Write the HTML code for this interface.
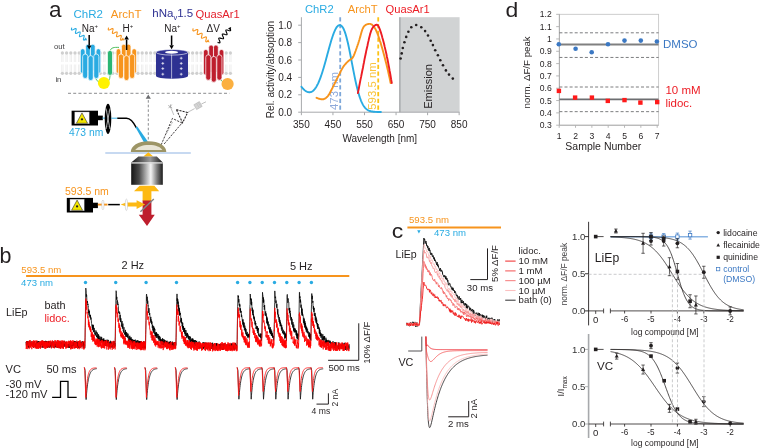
<!DOCTYPE html>
<html><head><meta charset="utf-8"><style>
html,body{margin:0;padding:0;background:#fff;}
body{width:760px;height:448px;overflow:hidden;}
svg{display:block;filter:blur(0.3px);}
text{font-family:"Liberation Sans",sans-serif;}
</style></head><body>
<svg width="760" height="448" viewBox="0 0 760 448">
<rect width="760" height="448" fill="#fff"/>
<text x="49.0" y="17.4" font-size="22.5" fill="#231f20" text-anchor="start" >a</text>
<text x="73.5" y="17.9" font-size="11.5" fill="#29abe2" text-anchor="start" >ChR2</text>
<text x="110.8" y="17.9" font-size="11.5" fill="#f7941d" text-anchor="start" >ArchT</text>
<text x="152.3" y="17.0" font-size="11.5" fill="#2e3192">hNa<tspan font-size="7.5" dy="2.8">v</tspan><tspan dy="-2.8">1.5</tspan></text>
<text x="195.6" y="17.8" font-size="11.2" fill="#e3202c" text-anchor="start" >QuasAr1</text>
<text x="81.8" y="31.7" font-size="10" fill="#231f20">Na<tspan font-size="6" dy="-3.5">+</tspan></text>
<text x="122.6" y="31.7" font-size="10" fill="#231f20">H<tspan font-size="6" dy="-3.5">+</tspan></text>
<text x="164.3" y="31.7" font-size="10" fill="#231f20">Na<tspan font-size="6" dy="-3.5">+</tspan></text>
<text x="206.6" y="31.7" font-size="10" fill="#231f20" text-anchor="start" >ΔV</text>
<path d="M61.70,54.5 L61.70,62 M63.10,54.5 L63.10,62 M61.70,64.5 L61.70,72 M63.10,64.5 L63.10,72 M65.90,54.5 L65.90,62 M67.30,54.5 L67.30,62 M65.90,64.5 L65.90,72 M67.30,64.5 L67.30,72 M70.10,54.5 L70.10,62 M71.50,54.5 L71.50,62 M70.10,64.5 L70.10,72 M71.50,64.5 L71.50,72 M74.30,54.5 L74.30,62 M75.70,54.5 L75.70,62 M74.30,64.5 L74.30,72 M75.70,64.5 L75.70,72 M78.50,54.5 L78.50,62 M79.90,54.5 L79.90,62 M78.50,64.5 L78.50,72 M79.90,64.5 L79.90,72 M82.70,54.5 L82.70,62 M84.10,54.5 L84.10,62 M82.70,64.5 L82.70,72 M84.10,64.5 L84.10,72 M86.90,54.5 L86.90,62 M88.30,54.5 L88.30,62 M86.90,64.5 L86.90,72 M88.30,64.5 L88.30,72 M91.10,54.5 L91.10,62 M92.50,54.5 L92.50,62 M91.10,64.5 L91.10,72 M92.50,64.5 L92.50,72 M95.30,54.5 L95.30,62 M96.70,54.5 L96.70,62 M95.30,64.5 L95.30,72 M96.70,64.5 L96.70,72 M99.50,54.5 L99.50,62 M100.90,54.5 L100.90,62 M99.50,64.5 L99.50,72 M100.90,64.5 L100.90,72 M103.70,54.5 L103.70,62 M105.10,54.5 L105.10,62 M103.70,64.5 L103.70,72 M105.10,64.5 L105.10,72 M107.90,54.5 L107.90,62 M109.30,54.5 L109.30,62 M107.90,64.5 L107.90,72 M109.30,64.5 L109.30,72 M112.10,54.5 L112.10,62 M113.50,54.5 L113.50,62 M112.10,64.5 L112.10,72 M113.50,64.5 L113.50,72 M116.30,54.5 L116.30,62 M117.70,54.5 L117.70,62 M116.30,64.5 L116.30,72 M117.70,64.5 L117.70,72 M120.50,54.5 L120.50,62 M121.90,54.5 L121.90,62 M120.50,64.5 L120.50,72 M121.90,64.5 L121.90,72 M124.70,54.5 L124.70,62 M126.10,54.5 L126.10,62 M124.70,64.5 L124.70,72 M126.10,64.5 L126.10,72 M128.90,54.5 L128.90,62 M130.30,54.5 L130.30,62 M128.90,64.5 L128.90,72 M130.30,64.5 L130.30,72 M133.10,54.5 L133.10,62 M134.50,54.5 L134.50,62 M133.10,64.5 L133.10,72 M134.50,64.5 L134.50,72 M137.30,54.5 L137.30,62 M138.70,54.5 L138.70,62 M137.30,64.5 L137.30,72 M138.70,64.5 L138.70,72 M141.50,54.5 L141.50,62 M142.90,54.5 L142.90,62 M141.50,64.5 L141.50,72 M142.90,64.5 L142.90,72 M145.70,54.5 L145.70,62 M147.10,54.5 L147.10,62 M145.70,64.5 L145.70,72 M147.10,64.5 L147.10,72 M149.90,54.5 L149.90,62 M151.30,54.5 L151.30,62 M149.90,64.5 L149.90,72 M151.30,64.5 L151.30,72 M154.10,54.5 L154.10,62 M155.50,54.5 L155.50,62 M154.10,64.5 L154.10,72 M155.50,64.5 L155.50,72 M158.30,54.5 L158.30,62 M159.70,54.5 L159.70,62 M158.30,64.5 L158.30,72 M159.70,64.5 L159.70,72 M162.50,54.5 L162.50,62 M163.90,54.5 L163.90,62 M162.50,64.5 L162.50,72 M163.90,64.5 L163.90,72 M166.70,54.5 L166.70,62 M168.10,54.5 L168.10,62 M166.70,64.5 L166.70,72 M168.10,64.5 L168.10,72 M170.90,54.5 L170.90,62 M172.30,54.5 L172.30,62 M170.90,64.5 L170.90,72 M172.30,64.5 L172.30,72 M175.10,54.5 L175.10,62 M176.50,54.5 L176.50,62 M175.10,64.5 L175.10,72 M176.50,64.5 L176.50,72 M179.30,54.5 L179.30,62 M180.70,54.5 L180.70,62 M179.30,64.5 L179.30,72 M180.70,64.5 L180.70,72 M183.50,54.5 L183.50,62 M184.90,54.5 L184.90,62 M183.50,64.5 L183.50,72 M184.90,64.5 L184.90,72 M187.70,54.5 L187.70,62 M189.10,54.5 L189.10,62 M187.70,64.5 L187.70,72 M189.10,64.5 L189.10,72 M191.90,54.5 L191.90,62 M193.30,54.5 L193.30,62 M191.90,64.5 L191.90,72 M193.30,64.5 L193.30,72 M196.10,54.5 L196.10,62 M197.50,54.5 L197.50,62 M196.10,64.5 L196.10,72 M197.50,64.5 L197.50,72 M200.30,54.5 L200.30,62 M201.70,54.5 L201.70,62 M200.30,64.5 L200.30,72 M201.70,64.5 L201.70,72 M204.50,54.5 L204.50,62 M205.90,54.5 L205.90,62 M204.50,64.5 L204.50,72 M205.90,64.5 L205.90,72 M208.70,54.5 L208.70,62 M210.10,54.5 L210.10,62 M208.70,64.5 L208.70,72 M210.10,64.5 L210.10,72 M212.90,54.5 L212.90,62 M214.30,54.5 L214.30,62 M212.90,64.5 L212.90,72 M214.30,64.5 L214.30,72 M217.10,54.5 L217.10,62 M218.50,54.5 L218.50,62 M217.10,64.5 L217.10,72 M218.50,64.5 L218.50,72 M221.30,54.5 L221.30,62 M222.70,54.5 L222.70,62 M221.30,64.5 L221.30,72 M222.70,64.5 L222.70,72 M225.50,54.5 L225.50,62 M226.90,54.5 L226.90,62 M225.50,64.5 L225.50,72 M226.90,64.5 L226.90,72 M229.70,54.5 L229.70,62 M231.10,54.5 L231.10,62 M229.70,64.5 L229.70,72 M231.10,64.5 L231.10,72" stroke="#dedede" stroke-width="0.5" fill="none"/>
<circle cx="62.40" cy="53.0" r="1.65" fill="#cfcfcf"/><circle cx="62.40" cy="73.3" r="1.65" fill="#cfcfcf"/>
<circle cx="66.60" cy="53.0" r="1.65" fill="#cfcfcf"/><circle cx="66.60" cy="73.3" r="1.65" fill="#cfcfcf"/>
<circle cx="70.80" cy="53.0" r="1.65" fill="#cfcfcf"/><circle cx="70.80" cy="73.3" r="1.65" fill="#cfcfcf"/>
<circle cx="75.00" cy="53.0" r="1.65" fill="#cfcfcf"/><circle cx="75.00" cy="73.3" r="1.65" fill="#cfcfcf"/>
<circle cx="79.20" cy="53.0" r="1.65" fill="#cfcfcf"/><circle cx="79.20" cy="73.3" r="1.65" fill="#cfcfcf"/>
<circle cx="83.40" cy="53.0" r="1.65" fill="#cfcfcf"/><circle cx="83.40" cy="73.3" r="1.65" fill="#cfcfcf"/>
<circle cx="87.60" cy="53.0" r="1.65" fill="#cfcfcf"/><circle cx="87.60" cy="73.3" r="1.65" fill="#cfcfcf"/>
<circle cx="91.80" cy="53.0" r="1.65" fill="#cfcfcf"/><circle cx="91.80" cy="73.3" r="1.65" fill="#cfcfcf"/>
<circle cx="96.00" cy="53.0" r="1.65" fill="#cfcfcf"/><circle cx="96.00" cy="73.3" r="1.65" fill="#cfcfcf"/>
<circle cx="100.20" cy="53.0" r="1.65" fill="#cfcfcf"/><circle cx="100.20" cy="73.3" r="1.65" fill="#cfcfcf"/>
<circle cx="104.40" cy="53.0" r="1.65" fill="#cfcfcf"/><circle cx="104.40" cy="73.3" r="1.65" fill="#cfcfcf"/>
<circle cx="108.60" cy="53.0" r="1.65" fill="#cfcfcf"/><circle cx="108.60" cy="73.3" r="1.65" fill="#cfcfcf"/>
<circle cx="112.80" cy="53.0" r="1.65" fill="#cfcfcf"/><circle cx="112.80" cy="73.3" r="1.65" fill="#cfcfcf"/>
<circle cx="117.00" cy="53.0" r="1.65" fill="#cfcfcf"/><circle cx="117.00" cy="73.3" r="1.65" fill="#cfcfcf"/>
<circle cx="121.20" cy="53.0" r="1.65" fill="#cfcfcf"/><circle cx="121.20" cy="73.3" r="1.65" fill="#cfcfcf"/>
<circle cx="125.40" cy="53.0" r="1.65" fill="#cfcfcf"/><circle cx="125.40" cy="73.3" r="1.65" fill="#cfcfcf"/>
<circle cx="129.60" cy="53.0" r="1.65" fill="#cfcfcf"/><circle cx="129.60" cy="73.3" r="1.65" fill="#cfcfcf"/>
<circle cx="133.80" cy="53.0" r="1.65" fill="#cfcfcf"/><circle cx="133.80" cy="73.3" r="1.65" fill="#cfcfcf"/>
<circle cx="138.00" cy="53.0" r="1.65" fill="#cfcfcf"/><circle cx="138.00" cy="73.3" r="1.65" fill="#cfcfcf"/>
<circle cx="142.20" cy="53.0" r="1.65" fill="#cfcfcf"/><circle cx="142.20" cy="73.3" r="1.65" fill="#cfcfcf"/>
<circle cx="146.40" cy="53.0" r="1.65" fill="#cfcfcf"/><circle cx="146.40" cy="73.3" r="1.65" fill="#cfcfcf"/>
<circle cx="150.60" cy="53.0" r="1.65" fill="#cfcfcf"/><circle cx="150.60" cy="73.3" r="1.65" fill="#cfcfcf"/>
<circle cx="154.80" cy="53.0" r="1.65" fill="#cfcfcf"/><circle cx="154.80" cy="73.3" r="1.65" fill="#cfcfcf"/>
<circle cx="159.00" cy="53.0" r="1.65" fill="#cfcfcf"/><circle cx="159.00" cy="73.3" r="1.65" fill="#cfcfcf"/>
<circle cx="163.20" cy="53.0" r="1.65" fill="#cfcfcf"/><circle cx="163.20" cy="73.3" r="1.65" fill="#cfcfcf"/>
<circle cx="167.40" cy="53.0" r="1.65" fill="#cfcfcf"/><circle cx="167.40" cy="73.3" r="1.65" fill="#cfcfcf"/>
<circle cx="171.60" cy="53.0" r="1.65" fill="#cfcfcf"/><circle cx="171.60" cy="73.3" r="1.65" fill="#cfcfcf"/>
<circle cx="175.80" cy="53.0" r="1.65" fill="#cfcfcf"/><circle cx="175.80" cy="73.3" r="1.65" fill="#cfcfcf"/>
<circle cx="180.00" cy="53.0" r="1.65" fill="#cfcfcf"/><circle cx="180.00" cy="73.3" r="1.65" fill="#cfcfcf"/>
<circle cx="184.20" cy="53.0" r="1.65" fill="#cfcfcf"/><circle cx="184.20" cy="73.3" r="1.65" fill="#cfcfcf"/>
<circle cx="188.40" cy="53.0" r="1.65" fill="#cfcfcf"/><circle cx="188.40" cy="73.3" r="1.65" fill="#cfcfcf"/>
<circle cx="192.60" cy="53.0" r="1.65" fill="#cfcfcf"/><circle cx="192.60" cy="73.3" r="1.65" fill="#cfcfcf"/>
<circle cx="196.80" cy="53.0" r="1.65" fill="#cfcfcf"/><circle cx="196.80" cy="73.3" r="1.65" fill="#cfcfcf"/>
<circle cx="201.00" cy="53.0" r="1.65" fill="#cfcfcf"/><circle cx="201.00" cy="73.3" r="1.65" fill="#cfcfcf"/>
<circle cx="205.20" cy="53.0" r="1.65" fill="#cfcfcf"/><circle cx="205.20" cy="73.3" r="1.65" fill="#cfcfcf"/>
<circle cx="209.40" cy="53.0" r="1.65" fill="#cfcfcf"/><circle cx="209.40" cy="73.3" r="1.65" fill="#cfcfcf"/>
<circle cx="213.60" cy="53.0" r="1.65" fill="#cfcfcf"/><circle cx="213.60" cy="73.3" r="1.65" fill="#cfcfcf"/>
<circle cx="217.80" cy="53.0" r="1.65" fill="#cfcfcf"/><circle cx="217.80" cy="73.3" r="1.65" fill="#cfcfcf"/>
<circle cx="222.00" cy="53.0" r="1.65" fill="#cfcfcf"/><circle cx="222.00" cy="73.3" r="1.65" fill="#cfcfcf"/>
<circle cx="226.20" cy="53.0" r="1.65" fill="#cfcfcf"/><circle cx="226.20" cy="73.3" r="1.65" fill="#cfcfcf"/>
<circle cx="230.40" cy="53.0" r="1.65" fill="#cfcfcf"/><circle cx="230.40" cy="73.3" r="1.65" fill="#cfcfcf"/>
<text x="54.0" y="48.9" font-size="7.7" fill="#414042" text-anchor="start" >out</text>
<text x="55.4" y="81.8" font-size="7.7" fill="#414042" text-anchor="start" >in</text>
<path d="M95.5,78 Q96.5,81 99,82" stroke="#39b54a" stroke-width="0.8" fill="none"/>
<path d="M108.5,81 Q110,79 110.2,75" stroke="#39b54a" stroke-width="0.8" fill="none"/>
<rect x="80.35" y="48.7" width="4.7" height="24.799999999999997" rx="2.35" fill="#29abe2" stroke="#fff" stroke-width="0.7"/>
<rect x="85.65" y="44.2" width="4.7" height="26.799999999999997" rx="2.35" fill="#29abe2" stroke="#fff" stroke-width="0.7"/>
<rect x="90.45" y="44.2" width="4.7" height="26.799999999999997" rx="2.35" fill="#29abe2" stroke="#fff" stroke-width="0.7"/>
<rect x="96.05" y="48.7" width="4.7" height="24.799999999999997" rx="2.35" fill="#29abe2" stroke="#fff" stroke-width="0.7"/>
<rect x="82.65" y="54.0" width="5.1" height="24.5" rx="2.55" fill="#29abe2" stroke="#fff" stroke-width="0.7"/>
<rect x="88.15" y="55.6" width="5.1" height="24.9" rx="2.55" fill="#29abe2" stroke="#fff" stroke-width="0.7"/>
<rect x="93.75" y="54.0" width="5.1" height="24.5" rx="2.55" fill="#29abe2" stroke="#fff" stroke-width="0.7"/>
<circle cx="103.9" cy="83.0" r="6.0" fill="#fff200"/>
<path d="M110,51 C111,47.5 114,47.2 119,47.4" stroke="#39b54a" stroke-width="0.9" fill="none"/>
<rect x="107.50" y="50.4" width="5.0" height="25.000000000000007" rx="2.5" fill="#2bb673" stroke="#fff" stroke-width="0.7"/>
<rect x="116.15" y="48.7" width="4.7" height="24.799999999999997" rx="2.35" fill="#f7941d" stroke="#fff" stroke-width="0.7"/>
<rect x="121.45" y="44.2" width="4.7" height="26.799999999999997" rx="2.35" fill="#f7941d" stroke="#fff" stroke-width="0.7"/>
<rect x="126.25" y="44.2" width="4.7" height="26.799999999999997" rx="2.35" fill="#f7941d" stroke="#fff" stroke-width="0.7"/>
<rect x="131.85" y="48.7" width="4.7" height="24.799999999999997" rx="2.35" fill="#f7941d" stroke="#fff" stroke-width="0.7"/>
<rect x="118.45" y="54.0" width="5.1" height="24.5" rx="2.55" fill="#f7941d" stroke="#fff" stroke-width="0.7"/>
<rect x="123.95" y="55.6" width="5.1" height="24.9" rx="2.55" fill="#f7941d" stroke="#fff" stroke-width="0.7"/>
<rect x="129.55" y="54.0" width="5.1" height="24.5" rx="2.55" fill="#f7941d" stroke="#fff" stroke-width="0.7"/>
<path d="M156,52.3 L156,76 A16,2.8 0 0 0 188,76 L188,52.3 Z" fill="#2e3192"/>
<ellipse cx="172" cy="52.3" rx="16" ry="2.8" fill="#2e3192" stroke="#fff" stroke-width="0.6"/>
<ellipse cx="171.6" cy="52.2" rx="6.6" ry="1.5" fill="#fff"/>
<line x1="171.6" y1="54.5" x2="171.6" y2="78.6" stroke="#fff" stroke-width="0.6" />
<path d="M161.4,58.2 h2.8 M162.8,56.800000000000004 v2.8" stroke="#fff" stroke-width="0.7"/>
<path d="M179.79999999999998,58.2 h2.8 M181.2,56.800000000000004 v2.8" stroke="#fff" stroke-width="0.7"/>
<path d="M161.4,63.4 h2.8 M162.8,62.0 v2.8" stroke="#fff" stroke-width="0.7"/>
<path d="M179.79999999999998,63.4 h2.8 M181.2,62.0 v2.8" stroke="#fff" stroke-width="0.7"/>
<path d="M161.4,68.6 h2.8 M162.8,67.19999999999999 v2.8" stroke="#fff" stroke-width="0.7"/>
<path d="M179.79999999999998,68.6 h2.8 M181.2,67.19999999999999 v2.8" stroke="#fff" stroke-width="0.7"/>
<path d="M161.4,74.2 h2.8 M162.8,72.8 v2.8" stroke="#fff" stroke-width="0.7"/>
<path d="M179.79999999999998,74.2 h2.8 M181.2,72.8 v2.8" stroke="#fff" stroke-width="0.7"/>
<path d="M221,80 Q222,82 224,82" stroke="#39b54a" stroke-width="0.8" fill="none"/>
<rect x="203.45" y="49.5" width="4.7" height="25.700000000000003" rx="2.35" fill="#be1e2d" stroke="#fff" stroke-width="0.7"/>
<rect x="208.75" y="45.0" width="4.7" height="27.700000000000003" rx="2.35" fill="#be1e2d" stroke="#fff" stroke-width="0.7"/>
<rect x="213.55" y="45.0" width="4.7" height="27.700000000000003" rx="2.35" fill="#be1e2d" stroke="#fff" stroke-width="0.7"/>
<rect x="219.15" y="49.5" width="4.7" height="25.700000000000003" rx="2.35" fill="#be1e2d" stroke="#fff" stroke-width="0.7"/>
<rect x="205.75" y="54.8" width="5.1" height="25.400000000000006" rx="2.55" fill="#be1e2d" stroke="#fff" stroke-width="0.7"/>
<rect x="211.25" y="56.4" width="5.1" height="25.800000000000004" rx="2.55" fill="#be1e2d" stroke="#fff" stroke-width="0.7"/>
<rect x="216.85" y="54.8" width="5.1" height="25.400000000000006" rx="2.55" fill="#be1e2d" stroke="#fff" stroke-width="0.7"/>
<circle cx="227.6" cy="84.0" r="6.1" fill="#fbb040"/>
<line x1="89.2" y1="35.0" x2="89.2" y2="45.5" stroke="#000" stroke-width="1.5" />
<path d="M89.20,49.50 L86.90,45.50 L91.50,45.50 Z" fill="#000"/>
<line x1="126.6" y1="50" x2="126.6" y2="39.6" stroke="#000" stroke-width="1.5" />
<path d="M126.60,35.60 L128.90,39.60 L124.30,39.60 Z" fill="#000"/>
<line x1="171.6" y1="35.5" x2="171.6" y2="45.2" stroke="#000" stroke-width="1.5" />
<path d="M171.60,49.20 L169.30,45.20 L173.90,45.20 Z" fill="#000"/>
<path d="M71.80,27.60 L71.59,28.32 L71.45,28.97 L71.41,29.49 L71.52,29.83 L71.78,29.99 L72.21,29.96 L72.77,29.77 L73.42,29.48 L74.10,29.15 L74.75,28.85 L75.32,28.64 L75.77,28.59 L76.06,28.72 L76.19,29.04 L76.17,29.53 L76.04,30.17 L75.84,30.88 L75.63,31.60 L75.47,32.26 L75.41,32.80 L75.50,33.18 L75.74,33.36 L76.15,33.36 L76.69,33.19 L77.33,32.91 L78.01,32.58 L78.67,32.27 L79.26,32.05 L79.72,31.97 L80.04,32.07 L80.19,32.36 L80.19,32.84 L80.07,33.45 L79.88,34.16 L79.66,34.88 L79.49,35.56 L79.42,36.12 L79.48,36.52 L79.71,36.73 L80.09,36.75 L80.61,36.60 L81.24,36.34 L81.92,36.01 L82.58,35.69 L83.19,35.45 L83.67,35.35 L84.01,35.42 L84.19,35.69 L84.21,36.14 L84.10,36.74 L83.91,37.44 L83.70,38.16 L83.52,38.85 L83.43,39.43 L83.47,39.85 L83.67,40.09 L84.03,40.14 L84.54,40.02 L85.15,39.76 L85.82,39.44" fill="none" stroke="#29abe2" stroke-width="1.1"/>
<path d="M87.20,40.60 L83.94,39.81 L85.88,37.52 Z" fill="#29abe2"/>
<path d="M108.60,27.60 L108.41,28.32 L108.27,28.98 L108.24,29.50 L108.36,29.85 L108.63,30.01 L109.06,29.97 L109.62,29.78 L110.27,29.49 L110.95,29.15 L111.61,28.84 L112.18,28.63 L112.63,28.58 L112.93,28.70 L113.07,29.03 L113.06,29.53 L112.93,30.16 L112.75,30.88 L112.55,31.61 L112.40,32.28 L112.36,32.82 L112.45,33.20 L112.70,33.38 L113.11,33.38 L113.65,33.20 L114.29,32.92 L114.97,32.58 L115.63,32.27 L116.22,32.04 L116.69,31.96 L117.01,32.06 L117.17,32.36 L117.18,32.83 L117.07,33.45 L116.89,34.17 L116.69,34.90 L116.54,35.58 L116.47,36.14 L116.55,36.54 L116.77,36.76 L117.16,36.77 L117.69,36.63 L118.31,36.35 L118.99,36.02 L119.66,35.70 L120.26,35.45 L120.75,35.35 L121.09,35.42 L121.28,35.69 L121.31,36.14 L121.21,36.75 L121.04,37.45 L120.84,38.18 L120.67,38.87 L120.59,39.46 L120.64,39.89 L120.85,40.13 L121.21,40.17 L121.72,40.04 L122.34,39.78 L123.01,39.46" fill="none" stroke="#f7941d" stroke-width="1.1"/>
<path d="M124.40,40.60 L121.13,39.85 L123.04,37.54 Z" fill="#f7941d"/>
<path d="M193.20,28.40 L193.01,29.13 L192.88,29.79 L192.85,30.33 L192.98,30.69 L193.26,30.87 L193.71,30.85 L194.28,30.68 L194.95,30.41 L195.65,30.10 L196.32,29.82 L196.91,29.63 L197.38,29.59 L197.69,29.74 L197.83,30.07 L197.83,30.59 L197.71,31.23 L197.52,31.96 L197.33,32.70 L197.18,33.37 L197.14,33.93 L197.24,34.32 L197.50,34.52 L197.93,34.53 L198.49,34.38 L199.14,34.12 L199.84,33.81 L200.52,33.52 L201.13,33.31 L201.62,33.25 L201.95,33.37 L202.12,33.68 L202.13,34.17 L202.03,34.80 L201.85,35.52 L201.65,36.26 L201.49,36.95 L201.43,37.52 L201.51,37.94 L201.75,38.17 L202.15,38.21 L202.69,38.08 L203.34,37.83 L204.04,37.52 L204.72,37.22 L205.35,37.00 L205.85,36.92 L206.21,37.01 L206.40,37.29 L206.43,37.76 L206.34,38.37 L206.17,39.08 L205.97,39.82 L205.81,40.52 L205.73,41.12 L205.79,41.56 L206.00,41.81 L206.38,41.88 L206.90,41.77 L207.54,41.54 L208.23,41.23" fill="none" stroke="#f7941d" stroke-width="1.1"/>
<path d="M209.60,42.40 L206.34,41.59 L208.29,39.31 Z" fill="#f7941d"/>
<path d="M217.60,42.40 L218.32,42.62 L218.97,42.77 L219.49,42.82 L219.84,42.71 L220.01,42.44 L219.99,42.01 L219.82,41.45 L219.55,40.79 L219.24,40.10 L218.96,39.43 L218.77,38.85 L218.73,38.39 L218.87,38.10 L219.19,37.97 L219.70,38.00 L220.33,38.14 L221.04,38.35 L221.76,38.57 L222.43,38.74 L222.97,38.81 L223.35,38.72 L223.54,38.48 L223.55,38.07 L223.40,37.52 L223.14,36.87 L222.83,36.18 L222.54,35.51 L222.33,34.91 L222.27,34.43 L222.38,34.12 L222.68,33.97 L223.16,33.97 L223.78,34.10 L224.48,34.31 L225.21,34.53 L225.88,34.71 L226.45,34.79 L226.85,34.73 L227.07,34.51 L227.11,34.12 L226.98,33.59 L226.73,32.95 L226.42,32.26 L226.12,31.58 L225.90,30.97 L225.81,30.48 L225.90,30.14 L226.17,29.96 L226.63,29.95 L227.23,30.06 L227.92,30.26 L228.65,30.48 L229.34,30.67 L229.92,30.77 L230.35,30.73 L230.60,30.54 L230.66,30.17 L230.55,29.66 L230.31,29.03 L230.01,28.35" fill="none" stroke="#000" stroke-width="1.1"/>
<path d="M231.20,27.00 L230.34,30.24 L228.09,28.26 Z" fill="#000"/>
<line x1="68" y1="93.3" x2="229.5" y2="93.3" stroke="#6d6e71" stroke-width="0.8" stroke-dasharray="3,2.2"/>
<line x1="148.3" y1="139.5" x2="148.3" y2="98.3" stroke="#6d6e71" stroke-width="0.8" stroke-dasharray="2.6,2"/>
<path d="M148.3,94.6 L150.9,98.8 L145.7,98.8 Z" fill="#6d6e71"/>
<rect x="71.6" y="110.7" width="26.400000000000006" height="14.799999999999997" fill="#000"/>
<rect x="98" y="115.6" width="4.799999999999997" height="4.6000000000000085" fill="#000"/>
<rect x="74.80" y="112.00" width="14.36" height="11.80" fill="#fff" stroke="#aaa" stroke-width="0.4"/>
<path d="M81.98,112.90 L87.58,123.30 L76.38,123.30 Z" fill="#f2e600" stroke="#231f20" stroke-width="0.55" stroke-linejoin="round"/>
<circle cx="81.98" cy="119.35" r="1.15" fill="#231f20"/>
<line x1="102.5" y1="118.1" x2="105.5" y2="118.1" stroke="#29abe2" stroke-width="0.9" />
<ellipse cx="108.0" cy="118.8" rx="3.3" ry="15.1" fill="#000"/>
<path d="M106.0,108.5 Q108,118.8 110.0,129.1 M110.0,108.5 Q108,118.8 106.0,129.1" stroke="#fff" stroke-width="0.7" fill="none"/>
<path d="M105.8,112 Q108,110 110.2,112 M105.8,125.6 Q108,127.6 110.2,125.6" stroke="#777" stroke-width="0.4" fill="none"/>
<line x1="111.2" y1="118.2" x2="117.5" y2="118.2" stroke="#29abe2" stroke-width="0.9" />
<path d="M117.3,118.2 L126.5,118.2 C130.5,118.2 133,121 136.4,127.9" fill="none" stroke="#000" stroke-width="1.4"/>
<path d="M135.6,127.4 L137.3,126.6 L148.0,141.8 L143.9,142.2 Z" fill="#29abe2"/>
<text x="68.9" y="135.5" font-size="10.3" fill="#29abe2" text-anchor="start" >473 nm</text>
<path d="M161.2,144.8 L172.4,118.4 L182.0,123.0 L163.8,144.4" stroke="#231f20" stroke-width="0.85" stroke-dasharray="2.2,1.2" fill="none"/>
<path d="M166.5,133.5 L172.8,121.5" stroke="#555" stroke-width="0.5" stroke-dasharray="1.6,1.2" fill="none"/>
<path d="M176.4,109.6 L187.6,112.6 L182.6,122.8 Z" stroke="#231f20" stroke-width="1.05" stroke-dasharray="2.1,1.1" fill="none"/>
<path d="M173.8,115.0 L170.6,107.2" stroke="#808080" stroke-width="0.5" fill="none"/>
<path d="M168.2,105.4 l4,2.6 M168.6,108.2 l3.2,-3.6 M170.6,104.4 v3.4" stroke="#9a9a9a" stroke-width="0.7"/>
<path d="M187.6,112.4 L194.6,108.6" stroke="#808080" stroke-width="0.5"/>
<rect x="-3.2" y="-2.8" width="6.4" height="5.6" fill="#d4d4d4" stroke="#a0a0a0" stroke-width="0.4" transform="translate(198,105.6) rotate(-30)"/>
<path d="M196.6,103.4 l2.4,4 M198.4,102.6 l2.4,4" stroke="#b0b0b0" stroke-width="0.4"/>
<path d="M201.4,104.0 L206.0,101.8" stroke="#808080" stroke-width="0.5"/>
<path d="M130.8,152 C130.8,146 138,141.3 148.5,141.3 C159,141.3 166.3,146 166.3,152 Z" fill="#9d9566"/>
<path d="M135.2,150.0 C137.5,147.0 142,145.0 149,145.0 C156,145.0 160.5,147.0 162.4,150.0 Z" fill="#e9e5d6"/>
<line x1="105.3" y1="153.0" x2="190.8" y2="153.0" stroke="#8fb4e3" stroke-width="1.2" />
<path d="M148.3,152.2 L153.3,156.6 L143.3,156.6 Z" fill="#fdb913"/>
<defs><linearGradient id="obj" x1="0" x2="1" y1="0" y2="0">
<stop offset="0" stop-color="#151515"/><stop offset="0.25" stop-color="#4a4a4a"/><stop offset="0.62" stop-color="#f4f4f4"/><stop offset="0.82" stop-color="#7a7a7a"/><stop offset="1" stop-color="#1a1a1a"/></linearGradient>
<linearGradient id="objtop" x1="0" x2="1" y1="0" y2="0">
<stop offset="0" stop-color="#1a1a1a"/><stop offset="0.6" stop-color="#9a9a9a"/><stop offset="1" stop-color="#1a1a1a"/></linearGradient></defs>
<path d="M138.4,156.6 L156.8,156.6 L162.8,162.6 L131.2,162.6 Z" fill="url(#objtop)"/>
<rect x="131.2" y="162.4" width="31.6" height="22.4" fill="url(#obj)"/>
<rect x="131.2" y="162.2" width="31.6" height="1.5" fill="#d8d8d8" opacity="0.85"/>
<path d="M134,191.2 L139.6,185.8 L154.4,185.8 L159.2,191.2 L151.4,191.2 L151.4,201 L142.6,201 L142.6,191.2 Z" fill="#fdb913"/>
<path d="M142.6,200.6 L151.4,200.6 L151.4,214.8 L154.8,214.8 L147,226.0 L138.8,214.8 L142.6,214.8 Z" fill="#be1e2d"/>
<line x1="140.4" y1="211.8" x2="153.8" y2="199" stroke="#808285" stroke-width="1.4" />
<rect x="66.8" y="197.9" width="26.200000000000003" height="14.599999999999994" fill="#000"/>
<rect x="93" y="202.7" width="4.900000000000006" height="5.400000000000006" fill="#000"/>
<rect x="70.00" y="199.20" width="14.16" height="11.60" fill="#fff" stroke="#aaa" stroke-width="0.4"/>
<path d="M77.08,200.10 L82.60,210.30 L71.56,210.30 Z" fill="#f2e600" stroke="#231f20" stroke-width="0.55" stroke-linejoin="round"/>
<circle cx="77.08" cy="206.42" r="1.15" fill="#231f20"/>
<line x1="97.9" y1="204.6" x2="107.5" y2="204.6" stroke="#f7941d" stroke-width="1.9" />
<ellipse cx="102.9" cy="204.9" rx="1.1" ry="4.9" fill="#fff" stroke="#bbb" stroke-width="0.5"/>
<line x1="108.2" y1="204.6" x2="119.8" y2="204.6" stroke="#000" stroke-width="1.5" />
<path d="M120.6,204.6 L126.4,202.6 L136.6,202.6 L136.6,200.2 L145.2,204.6 L136.6,209.0 L136.6,206.6 L126.4,206.6 Z" fill="#fdb913"/>
<ellipse cx="126.4" cy="204.8" rx="1.2" ry="5.8" fill="#fff" stroke="#bbb" stroke-width="0.5"/>
<text x="65.0" y="194.6" font-size="10.5" fill="#f7941d" text-anchor="start" >593.5 nm</text>
<rect x="399.2" y="17.2" width="60.4" height="95" fill="#d1d3d4"/>
<line x1="399.9" y1="17.2" x2="399.9" y2="112.2" stroke="#a7a9ac" stroke-width="1.4" />
<line x1="301.4" y1="17.2" x2="301.4" y2="112.2" stroke="#a7a9ac" stroke-width="1.0" />
<line x1="301.4" y1="112.2" x2="459.6" y2="112.2" stroke="#a7a9ac" stroke-width="1.0" />
<line x1="298.2" y1="112.2" x2="301.4" y2="112.2" stroke="#a7a9ac" stroke-width="1.0" />
<text x="292.2" y="115.8" font-size="10" fill="#231f20" text-anchor="end" >0.0</text>
<line x1="298.2" y1="94.8" x2="301.4" y2="94.8" stroke="#a7a9ac" stroke-width="1.0" />
<text x="292.2" y="98.39999999999999" font-size="10" fill="#231f20" text-anchor="end" >0.2</text>
<line x1="298.2" y1="77.4" x2="301.4" y2="77.4" stroke="#a7a9ac" stroke-width="1.0" />
<text x="292.2" y="81.0" font-size="10" fill="#231f20" text-anchor="end" >0.4</text>
<line x1="298.2" y1="59.99999999999999" x2="301.4" y2="59.99999999999999" stroke="#a7a9ac" stroke-width="1.0" />
<text x="292.2" y="63.599999999999994" font-size="10" fill="#231f20" text-anchor="end" >0.6</text>
<line x1="298.2" y1="42.599999999999994" x2="301.4" y2="42.599999999999994" stroke="#a7a9ac" stroke-width="1.0" />
<text x="292.2" y="46.199999999999996" font-size="10" fill="#231f20" text-anchor="end" >0.8</text>
<line x1="298.2" y1="25.200000000000003" x2="301.4" y2="25.200000000000003" stroke="#a7a9ac" stroke-width="1.0" />
<text x="292.2" y="28.800000000000004" font-size="10" fill="#231f20" text-anchor="end" >1.0</text>
<line x1="301.4" y1="112.2" x2="301.4" y2="115.2" stroke="#a7a9ac" stroke-width="1.0" />
<text x="301.4" y="127.8" font-size="10" fill="#231f20" text-anchor="middle" >350</text>
<line x1="332.95" y1="112.2" x2="332.95" y2="115.2" stroke="#a7a9ac" stroke-width="1.0" />
<text x="332.95" y="127.8" font-size="10" fill="#231f20" text-anchor="middle" >450</text>
<line x1="364.5" y1="112.2" x2="364.5" y2="115.2" stroke="#a7a9ac" stroke-width="1.0" />
<text x="364.5" y="127.8" font-size="10" fill="#231f20" text-anchor="middle" >550</text>
<line x1="396.04999999999995" y1="112.2" x2="396.04999999999995" y2="115.2" stroke="#a7a9ac" stroke-width="1.0" />
<text x="396.04999999999995" y="127.8" font-size="10" fill="#231f20" text-anchor="middle" >650</text>
<line x1="427.59999999999997" y1="112.2" x2="427.59999999999997" y2="115.2" stroke="#a7a9ac" stroke-width="1.0" />
<text x="427.59999999999997" y="127.8" font-size="10" fill="#231f20" text-anchor="middle" >750</text>
<line x1="459.15" y1="112.2" x2="459.15" y2="115.2" stroke="#a7a9ac" stroke-width="1.0" />
<text x="459.15" y="127.8" font-size="10" fill="#231f20" text-anchor="middle" >850</text>
<text x="379.8" y="142.2" font-size="10" fill="#231f20" text-anchor="middle" >Wavelength [nm]</text>
<text x="0" y="0" font-size="10" fill="#231f20" text-anchor="middle" transform="translate(273.6,69.5) rotate(-90)" >Rel. activity/absoption</text>
<line x1="340.2065" y1="17.2" x2="340.2065" y2="112.2" stroke="#7da7d9" stroke-width="1.8" stroke-dasharray="4.2,2.6"/>
<line x1="378.22425" y1="17.2" x2="378.22425" y2="112.2" stroke="#fcc216" stroke-width="1.8" stroke-dasharray="4.2,2.6"/>
<text x="0" y="0" font-size="11.4" fill="#8eaadb" text-anchor="middle" transform="translate(338.3,91.0) rotate(-90)" >473 nm</text>
<text x="0" y="0" font-size="11.4" fill="#f9c33c" text-anchor="middle" transform="translate(375.8,86.0) rotate(-90)" >593.5 nm</text>
<path d="M301.40,86.68 L301.90,87.32 L302.40,87.92 L302.90,88.49 L303.40,89.02 L303.90,89.51 L304.40,89.97 L304.90,90.39 L305.40,90.76 L305.90,91.10 L306.40,91.40 L306.90,91.65 L307.40,91.86 L307.90,92.03 L308.40,92.14 L308.90,92.22 L309.40,92.24 L309.90,92.21 L310.40,92.13 L310.90,92.00 L311.40,91.81 L311.90,91.57 L312.40,91.26 L312.90,90.90 L313.40,90.48 L313.90,90.00 L314.40,89.46 L314.90,88.85 L315.40,88.17 L315.90,87.44 L316.40,86.63 L316.90,85.76 L317.40,84.82 L317.90,83.82 L318.40,82.75 L318.90,81.61 L319.40,80.41 L319.90,79.15 L320.40,77.82 L320.90,76.44 L321.40,74.99 L321.90,73.49 L322.40,71.93 L322.90,70.33 L323.40,68.68 L323.90,66.99 L324.40,65.25 L324.90,63.49 L325.40,61.69 L325.90,59.88 L326.40,58.04 L326.90,56.19 L327.40,54.34 L327.90,52.48 L328.40,50.64 L328.90,48.80 L329.40,46.99 L329.90,45.20 L330.40,43.45 L330.90,41.74 L331.40,40.08 L331.90,38.48 L332.40,36.93 L332.90,35.46 L333.40,34.06 L333.90,32.75 L334.40,31.52 L334.90,30.39 L335.40,29.36 L335.90,28.43 L336.40,27.61 L336.90,26.90 L337.40,26.32 L337.90,25.85 L338.40,25.50 L338.90,25.28 L339.40,25.18 L339.90,25.21 L340.40,25.33 L340.90,25.54 L341.40,25.87 L341.90,26.32 L342.40,26.91 L342.90,27.65 L343.40,28.53 L343.90,29.57 L344.40,30.76 L344.90,32.09 L345.40,33.58 L345.90,35.21 L346.40,36.99 L346.90,38.89 L347.40,40.91 L347.90,43.05 L348.40,45.29 L348.90,47.62 L349.40,50.04 L349.90,52.52 L350.40,55.05 L350.90,57.62 L351.40,60.22 L351.90,62.83 L352.40,65.44 L352.90,68.04 L353.40,70.61 L353.90,73.15 L354.40,75.64 L354.90,78.07 L355.40,80.43 L355.90,82.71 L356.40,84.92 L356.90,87.03 L357.40,89.05 L357.90,90.97 L358.40,92.79 L358.90,94.51 L359.40,96.13 L359.90,97.64 L360.40,99.04 L360.90,100.35 L361.40,101.56 L361.90,102.67 L362.40,103.69 L362.90,104.62 L363.40,105.47 L363.90,106.24 L364.40,106.93 L364.90,107.56 L365.40,108.12 L365.90,108.62 L366.40,109.06 L366.90,109.45 L367.40,109.80 L367.90,110.10 L368.40,110.37 L368.90,110.60 L369.40,110.81 L369.90,110.98 L370.40,111.14 L370.90,111.27 L371.40,111.38 L371.90,111.48 L372.40,111.56 L372.90,111.63 L373.40,111.69 L373.90,111.74 L374.40,111.79 L374.90,111.83 L375.40,111.86 L375.90,111.88 L376.40,111.91 L376.90,111.93 L377.40,111.95 L377.90,111.96 L378.40,111.97 L378.90,111.99 L379.40,112.00 L379.90,112.01 L380.40,112.01 L380.90,112.02" fill="none" stroke="#29abe2" stroke-width="1.9" stroke-linejoin="round" stroke-linecap="round"/>
<path d="M316.5,97.8 L316.8,97.9 L317.1,98.0 L317.5,98.2 L318.0,98.4 L318.5,98.6 L319.0,98.7 L319.5,98.9 L320.0,99.0 L320.5,99.1 L320.9,99.2 L321.4,99.3 L321.8,99.3 L322.3,99.4 L322.8,99.3 L323.3,99.3 L323.8,99.1 L324.3,98.9 L324.8,98.7 L325.3,98.4 L325.9,98.0 L326.4,97.6 L327.0,97.1 L327.5,96.5 L328.1,95.8 L328.7,94.9 L329.3,93.9 L330.0,92.8 L330.6,91.5 L331.3,90.3 L331.9,88.9 L332.6,87.7 L333.2,86.4 L333.8,85.2 L334.5,83.9 L335.1,82.6 L335.8,81.3 L336.4,80.0 L337.0,78.7 L337.7,77.4 L338.3,76.2 L338.9,75.0 L339.6,73.7 L340.2,72.5 L340.8,71.2 L341.4,70.0 L342.0,68.9 L342.7,67.8 L343.3,66.8 L343.9,65.9 L344.6,65.0 L345.2,64.3 L345.9,63.5 L346.5,62.9 L347.2,62.2 L347.8,61.6 L348.4,61.0 L349.0,60.5 L349.6,60.1 L350.1,59.7 L350.7,59.4 L351.2,59.0 L351.8,58.6 L352.3,58.1 L352.8,57.4 L353.3,56.6 L353.8,55.6 L354.2,54.5 L354.7,53.4 L355.1,52.2 L355.6,51.0 L356.0,49.8 L356.4,48.7 L356.8,47.6 L357.1,46.6 L357.5,45.6 L357.8,44.6 L358.2,43.6 L358.5,42.5 L358.9,41.3 L359.3,40.0 L359.7,38.5 L360.2,36.9 L360.7,35.1 L361.2,33.3 L361.7,31.6 L362.2,29.9 L362.8,28.5 L363.4,27.3 L364.0,26.4 L364.7,25.7 L365.4,25.1 L366.2,24.7 L366.9,24.3 L367.6,24.1 L368.3,24.0 L369.0,23.9 L369.6,23.9 L370.2,23.9 L370.8,24.1 L371.3,24.3 L371.9,24.6 L372.4,25.0 L372.9,25.6 L373.5,26.2 L374.1,26.9 L374.6,27.7 L375.1,28.6 L375.7,29.6 L376.2,30.7 L376.8,32.0 L377.4,33.4 L378.0,35.0 L378.6,36.8 L379.3,38.9 L380.0,41.1 L380.8,43.4 L381.5,45.9 L382.2,48.3 L382.9,50.7 L383.5,53.0 L384.1,55.3 L384.7,57.6 L385.3,59.9 L385.9,62.3 L386.5,64.5 L387.0,66.7 L387.5,68.8 L388.0,70.8 L388.4,72.7 L388.8,74.5 L389.2,76.3 L389.6,78.0 L389.9,79.6 L390.2,80.9 L390.4,82.1 L390.6,83.0" fill="none" stroke="#f7941d" stroke-width="1.9" stroke-linejoin="round" stroke-linecap="round" />
<path d="M357.9,93.1 L358.2,91.4 L358.7,89.1 L359.2,86.4 L359.8,83.3 L360.4,80.1 L361.1,76.9 L361.7,73.7 L362.3,70.8 L362.9,68.0 L363.4,65.1 L364.0,62.2 L364.5,59.4 L365.1,56.5 L365.7,53.8 L366.2,51.1 L366.8,48.5 L367.4,46.0 L367.9,43.4 L368.5,40.9 L369.0,38.5 L369.6,36.2 L370.1,34.1 L370.7,32.2 L371.2,30.6 L371.8,29.3 L372.4,28.2 L373.0,27.3 L373.5,26.5 L374.1,26.0 L374.7,25.6 L375.2,25.2 L375.7,25.0 L376.2,24.8 L376.6,24.7 L377.0,24.7 L377.3,24.9 L377.7,25.2 L378.1,25.7 L378.5,26.4 L379.0,27.3 L379.5,28.5 L380.0,29.9 L380.6,31.6 L381.2,33.4 L381.8,35.4 L382.3,37.5 L382.9,39.6 L383.5,41.8 L384.1,44.0 L384.6,46.4 L385.2,48.9 L385.8,51.4 L386.4,54.0 L386.9,56.7 L387.5,59.3 L388.0,61.9 L388.5,64.6 L389.1,67.6 L389.6,70.7 L390.2,73.7 L390.7,76.6 L391.1,79.2 L391.5,81.4 L391.8,83.0" fill="none" stroke="#ed1c24" stroke-width="1.9" stroke-linejoin="round" stroke-linecap="round" />
<circle cx="400.6" cy="58.5" r="1.3" fill="#231f20"/>
<circle cx="401.7" cy="53.4" r="1.3" fill="#231f20"/>
<circle cx="402.8" cy="48" r="1.3" fill="#231f20"/>
<circle cx="404.4" cy="42.2" r="1.3" fill="#231f20"/>
<circle cx="406.2" cy="36.9" r="1.3" fill="#231f20"/>
<circle cx="408.4" cy="31.7" r="1.3" fill="#231f20"/>
<circle cx="411.3" cy="27.3" r="1.3" fill="#231f20"/>
<circle cx="416.2" cy="25" r="1.3" fill="#231f20"/>
<circle cx="421.3" cy="27.3" r="1.3" fill="#231f20"/>
<circle cx="425.1" cy="31.1" r="1.3" fill="#231f20"/>
<circle cx="428" cy="35.5" r="1.3" fill="#231f20"/>
<circle cx="430.7" cy="40.7" r="1.3" fill="#231f20"/>
<circle cx="432.9" cy="45.1" r="1.3" fill="#231f20"/>
<circle cx="435.2" cy="50.3" r="1.3" fill="#231f20"/>
<circle cx="437.9" cy="55.2" r="1.3" fill="#231f20"/>
<circle cx="440.3" cy="60.3" r="1.3" fill="#231f20"/>
<circle cx="443" cy="65.2" r="1.3" fill="#231f20"/>
<circle cx="445.9" cy="70.4" r="1.3" fill="#231f20"/>
<circle cx="449" cy="74.6" r="1.3" fill="#231f20"/>
<circle cx="452.8" cy="78.6" r="1.3" fill="#231f20"/>
<text x="0" y="0" font-size="11" fill="#231f20" text-anchor="middle" transform="translate(431.6,86.4) rotate(-90)" >Emission</text>
<text x="305.0" y="13.2" font-size="11.2" fill="#29abe2" text-anchor="start" >ChR2</text>
<text x="347.8" y="13.2" font-size="11.2" fill="#f7941d" text-anchor="start" >ArchT</text>
<text x="385.6" y="13.2" font-size="11.2" fill="#ed1c24" text-anchor="start" >QuasAr1</text>
<text x="0" y="0" font-size="20.5" fill="#231f20" transform="translate(505.6,17.0) scale(1.12,1)">d</text>
<rect x="559.4" y="14.32" width="99.20000000000005" height="110.88" fill="none" stroke="#c8c8c8" stroke-width="0.9"/>
<line x1="559.4" y1="14.320000000000007" x2="559.4" y2="125.2" stroke="#b0b0b0" stroke-width="1.1" />
<line x1="559.4" y1="125.2" x2="658.6" y2="125.2" stroke="#b0b0b0" stroke-width="1.1" />
<line x1="556.1999999999999" y1="14.320000000000007" x2="559.4" y2="14.320000000000007" stroke="#b0b0b0" stroke-width="0.9" />
<text x="551.8" y="17.320000000000007" font-size="8.6" fill="#231f20" text-anchor="end" >1.2</text>
<line x1="556.1999999999999" y1="26.64000000000003" x2="559.4" y2="26.64000000000003" stroke="#b0b0b0" stroke-width="0.9" />
<text x="551.8" y="29.64000000000003" font-size="8.6" fill="#231f20" text-anchor="end" >1.1</text>
<line x1="556.1999999999999" y1="38.96000000000001" x2="559.4" y2="38.96000000000001" stroke="#b0b0b0" stroke-width="0.9" />
<text x="551.8" y="41.96000000000001" font-size="8.6" fill="#231f20" text-anchor="end" >1</text>
<line x1="556.1999999999999" y1="51.280000000000015" x2="559.4" y2="51.280000000000015" stroke="#b0b0b0" stroke-width="0.9" />
<text x="551.8" y="54.280000000000015" font-size="8.6" fill="#231f20" text-anchor="end" >0.9</text>
<line x1="556.1999999999999" y1="63.60000000000001" x2="559.4" y2="63.60000000000001" stroke="#b0b0b0" stroke-width="0.9" />
<text x="551.8" y="66.60000000000001" font-size="8.6" fill="#231f20" text-anchor="end" >0.8</text>
<line x1="556.1999999999999" y1="75.92000000000002" x2="559.4" y2="75.92000000000002" stroke="#b0b0b0" stroke-width="0.9" />
<text x="551.8" y="78.92000000000002" font-size="8.6" fill="#231f20" text-anchor="end" >0.7</text>
<line x1="556.1999999999999" y1="88.24000000000001" x2="559.4" y2="88.24000000000001" stroke="#b0b0b0" stroke-width="0.9" />
<text x="551.8" y="91.24000000000001" font-size="8.6" fill="#231f20" text-anchor="end" >0.6</text>
<line x1="556.1999999999999" y1="100.56000000000002" x2="559.4" y2="100.56000000000002" stroke="#b0b0b0" stroke-width="0.9" />
<text x="551.8" y="103.56000000000002" font-size="8.6" fill="#231f20" text-anchor="end" >0.5</text>
<line x1="556.1999999999999" y1="112.88000000000001" x2="559.4" y2="112.88000000000001" stroke="#b0b0b0" stroke-width="0.9" />
<text x="551.8" y="115.88000000000001" font-size="8.6" fill="#231f20" text-anchor="end" >0.4</text>
<line x1="556.1999999999999" y1="125.2" x2="559.4" y2="125.2" stroke="#b0b0b0" stroke-width="0.9" />
<text x="551.8" y="128.2" font-size="8.6" fill="#231f20" text-anchor="end" >0.3</text>
<line x1="559.2" y1="125.2" x2="559.2" y2="127.8" stroke="#b0b0b0" stroke-width="0.9" />
<text x="559.2" y="138.6" font-size="8.6" fill="#231f20" text-anchor="middle" >1</text>
<line x1="575.5300000000001" y1="125.2" x2="575.5300000000001" y2="127.8" stroke="#b0b0b0" stroke-width="0.9" />
<text x="575.5300000000001" y="138.6" font-size="8.6" fill="#231f20" text-anchor="middle" >2</text>
<line x1="591.86" y1="125.2" x2="591.86" y2="127.8" stroke="#b0b0b0" stroke-width="0.9" />
<text x="591.86" y="138.6" font-size="8.6" fill="#231f20" text-anchor="middle" >3</text>
<line x1="608.19" y1="125.2" x2="608.19" y2="127.8" stroke="#b0b0b0" stroke-width="0.9" />
<text x="608.19" y="138.6" font-size="8.6" fill="#231f20" text-anchor="middle" >4</text>
<line x1="624.52" y1="125.2" x2="624.52" y2="127.8" stroke="#b0b0b0" stroke-width="0.9" />
<text x="624.52" y="138.6" font-size="8.6" fill="#231f20" text-anchor="middle" >5</text>
<line x1="640.85" y1="125.2" x2="640.85" y2="127.8" stroke="#b0b0b0" stroke-width="0.9" />
<text x="640.85" y="138.6" font-size="8.6" fill="#231f20" text-anchor="middle" >6</text>
<line x1="657.1800000000001" y1="125.2" x2="657.1800000000001" y2="127.8" stroke="#b0b0b0" stroke-width="0.9" />
<text x="657.1800000000001" y="138.6" font-size="8.6" fill="#231f20" text-anchor="middle" >7</text>
<text x="603.3" y="150.2" font-size="10.5" fill="#231f20" text-anchor="middle" >Sample Number</text>
<text x="0" y="0" font-size="9.7" fill="#231f20" text-anchor="middle" transform="translate(530.0,72.4) rotate(-90)" >norm. ΔF/F peak</text>
<line x1="559.4" y1="32.8" x2="658.6" y2="32.8" stroke="#6d6e71" stroke-width="0.9" stroke-dasharray="3,2.1"/>
<line x1="559.4" y1="57.44" x2="658.6" y2="57.44" stroke="#6d6e71" stroke-width="0.9" stroke-dasharray="3,2.1"/>
<line x1="559.4" y1="87.00800000000001" x2="658.6" y2="87.00800000000001" stroke="#6d6e71" stroke-width="0.9" stroke-dasharray="3,2.1"/>
<line x1="559.4" y1="111.64800000000001" x2="658.6" y2="111.64800000000001" stroke="#6d6e71" stroke-width="0.9" stroke-dasharray="3,2.1"/>
<line x1="559.4" y1="44.50399999999999" x2="658.6" y2="44.50399999999999" stroke="#808080" stroke-width="1.9" />
<line x1="559.4" y1="99.328" x2="658.6" y2="99.328" stroke="#6d6e71" stroke-width="1.9" />
<circle cx="558.8" cy="44.3" r="2.3" fill="#3b78c3"/>
<circle cx="575.6" cy="48.8" r="2.3" fill="#3b78c3"/>
<circle cx="591.7" cy="52.2" r="2.3" fill="#3b78c3"/>
<circle cx="608" cy="44.3" r="2.3" fill="#3b78c3"/>
<circle cx="624.5" cy="40.6" r="2.3" fill="#3b78c3"/>
<circle cx="640.8" cy="40.6" r="2.3" fill="#3b78c3"/>
<circle cx="656.9" cy="41.5" r="2.3" fill="#3b78c3"/>
<rect x="556.6999999999999" y="88.7" width="4.4" height="4.4" fill="#ff1a1a"/>
<rect x="572.9" y="95.39999999999999" width="4.4" height="4.4" fill="#ff1a1a"/>
<rect x="589.6999999999999" y="95.39999999999999" width="4.4" height="4.4" fill="#ff1a1a"/>
<rect x="605.5999999999999" y="98.7" width="4.4" height="4.4" fill="#ff1a1a"/>
<rect x="622.3" y="97.89999999999999" width="4.4" height="4.4" fill="#ff1a1a"/>
<rect x="638.1999999999999" y="100.39999999999999" width="4.4" height="4.4" fill="#ff1a1a"/>
<rect x="655.0" y="99.89999999999999" width="4.4" height="4.4" fill="#ff1a1a"/>
<text x="663.0" y="48.2" font-size="11.5" fill="#3b78c3" text-anchor="start" >DMSO</text>
<text x="665.4" y="93.8" font-size="11.5" fill="#ed1c24" text-anchor="start" >10 mM</text>
<text x="665.4" y="106.5" font-size="11.5" fill="#ed1c24" text-anchor="start" >lidoc.</text>
<text x="-0.6" y="262.8" font-size="21.5" fill="#231f20" text-anchor="start" >b</text>
<text x="21.3" y="272.8" font-size="9.6" fill="#f7941d" text-anchor="start" >593.5 nm</text>
<line x1="26.1" y1="276.0" x2="349.3" y2="276.0" stroke="#f7941d" stroke-width="2.0" />
<text x="21.1" y="286.2" font-size="9.6" fill="#29abe2" text-anchor="start" >473 nm</text>
<text x="132.8" y="268.9" font-size="11" fill="#231f20" text-anchor="middle" >2 Hz</text>
<text x="301.2" y="269.8" font-size="11" fill="#231f20" text-anchor="middle" >5 Hz</text>
<circle cx="85.5" cy="282.5" r="1.7" fill="#29abe2"/>
<circle cx="115.7" cy="282.5" r="1.7" fill="#29abe2"/>
<circle cx="146.1" cy="282.5" r="1.7" fill="#29abe2"/>
<circle cx="176.5" cy="282.5" r="1.7" fill="#29abe2"/>
<circle cx="237.6" cy="282.5" r="1.7" fill="#29abe2"/>
<circle cx="249.9" cy="282.5" r="1.7" fill="#29abe2"/>
<circle cx="262.2" cy="282.5" r="1.7" fill="#29abe2"/>
<circle cx="274.5" cy="282.5" r="1.7" fill="#29abe2"/>
<circle cx="286.8" cy="282.5" r="1.7" fill="#29abe2"/>
<circle cx="299.1" cy="282.5" r="1.7" fill="#29abe2"/>
<circle cx="311.4" cy="282.5" r="1.7" fill="#29abe2"/>
<text x="6.0" y="315.7" font-size="10.8" fill="#231f20" text-anchor="start" >LiEp</text>
<text x="44.4" y="309.1" font-size="10.9" fill="#231f20" text-anchor="start" >bath</text>
<text x="44.4" y="321.8" font-size="10.9" fill="#ed1c24" text-anchor="start" >lidoc.</text>
<path d="M26.1,343.1 L26.2,341.9 L26.4,345.5 L26.5,341.3 L26.7,344.7 L26.8,343.4 L27.0,341.2 L27.1,344.5 L27.3,341.1 L27.4,343.9 L27.6,341.3 L27.7,341.5 L27.9,343.9 L28.0,346.8 L28.2,341.7 L28.3,342.4 L28.5,345.3 L28.6,347.6 L28.8,345.0 L28.9,343.7 L29.1,347.8 L29.2,341.1 L29.4,347.0 L29.5,342.9 L29.7,341.8 L29.8,341.6 L30.0,343.0 L30.1,346.7 L30.3,342.1 L30.4,345.0 L30.6,345.4 L30.7,343.5 L30.9,344.7 L31.0,341.3 L31.2,341.2 L31.3,342.3 L31.5,345.7 L31.6,343.9 L31.8,343.1 L31.9,345.0 L32.1,344.1 L32.2,343.0 L32.4,346.5 L32.5,345.8 L32.7,342.6 L32.8,344.9 L33.0,344.6 L33.1,347.1 L33.3,346.1 L33.4,342.9 L33.6,347.9 L33.7,341.7 L33.9,343.8 L34.0,346.3 L34.2,341.9 L34.3,344.3 L34.5,341.1 L34.6,345.6 L34.8,346.3 L34.9,344.9 L35.1,347.1 L35.2,343.1 L35.4,345.8 L35.5,345.1 L35.7,345.0 L35.8,344.1 L36.0,346.8 L36.1,347.6 L36.3,344.2 L36.4,345.6 L36.6,341.2 L36.7,345.9 L36.9,345.5 L37.0,348.0 L37.2,346.7 L37.3,342.8 L37.5,343.6 L37.6,345.6 L37.8,341.0 L37.9,344.1 L38.1,342.0 L38.2,341.6 L38.4,341.2 L38.5,346.3 L38.7,341.7 L38.8,342.6 L39.0,343.6 L39.1,347.1 L39.3,341.4 L39.4,344.0 L39.6,344.8 L39.7,347.2 L39.9,346.7 L40.0,347.0 L40.2,342.8 L40.3,343.8 L40.5,343.4 L40.6,347.2 L40.8,347.7 L40.9,341.9 L41.1,342.1 L41.2,342.5 L41.4,342.5 L41.5,344.3 L41.7,345.0 L41.8,342.7 L42.0,340.8 L42.1,343.8 L42.3,343.5 L42.4,344.9 L42.6,347.7 L42.7,345.8 L42.9,344.5 L43.0,345.2 L43.2,345.7 L43.3,341.2 L43.5,347.3 L43.6,346.4 L43.8,347.1 L43.9,346.5 L44.1,343.6 L44.2,343.7 L44.4,341.5 L44.5,345.4 L44.7,341.2 L44.8,341.3 L45.0,342.3 L45.1,342.0 L45.3,343.2 L45.4,341.2 L45.6,340.8 L45.7,341.9 L45.9,341.5 L46.0,343.4 L46.2,341.0 L46.3,347.1 L46.5,345.2 L46.6,341.9 L46.8,342.6 L46.9,343.3 L47.1,343.4 L47.2,341.7 L47.4,346.9 L47.5,348.0 L47.7,344.2 L47.8,344.3 L48.0,341.4 L48.1,341.5 L48.3,343.3 L48.4,342.7 L48.6,346.8 L48.7,342.0 L48.9,341.0 L49.0,347.6 L49.2,344.6 L49.3,341.9 L49.5,344.7 L49.6,341.0 L49.8,344.6 L49.9,347.8 L50.1,347.0 L50.2,345.8 L50.4,342.7 L50.5,343.4 L50.7,342.0 L50.8,346.4 L51.0,344.6 L51.1,346.4 L51.3,343.2 L51.4,342.4 L51.6,346.6 L51.7,347.9 L51.9,346.9 L52.0,346.6 L52.2,346.7 L52.3,346.1 L52.5,342.4 L52.6,344.5 L52.8,343.4 L52.9,341.0 L53.1,341.0 L53.2,342.8 L53.4,342.7 L53.5,345.8 L53.7,347.7 L53.8,344.0 L54.0,347.5 L54.1,347.9 L54.3,347.7 L54.4,343.4 L54.6,342.4 L54.7,342.4 L54.9,342.2 L55.0,342.3 L55.2,345.3 L55.3,347.3 L55.5,346.9 L55.6,344.3 L55.8,345.5 L55.9,346.6 L56.1,341.4 L56.2,345.6 L56.4,347.4 L56.5,346.4 L56.7,346.2 L56.8,344.2 L57.0,342.1 L57.1,346.5 L57.3,343.2 L57.4,346.6 L57.6,347.8 L57.7,343.7 L57.9,343.7 L58.0,347.6 L58.2,346.0 L58.3,342.0 L58.5,341.7 L58.6,341.9 L58.8,347.3 L58.9,346.6 L59.1,341.9 L59.2,346.8 L59.4,347.9 L59.5,345.5 L59.7,343.3 L59.8,344.8 L60.0,341.7 L60.1,340.9 L60.3,347.8 L60.4,345.5 L60.6,344.6 L60.7,347.5 L60.9,343.9 L61.0,347.1 L61.2,346.8 L61.3,342.3 L61.5,342.6 L61.6,342.9 L61.8,342.6 L61.9,345.1 L62.1,342.7 L62.2,343.8 L62.4,341.8 L62.5,347.4 L62.7,343.4 L62.8,344.1 L63.0,345.0 L63.1,347.4 L63.3,343.9 L63.4,347.5 L63.6,344.5 L63.7,344.7 L63.9,344.6 L64.0,341.0 L64.2,344.0 L64.3,342.2 L64.5,340.9 L64.6,346.6 L64.8,342.1 L64.9,344.3 L65.1,346.1 L65.2,344.9 L65.4,343.2 L65.5,344.6 L65.7,344.9 L65.8,346.5 L66.0,341.7 L66.1,344.9 L66.3,342.7 L66.4,342.9 L66.6,346.5 L66.7,344.6 L66.9,344.9 L67.0,346.4 L67.2,347.5 L67.3,344.1 L67.5,345.3 L67.6,344.6 L67.8,344.6 L67.9,345.9 L68.1,344.2 L68.2,344.8 L68.4,344.4 L68.5,347.7 L68.7,346.0 L68.8,347.2 L69.0,347.7 L69.1,342.8 L69.3,345.0 L69.4,347.7 L69.6,347.0 L69.7,341.9 L69.9,341.8 L70.0,344.1 L70.2,341.5 L70.3,342.7 L70.5,341.5 L70.6,345.8 L70.8,346.6 L70.9,347.4 L71.1,342.1 L71.2,346.1 L71.4,345.7 L71.5,342.0 L71.7,347.3 L71.8,347.9 L72.0,342.6 L72.1,347.8 L72.3,343.8 L72.4,344.5 L72.6,348.1 L72.7,347.0 L72.9,342.2 L73.0,344.1 L73.2,344.7 L73.3,343.4 L73.5,342.4 L73.7,343.3 L73.8,346.2 L74.0,341.1 L74.1,345.0 L74.3,344.2 L74.4,341.1 L74.6,343.4 L74.7,345.5 L74.9,344.7 L75.0,341.5 L75.2,348.1 L75.3,346.7 L75.5,348.0 L75.6,341.8 L75.8,342.9 L75.9,341.3 L76.1,346.6 L76.2,343.0 L76.4,342.0 L76.5,344.1 L76.7,347.6 L76.8,346.9 L77.0,342.9 L77.1,342.1 L77.3,347.7 L77.4,345.2 L77.6,346.1 L77.7,341.7 L77.9,341.5 L78.0,346.0 L78.2,344.1 L78.3,341.6 L78.5,347.8 L78.6,345.6 L78.8,346.8 L78.9,341.7 L79.1,347.2 L79.2,341.6 L79.4,347.3 L79.5,344.4 L79.7,343.5 L79.8,345.1 L80.0,347.8 L80.1,343.0 L80.3,342.0 L80.4,344.9 L80.6,342.8 L80.7,341.9 L80.9,342.3 L81.0,341.5 L81.2,342.6 L81.3,343.4 L81.5,343.3 L81.6,346.6 L81.8,343.2 L81.9,344.7 L82.1,342.4 L82.2,343.6 L82.4,341.3 L82.5,342.9 L82.7,341.2 L82.8,346.4 L83.0,345.1 L83.1,342.5 L83.3,344.6 L83.4,347.9 L83.6,341.9 L83.7,347.0 L83.9,344.3 L84.0,344.7 L84.2,347.2 L84.3,344.0 L84.5,344.8 L84.6,346.1 L84.8,348.2 L84.9,343.6 L85.1,337.8 L85.2,327.6 L85.4,317.8 L85.5,306.8 L85.7,298.1 L85.8,288.1 L86.0,289.9 L86.1,290.7 L86.3,296.7 L86.4,294.4 L86.6,294.8 L86.7,295.4 L86.9,301.9 L87.0,303.2 L87.2,302.8 L87.3,301.0 L87.5,301.7 L87.6,303.0 L87.8,305.1 L87.9,303.9 L88.1,306.8 L88.2,306.4 L88.4,312.3 L88.5,313.2 L88.7,310.9 L88.8,309.5 L89.0,315.5 L89.1,311.5 L89.3,312.6 L89.4,310.8 L89.6,314.2 L89.7,315.6 L89.9,316.5 L90.0,315.0 L90.2,317.8 L90.3,314.8 L90.5,317.3 L90.6,316.7 L90.8,319.5 L90.9,317.5 L91.1,317.9 L91.2,320.5 L91.4,320.5 L91.5,323.5 L91.7,323.7 L91.8,325.7 L92.0,325.6 L92.1,326.5 L92.3,328.1 L92.4,325.0 L92.6,325.0 L92.7,330.2 L92.9,324.6 L93.0,329.1 L93.2,329.0 L93.3,325.1 L93.5,331.1 L93.6,331.9 L93.8,330.4 L93.9,331.5 L94.1,332.4 L94.2,327.9 L94.4,331.0 L94.5,331.2 L94.7,333.9 L94.8,334.0 L95.0,334.5 L95.1,333.0 L95.3,335.5 L95.4,334.3 L95.6,334.7 L95.7,331.6 L95.9,330.4 L96.0,331.4 L96.2,333.3 L96.3,331.7 L96.5,337.2 L96.6,335.5 L96.8,336.2 L96.9,336.4 L97.1,337.0 L97.2,335.9 L97.4,332.6 L97.5,338.5 L97.7,338.4 L97.8,336.8 L98.0,337.2 L98.1,338.3 L98.3,334.2 L98.4,339.2 L98.6,335.9 L98.7,334.8 L98.9,336.3 L99.0,339.8 L99.2,336.2 L99.3,340.2 L99.5,342.1 L99.6,338.8 L99.8,338.1 L99.9,338.9 L100.1,340.5 L100.2,341.3 L100.4,340.3 L100.5,340.6 L100.7,336.7 L100.8,337.3 L101.0,338.2 L101.1,341.9 L101.3,338.8 L101.4,340.8 L101.6,336.9 L101.7,337.4 L101.9,339.0 L102.0,342.0 L102.2,342.2 L102.3,342.2 L102.5,339.6 L102.6,341.3 L102.8,341.0 L102.9,341.1 L103.1,338.7 L103.2,344.3 L103.4,339.4 L103.5,345.1 L103.7,344.9 L103.8,338.4 L104.0,341.6 L104.1,344.3 L104.3,345.4 L104.4,341.8 L104.6,340.5 L104.7,340.2 L104.9,345.5 L105.0,340.3 L105.2,343.1 L105.3,339.9 L105.5,342.8 L105.6,345.9 L105.8,340.1 L105.9,345.1 L106.1,342.9 L106.2,345.7 L106.4,344.4 L106.5,341.0 L106.7,345.9 L106.8,343.0 L107.0,339.7 L107.1,339.6 L107.3,343.2 L107.4,342.9 L107.6,341.9 L107.7,340.8 L107.9,342.3 L108.0,342.1 L108.2,345.9 L108.3,339.9 L108.5,345.4 L108.6,346.0 L108.8,340.9 L108.9,346.7 L109.1,345.2 L109.2,346.6 L109.4,342.3 L109.5,342.9 L109.7,343.1 L109.8,347.5 L110.0,344.5 L110.1,342.9 L110.3,343.4 L110.4,342.4 L110.6,340.8 L110.7,341.2 L110.9,346.5 L111.0,342.6 L111.2,347.3 L111.3,342.4 L111.5,342.5 L111.6,344.3 L111.8,342.0 L111.9,343.3 L112.1,347.6 L112.2,347.1 L112.4,346.6 L112.5,345.3 L112.7,347.3 L112.8,347.6 L113.0,344.8 L113.1,346.0 L113.3,341.2 L113.4,346.1 L113.6,344.1 L113.7,346.3 L113.9,345.6 L114.0,343.0 L114.2,341.3 L114.3,347.6 L114.5,341.9 L114.6,344.4 L114.8,343.5 L114.9,343.2 L115.1,346.4 L115.2,342.5 L115.4,328.1 L115.5,321.7 L115.7,309.9 L115.8,303.2 L116.0,294.1 L116.1,290.7 L116.3,291.9 L116.4,293.4 L116.6,299.6 L116.7,297.8 L116.9,296.9 L117.0,302.9 L117.2,304.6 L117.3,301.7 L117.5,300.5 L117.6,301.8 L117.8,302.1 L117.9,304.8 L118.1,303.9 L118.2,305.9 L118.4,306.9 L118.5,310.0 L118.7,313.1 L118.8,312.9 L119.0,311.3 L119.1,312.1 L119.3,313.6 L119.4,313.3 L119.6,313.7 L119.7,312.4 L119.9,314.7 L120.0,320.3 L120.2,314.9 L120.3,318.3 L120.5,319.8 L120.6,322.1 L120.8,318.1 L120.9,319.0 L121.1,319.5 L121.2,321.1 L121.4,322.0 L121.5,326.2 L121.7,325.9 L121.8,326.6 L122.0,321.0 L122.1,321.5 L122.3,326.9 L122.4,328.7 L122.6,326.1 L122.7,327.4 L122.9,323.6 L123.0,326.8 L123.2,331.1 L123.3,330.8 L123.5,331.4 L123.6,332.6 L123.8,327.8 L123.9,327.1 L124.1,327.8 L124.2,330.8 L124.4,332.3 L124.5,334.5 L124.7,333.3 L124.8,333.0 L125.0,334.2 L125.1,332.3 L125.3,333.3 L125.4,329.9 L125.6,335.5 L125.7,331.8 L125.9,337.0 L126.0,335.3 L126.2,333.1 L126.3,332.1 L126.5,333.3 L126.6,336.3 L126.8,336.9 L126.9,333.0 L127.1,332.9 L127.2,336.4 L127.4,337.0 L127.5,335.8 L127.7,334.8 L127.8,337.8 L128.0,333.7 L128.1,336.0 L128.3,337.3 L128.4,341.1 L128.6,339.0 L128.7,340.9 L128.9,338.1 L129.0,336.6 L129.2,336.8 L129.3,342.1 L129.5,340.4 L129.6,337.7 L129.8,335.8 L129.9,339.4 L130.1,340.8 L130.2,339.1 L130.4,338.1 L130.5,341.1 L130.7,343.1 L130.8,338.2 L131.0,337.0 L131.1,339.3 L131.3,340.0 L131.4,342.0 L131.6,338.6 L131.7,343.0 L131.9,342.7 L132.0,341.1 L132.2,339.1 L132.3,344.7 L132.5,340.1 L132.6,343.8 L132.8,339.7 L132.9,339.7 L133.1,343.7 L133.2,340.4 L133.4,345.2 L133.5,342.0 L133.7,339.9 L133.8,340.2 L134.0,341.7 L134.1,343.5 L134.3,345.7 L134.4,340.0 L134.6,341.8 L134.7,340.6 L134.9,346.1 L135.0,340.2 L135.2,339.6 L135.3,339.7 L135.5,342.2 L135.6,345.9 L135.8,345.9 L135.9,344.8 L136.1,346.8 L136.2,346.4 L136.4,342.1 L136.5,341.1 L136.7,346.6 L136.8,345.2 L137.0,340.2 L137.1,344.8 L137.3,342.7 L137.4,342.8 L137.6,342.5 L137.7,341.4 L137.9,340.2 L138.0,342.3 L138.2,342.8 L138.3,347.2 L138.5,341.3 L138.6,347.3 L138.8,341.9 L138.9,343.0 L139.1,346.4 L139.2,346.5 L139.4,343.7 L139.5,341.0 L139.7,344.1 L139.8,343.4 L140.0,347.3 L140.1,342.1 L140.3,343.4 L140.4,347.3 L140.6,341.1 L140.7,343.8 L140.9,346.7 L141.0,346.4 L141.2,341.2 L141.3,341.2 L141.5,341.5 L141.6,347.7 L141.8,342.9 L141.9,346.5 L142.1,347.6 L142.2,343.6 L142.4,343.1 L142.5,348.1 L142.7,345.6 L142.8,343.1 L143.0,346.4 L143.1,343.5 L143.3,343.3 L143.4,341.3 L143.6,346.8 L143.7,347.9 L143.9,345.9 L144.0,348.2 L144.2,341.6 L144.3,343.1 L144.5,344.8 L144.6,348.3 L144.8,348.3 L144.9,344.2 L145.1,343.3 L145.2,344.6 L145.4,345.1 L145.5,348.2 L145.7,334.4 L145.8,329.8 L146.0,320.4 L146.1,312.0 L146.3,303.6 L146.4,294.9 L146.6,294.1 L146.7,295.2 L146.9,296.6 L147.0,300.8 L147.2,296.8 L147.3,298.7 L147.5,303.7 L147.6,301.1 L147.8,300.8 L147.9,301.5 L148.1,306.2 L148.2,305.5 L148.4,311.1 L148.5,311.3 L148.7,312.9 L148.8,308.6 L149.0,308.1 L149.1,309.0 L149.3,312.7 L149.4,315.0 L149.6,313.8 L149.7,313.0 L149.9,315.0 L150.0,317.2 L150.2,318.3 L150.3,319.5 L150.5,320.8 L150.6,320.2 L150.8,316.9 L150.9,322.7 L151.1,319.3 L151.2,321.9 L151.4,321.0 L151.5,324.2 L151.7,320.9 L151.8,321.7 L152.0,322.3 L152.1,322.1 L152.3,327.8 L152.4,326.1 L152.6,324.8 L152.7,325.7 L152.9,330.5 L153.0,327.4 L153.2,325.9 L153.3,330.4 L153.5,329.7 L153.6,332.6 L153.8,326.6 L153.9,329.6 L154.1,332.5 L154.2,333.0 L154.4,333.9 L154.5,327.9 L154.7,330.1 L154.8,329.2 L155.0,330.0 L155.1,336.0 L155.3,333.5 L155.4,336.3 L155.6,332.5 L155.7,336.4 L155.9,333.7 L156.0,332.6 L156.2,336.6 L156.3,338.0 L156.5,332.3 L156.6,336.0 L156.8,336.4 L156.9,333.8 L157.1,335.1 L157.2,333.7 L157.4,334.4 L157.5,335.0 L157.7,337.7 L157.8,338.2 L158.0,335.2 L158.1,334.0 L158.3,336.5 L158.4,339.2 L158.6,335.9 L158.7,336.9 L158.9,336.3 L159.0,340.8 L159.2,339.2 L159.3,335.8 L159.5,336.3 L159.6,338.6 L159.8,339.8 L159.9,340.6 L160.1,336.8 L160.2,337.5 L160.4,341.4 L160.5,339.5 L160.7,338.8 L160.8,339.1 L161.0,343.8 L161.1,339.3 L161.3,341.3 L161.4,339.9 L161.6,340.5 L161.7,343.8 L161.9,344.9 L162.0,340.4 L162.2,339.3 L162.3,343.2 L162.5,339.6 L162.6,338.2 L162.8,344.8 L162.9,341.4 L163.1,344.4 L163.2,341.5 L163.4,345.0 L163.5,342.1 L163.7,340.0 L163.8,339.0 L164.0,343.0 L164.1,343.7 L164.3,345.7 L164.4,339.9 L164.6,343.8 L164.7,342.1 L164.9,343.1 L165.0,340.6 L165.2,341.6 L165.3,343.4 L165.5,346.4 L165.6,340.6 L165.8,343.4 L165.9,345.7 L166.1,346.9 L166.2,341.4 L166.4,341.0 L166.5,346.9 L166.7,347.2 L166.8,343.7 L167.0,340.7 L167.1,347.0 L167.3,343.2 L167.4,346.9 L167.6,345.0 L167.7,346.5 L167.9,341.7 L168.0,346.3 L168.2,342.3 L168.3,343.6 L168.5,346.8 L168.6,346.8 L168.8,342.1 L168.9,342.4 L169.1,343.8 L169.2,344.7 L169.4,343.7 L169.5,341.9 L169.7,342.8 L169.8,346.3 L170.0,347.6 L170.1,341.4 L170.3,345.2 L170.4,346.7 L170.6,341.5 L170.7,347.3 L170.9,342.1 L171.0,345.6 L171.2,345.3 L171.3,345.9 L171.5,343.6 L171.6,344.5 L171.8,345.7 L171.9,344.5 L172.1,346.2 L172.2,344.7 L172.4,344.7 L172.5,341.7 L172.7,346.1 L172.8,345.1 L173.0,343.3 L173.1,347.2 L173.3,347.3 L173.4,345.0 L173.6,343.0 L173.7,345.2 L173.9,342.5 L174.0,342.7 L174.2,344.9 L174.3,342.5 L174.5,345.0 L174.6,345.5 L174.8,342.2 L174.9,346.5 L175.1,342.5 L175.2,347.2 L175.4,347.5 L175.5,345.6 L175.7,342.4 L175.8,345.6 L176.0,342.2 L176.1,337.3 L176.3,322.5 L176.4,318.7 L176.6,311.0 L176.7,301.2 L176.9,297.2 L177.0,293.9 L177.2,300.8 L177.3,298.4 L177.5,302.8 L177.6,303.6 L177.8,299.3 L177.9,304.8 L178.1,306.8 L178.2,301.6 L178.4,304.6 L178.5,308.4 L178.7,305.1 L178.8,311.3 L179.0,307.7 L179.1,312.4 L179.3,308.4 L179.4,311.8 L179.6,315.6 L179.7,311.3 L179.9,312.4 L180.0,314.9 L180.2,314.3 L180.3,313.0 L180.5,314.7 L180.6,315.3 L180.8,321.5 L180.9,320.3 L181.1,322.5 L181.2,317.9 L181.4,322.9 L181.5,318.7 L181.7,322.2 L181.8,323.6 L182.0,322.1 L182.1,326.3 L182.3,324.6 L182.4,325.3 L182.6,328.0 L182.7,322.8 L182.9,329.7 L183.0,327.6 L183.2,326.3 L183.3,329.7 L183.5,326.3 L183.6,331.9 L183.8,329.4 L183.9,328.2 L184.1,331.5 L184.2,329.6 L184.4,328.0 L184.5,332.5 L184.7,327.9 L184.8,333.8 L185.0,330.0 L185.1,333.1 L185.3,336.0 L185.4,333.4 L185.6,334.3 L185.7,332.1 L185.9,330.1 L186.0,330.6 L186.2,331.8 L186.3,335.4 L186.5,334.4 L186.6,335.2 L186.8,338.2 L186.9,333.0 L187.1,333.9 L187.2,337.2 L187.4,332.9 L187.5,333.0 L187.7,335.8 L187.8,334.2 L188.0,336.2 L188.1,335.5 L188.3,338.3 L188.4,338.5 L188.6,335.9 L188.7,339.1 L188.9,338.3 L189.0,336.0 L189.2,342.0 L189.3,337.1 L189.5,336.6 L189.6,336.4 L189.8,340.5 L189.9,342.3 L190.1,341.8 L190.2,339.2 L190.4,338.4 L190.5,336.7 L190.7,341.4 L190.8,341.0 L191.0,339.6 L191.1,341.9 L191.3,340.5 L191.4,344.2 L191.6,342.9 L191.7,339.5 L191.9,344.3 L192.0,338.3 L192.2,341.9 L192.3,341.1 L192.5,340.0 L192.6,338.8 L192.8,344.1 L192.9,338.7 L193.1,342.6 L193.2,345.6 L193.4,339.9 L193.5,340.4 L193.7,343.4 L193.8,342.8 L194.0,343.8 L194.1,345.2 L194.3,340.7 L194.4,341.7 L194.6,341.7 L194.7,340.0 L194.9,346.1 L195.0,345.4 L195.2,345.0 L195.3,340.0 L195.5,346.1 L195.6,345.4 L195.8,343.5 L195.9,345.5 L196.1,343.5 L196.2,341.9 L196.4,341.1 L196.5,342.1 L196.7,340.8 L196.8,343.0 L197.0,346.0 L197.1,345.7 L197.3,346.8 L197.4,345.9 L197.6,342.7 L197.7,344.8 L197.9,344.0 L198.0,346.6 L198.2,344.8 L198.3,342.9 L198.5,345.7 L198.6,348.1 L198.8,342.7 L198.9,347.5 L199.1,341.4 L199.2,343.2 L199.4,343.0 L199.5,346.7 L199.7,348.2 L199.8,346.8 L200.0,343.8 L200.1,347.8 L200.3,343.9 L200.4,343.3 L200.6,348.1 L200.7,346.2 L200.9,346.7 L201.0,346.5 L201.2,348.8 L201.3,345.1 L201.5,347.8 L201.6,346.8 L201.8,348.0 L201.9,345.0 L202.1,347.1 L202.2,346.0 L202.4,344.2 L202.5,343.5 L202.7,346.5 L202.8,342.6 L203.0,348.6 L203.1,343.1 L203.3,342.3 L203.4,342.9 L203.6,348.8 L203.7,344.6 L203.9,343.2 L204.0,342.4 L204.2,342.5 L204.3,347.2 L204.5,346.8 L204.6,347.3 L204.8,347.6 L204.9,342.8 L205.1,346.6 L205.2,344.9 L205.4,348.2 L205.5,348.3 L205.7,348.8 L205.8,342.9 L206.0,348.6 L206.1,349.0 L206.3,349.2 L206.4,343.2 L206.6,343.9 L206.7,343.3 L206.9,342.7 L207.0,348.6 L207.2,348.4 L207.3,347.1 L207.5,348.5 L207.6,347.1 L207.8,344.6 L207.9,343.3 L208.1,343.3 L208.2,348.0 L208.4,344.1 L208.5,344.9 L208.7,345.7 L208.8,342.8 L209.0,344.5 L209.1,344.7 L209.3,347.8 L209.4,345.3 L209.6,345.0 L209.7,349.6 L209.9,346.3 L210.0,348.8 L210.2,347.2 L210.3,342.9 L210.5,345.7 L210.6,345.9 L210.8,348.3 L210.9,345.2 L211.1,347.8 L211.2,346.6 L211.4,344.3 L211.5,349.0 L211.7,343.4 L211.8,348.7 L212.0,344.0 L212.1,342.8 L212.3,344.3 L212.4,348.3 L212.6,349.8 L212.7,342.8 L212.9,346.3 L213.0,346.4 L213.2,348.6 L213.3,344.2 L213.5,346.4 L213.6,345.3 L213.8,348.8 L213.9,344.7 L214.1,349.6 L214.2,344.9 L214.4,344.4 L214.5,347.9 L214.7,346.4 L214.8,343.7 L215.0,347.5 L215.1,343.5 L215.3,348.5 L215.4,347.9 L215.6,348.5 L215.7,347.4 L215.9,345.4 L216.0,345.8 L216.2,345.7 L216.3,349.3 L216.5,343.5 L216.6,349.3 L216.8,343.1 L216.9,344.4 L217.1,344.8 L217.2,349.4 L217.4,346.5 L217.5,345.6 L217.7,349.3 L217.8,344.6 L218.0,346.2 L218.1,346.7 L218.3,348.4 L218.4,348.3 L218.6,347.6 L218.7,345.4 L218.9,345.3 L219.0,344.0 L219.2,349.0 L219.3,347.7 L219.5,348.3 L219.6,344.2 L219.8,346.1 L219.9,348.5 L220.1,347.1 L220.2,343.8 L220.4,346.3 L220.5,349.3 L220.7,344.7 L220.8,344.3 L221.0,345.1 L221.1,348.0 L221.3,349.0 L221.4,344.1 L221.6,344.1 L221.7,344.7 L221.9,345.3 L222.0,346.7 L222.2,344.1 L222.3,345.3 L222.5,344.3 L222.6,350.0 L222.8,348.2 L222.9,343.7 L223.1,349.9 L223.2,343.7 L223.4,345.7 L223.5,350.0 L223.7,348.7 L223.8,348.2 L224.0,346.1 L224.1,344.4 L224.3,347.6 L224.4,343.7 L224.6,344.5 L224.7,345.8 L224.9,343.2 L225.0,345.8 L225.2,348.7 L225.3,348.0 L225.5,346.6 L225.6,347.5 L225.8,346.3 L225.9,344.0 L226.1,347.3 L226.2,345.9 L226.4,348.3 L226.5,349.5 L226.7,346.1 L226.8,347.1 L227.0,348.4 L227.1,346.0 L227.3,344.6 L227.4,348.2 L227.6,349.3 L227.7,348.6 L227.9,348.0 L228.0,349.1 L228.2,347.9 L228.3,347.6 L228.5,346.3 L228.6,345.2 L228.8,347.5 L228.9,343.7 L229.1,346.0 L229.2,348.6 L229.4,348.1 L229.5,347.5 L229.7,344.8 L229.8,346.0 L230.0,346.3 L230.1,347.5 L230.3,345.9 L230.4,347.8 L230.6,349.7 L230.7,344.3 L230.9,347.7 L231.0,348.6 L231.2,345.8 L231.3,346.5 L231.5,350.0 L231.6,343.3 L231.8,346.9 L231.9,344.1 L232.1,348.6 L232.2,349.8 L232.4,346.7 L232.5,343.7 L232.7,347.1 L232.8,346.9 L233.0,348.2 L233.1,346.7 L233.3,347.6 L233.4,349.0 L233.6,346.7 L233.7,345.9 L233.9,349.8 L234.0,344.5 L234.2,347.9 L234.3,345.8 L234.5,348.5 L234.6,343.9 L234.8,350.1 L234.9,345.6 L235.1,343.4 L235.2,345.0 L235.4,345.9 L235.5,343.1 L235.7,346.0 L235.8,346.0 L236.0,348.0 L236.1,345.5 L236.3,344.9 L236.4,344.6 L236.6,348.3 L236.7,349.8 L236.9,346.8 L237.0,344.6 L237.2,339.4 L237.3,327.2 L237.5,316.5 L237.6,306.6 L237.8,303.0 L237.9,295.4 L238.1,295.4 L238.2,295.4 L238.4,297.2 L238.5,296.0 L238.7,302.4 L238.8,299.1 L239.0,302.2 L239.1,304.6 L239.3,305.6 L239.4,304.1 L239.6,303.8 L239.7,306.6 L239.9,304.5 L240.0,310.5 L240.2,308.0 L240.3,312.4 L240.5,309.1 L240.6,310.7 L240.8,310.6 L240.9,312.6 L241.1,311.7 L241.2,311.1 L241.4,317.0 L241.5,314.6 L241.7,315.0 L241.8,316.1 L242.0,318.1 L242.1,318.4 L242.3,320.5 L242.4,321.3 L242.6,319.8 L242.7,324.4 L242.9,324.5 L243.0,319.3 L243.2,325.4 L243.3,326.5 L243.5,326.2 L243.6,322.1 L243.8,327.6 L243.9,326.6 L244.1,322.7 L244.2,323.1 L244.4,330.3 L244.5,328.7 L244.7,326.2 L244.8,325.6 L245.0,326.3 L245.1,327.3 L245.3,331.6 L245.4,328.9 L245.6,327.9 L245.7,333.7 L245.9,333.3 L246.0,329.1 L246.2,334.7 L246.3,333.0 L246.5,334.6 L246.6,334.1 L246.8,336.0 L246.9,335.6 L247.1,336.2 L247.2,331.9 L247.4,335.8 L247.5,334.9 L247.7,336.7 L247.8,334.8 L248.0,338.2 L248.1,336.1 L248.3,334.3 L248.4,334.3 L248.6,333.9 L248.7,336.7 L248.9,333.8 L249.0,336.9 L249.2,334.8 L249.3,337.5 L249.5,337.4 L249.6,328.6 L249.8,321.8 L249.9,306.5 L250.1,304.4 L250.2,294.0 L250.4,295.9 L250.5,297.8 L250.7,300.2 L250.8,298.0 L251.0,299.4 L251.1,304.4 L251.3,299.1 L251.4,304.2 L251.6,305.2 L251.7,301.8 L251.9,306.9 L252.0,308.4 L252.2,311.1 L252.3,307.7 L252.5,313.2 L252.6,310.7 L252.8,311.3 L252.9,315.1 L253.1,309.7 L253.2,315.4 L253.4,315.5 L253.5,314.2 L253.7,318.7 L253.8,315.8 L254.0,317.3 L254.1,318.3 L254.3,320.7 L254.4,317.3 L254.6,319.6 L254.7,320.1 L254.9,321.7 L255.0,324.2 L255.2,320.9 L255.3,325.4 L255.5,322.9 L255.6,324.1 L255.8,323.0 L255.9,325.2 L256.1,329.0 L256.2,327.2 L256.4,328.7 L256.5,325.8 L256.7,326.2 L256.8,326.5 L257.0,329.0 L257.1,329.8 L257.3,331.2 L257.4,326.3 L257.6,331.6 L257.7,333.2 L257.9,331.1 L258.0,327.9 L258.2,330.0 L258.3,328.3 L258.5,329.9 L258.6,335.5 L258.8,333.6 L258.9,334.3 L259.1,335.5 L259.2,336.7 L259.4,334.9 L259.5,335.2 L259.7,335.6 L259.8,336.3 L260.0,335.9 L260.1,336.8 L260.3,333.6 L260.4,337.2 L260.6,335.9 L260.7,338.3 L260.9,333.8 L261.0,334.6 L261.2,333.8 L261.3,339.3 L261.5,340.6 L261.6,338.9 L261.8,336.4 L261.9,330.4 L262.1,320.9 L262.2,310.1 L262.4,299.7 L262.5,292.3 L262.7,294.4 L262.8,294.8 L263.0,296.8 L263.1,299.5 L263.3,302.7 L263.4,297.4 L263.6,302.2 L263.7,299.4 L263.9,301.0 L264.0,307.0 L264.2,306.3 L264.3,309.7 L264.5,307.2 L264.6,305.0 L264.8,308.6 L264.9,310.9 L265.1,314.2 L265.2,315.4 L265.4,312.5 L265.5,312.9 L265.7,311.4 L265.8,316.1 L266.0,313.7 L266.1,314.0 L266.3,313.7 L266.4,314.3 L266.6,319.8 L266.7,316.4 L266.9,323.1 L267.0,317.4 L267.2,323.7 L267.3,318.9 L267.5,318.7 L267.6,324.3 L267.8,321.5 L267.9,325.5 L268.1,322.1 L268.2,321.7 L268.4,327.4 L268.5,327.4 L268.7,328.9 L268.8,328.5 L269.0,324.3 L269.1,328.7 L269.3,329.7 L269.4,328.3 L269.6,332.1 L269.7,327.7 L269.9,333.2 L270.0,331.8 L270.2,327.1 L270.3,327.5 L270.5,332.4 L270.6,334.0 L270.8,329.0 L270.9,331.0 L271.1,334.3 L271.2,330.6 L271.4,335.9 L271.5,333.5 L271.7,330.8 L271.8,333.3 L272.0,335.1 L272.1,334.4 L272.3,336.3 L272.4,332.8 L272.6,337.7 L272.7,334.9 L272.9,337.1 L273.0,337.3 L273.2,336.0 L273.3,336.0 L273.5,339.1 L273.6,340.5 L273.8,339.5 L273.9,338.2 L274.1,335.6 L274.2,324.4 L274.4,321.5 L274.5,310.0 L274.7,302.5 L274.8,290.9 L275.0,294.1 L275.1,298.0 L275.3,298.2 L275.4,297.7 L275.6,296.7 L275.7,298.7 L275.9,303.1 L276.0,300.5 L276.2,303.8 L276.3,304.2 L276.5,307.3 L276.6,307.7 L276.8,304.9 L276.9,303.8 L277.1,306.5 L277.2,308.6 L277.4,310.6 L277.5,313.1 L277.7,314.5 L277.8,309.2 L278.0,315.7 L278.1,316.3 L278.3,317.5 L278.4,316.1 L278.6,314.6 L278.7,319.5 L278.9,319.9 L279.0,319.7 L279.2,322.0 L279.3,318.5 L279.5,317.3 L279.6,321.2 L279.8,323.6 L279.9,319.9 L280.1,324.4 L280.2,326.3 L280.4,321.8 L280.5,325.0 L280.7,326.0 L280.8,325.0 L281.0,323.6 L281.1,324.5 L281.3,328.5 L281.4,329.3 L281.6,327.3 L281.7,325.1 L281.9,330.7 L282.0,330.9 L282.2,327.4 L282.3,330.3 L282.5,333.0 L282.6,333.3 L282.8,331.0 L282.9,331.1 L283.1,332.2 L283.2,329.7 L283.4,330.1 L283.5,330.3 L283.7,334.4 L283.8,332.3 L284.0,334.0 L284.1,333.2 L284.3,334.3 L284.4,331.9 L284.6,331.4 L284.7,338.6 L284.9,334.4 L285.0,332.7 L285.2,336.7 L285.3,338.1 L285.5,333.8 L285.6,337.2 L285.8,335.6 L285.9,337.1 L286.1,333.8 L286.2,334.1 L286.4,340.9 L286.5,330.8 L286.7,318.8 L286.8,310.1 L287.0,299.8 L287.1,295.7 L287.3,294.4 L287.4,299.3 L287.6,299.2 L287.7,300.7 L287.9,302.9 L288.0,298.9 L288.2,298.4 L288.3,300.6 L288.5,301.5 L288.6,301.8 L288.8,302.5 L288.9,307.1 L289.1,310.3 L289.2,308.2 L289.4,312.6 L289.5,313.2 L289.7,307.9 L289.8,312.6 L290.0,312.0 L290.1,310.8 L290.3,317.6 L290.4,313.3 L290.6,316.2 L290.7,317.5 L290.9,320.4 L291.0,319.1 L291.2,317.7 L291.3,318.8 L291.5,317.3 L291.6,323.8 L291.8,324.6 L291.9,319.6 L292.1,318.9 L292.2,321.0 L292.4,322.2 L292.5,326.7 L292.7,327.3 L292.8,327.3 L293.0,322.1 L293.1,327.9 L293.3,327.9 L293.4,327.9 L293.6,330.8 L293.7,324.5 L293.9,325.6 L294.0,330.4 L294.2,332.2 L294.3,330.7 L294.5,328.4 L294.6,330.9 L294.8,332.4 L294.9,328.1 L295.1,330.1 L295.2,329.9 L295.4,329.3 L295.5,332.2 L295.7,330.3 L295.8,331.1 L296.0,330.8 L296.1,334.9 L296.3,330.4 L296.4,335.8 L296.6,332.3 L296.7,331.5 L296.9,338.1 L297.0,333.3 L297.2,338.7 L297.3,338.5 L297.5,338.9 L297.6,333.8 L297.8,336.2 L297.9,333.9 L298.1,340.1 L298.2,339.7 L298.4,338.4 L298.5,337.3 L298.7,336.3 L298.8,330.6 L299.0,319.0 L299.1,310.9 L299.3,299.4 L299.4,292.2 L299.6,292.3 L299.7,298.2 L299.9,298.2 L300.0,296.4 L300.2,302.7 L300.3,299.4 L300.5,301.5 L300.6,300.7 L300.8,302.5 L300.9,307.6 L301.1,304.9 L301.2,304.7 L301.4,307.9 L301.5,307.6 L301.6,312.7 L301.8,307.8 L301.9,314.9 L302.1,309.1 L302.2,315.9 L302.4,315.0 L302.5,312.5 L302.7,315.2 L302.8,314.5 L303.0,315.0 L303.1,315.3 L303.3,317.2 L303.4,322.3 L303.6,323.0 L303.7,323.1 L303.9,317.8 L304.0,319.8 L304.2,324.7 L304.3,319.3 L304.5,324.6 L304.6,322.1 L304.8,327.5 L304.9,321.1 L305.1,327.3 L305.2,324.5 L305.4,323.5 L305.5,323.0 L305.7,329.4 L305.8,327.7 L306.0,325.7 L306.1,327.9 L306.3,331.7 L306.4,327.2 L306.6,330.1 L306.7,327.4 L306.9,328.1 L307.0,332.7 L307.2,332.6 L307.3,329.3 L307.5,328.8 L307.6,329.2 L307.8,333.3 L307.9,332.8 L308.1,331.5 L308.2,331.3 L308.4,334.6 L308.5,335.6 L308.7,336.6 L308.8,335.2 L309.0,332.8 L309.1,332.1 L309.3,337.1 L309.4,335.0 L309.6,337.6 L309.7,333.0 L309.9,338.7 L310.0,335.5 L310.2,339.4 L310.3,339.8 L310.5,337.3 L310.6,334.1 L310.8,340.7 L310.9,337.4 L311.1,331.2 L311.2,317.8 L311.4,308.1 L311.5,304.8 L311.7,293.8 L311.8,293.5 L312.0,296.2 L312.1,299.0 L312.3,295.8 L312.4,300.6 L312.6,301.2 L312.7,302.7 L312.9,300.9 L313.0,306.2 L313.2,307.9 L313.3,309.2 L313.5,306.2 L313.6,309.9 L313.8,308.4 L313.9,311.9 L314.1,307.8 L314.2,314.5 L314.4,315.9 L314.5,313.4 L314.7,314.3 L314.8,315.1 L315.0,315.9 L315.1,312.9 L315.3,320.4 L315.4,315.8 L315.6,316.1 L315.7,316.2 L315.9,317.9 L316.0,322.6 L316.2,317.6 L316.3,318.6 L316.5,323.5 L316.6,320.5 L316.8,319.8 L316.9,324.5 L317.1,324.9 L317.2,325.0 L317.4,326.8 L317.5,323.0 L317.7,329.0 L317.8,328.3 L318.0,324.0 L318.1,325.0 L318.3,328.1 L318.4,328.6 L318.6,327.4 L318.7,326.7 L318.9,329.1 L319.0,327.5 L319.2,331.2 L319.3,333.5 L319.5,328.7 L319.6,332.2 L319.8,333.8 L319.9,329.9 L320.1,335.0 L320.2,336.1 L320.4,332.5 L320.5,333.0 L320.7,336.3 L320.8,334.4 L321.0,333.7 L321.1,337.9 L321.3,337.0 L321.4,334.1 L321.6,333.7 L321.7,334.6 L321.9,335.6 L322.0,339.8 L322.2,338.7 L322.3,339.8 L322.5,339.3 L322.6,339.7 L322.8,334.2 L322.9,337.8 L323.1,341.2 L323.2,341.2 L323.4,336.5 L323.5,337.9 L323.7,339.6 L323.8,337.9 L324.0,339.2 L324.1,336.1 L324.3,338.9 L324.4,339.6 L324.6,336.2 L324.7,337.3 L324.9,343.4 L325.0,342.2 L325.2,343.5 L325.3,341.4 L325.5,342.8 L325.6,343.5 L325.8,343.6 L325.9,337.7 L326.1,342.2 L326.2,339.6 L326.4,342.7 L326.5,339.9 L326.7,341.9 L326.8,344.8 L327.0,342.7 L327.1,340.2 L327.3,342.2 L327.4,341.7 L327.6,345.5 L327.7,340.8 L327.9,341.1 L328.0,343.6 L328.2,339.9 L328.3,343.4 L328.5,346.1 L328.6,343.0 L328.8,341.3 L328.9,342.9 L329.1,343.4 L329.2,340.7 L329.4,340.6 L329.5,340.8 L329.7,342.0 L329.8,342.9 L330.0,342.1 L330.1,341.9 L330.3,340.8 L330.4,344.2 L330.6,346.3 L330.7,344.7 L330.9,344.5 L331.0,345.2 L331.2,342.0 L331.3,345.7 L331.5,344.0 L331.6,344.7 L331.8,345.2 L331.9,344.2 L332.1,343.1 L332.2,342.7 L332.4,342.6 L332.5,344.7 L332.7,343.8 L332.8,345.3 L333.0,341.2 L333.1,343.7 L333.3,347.4 L333.4,343.0 L333.6,345.3 L333.7,344.9 L333.9,343.4 L334.0,348.5 L334.2,343.6 L334.3,347.1 L334.5,342.7 L334.6,342.0 L334.8,347.9 L334.9,344.8 L335.1,342.1 L335.2,344.5 L335.4,344.9 L335.5,347.0 L335.7,342.6 L335.8,343.4 L336.0,348.7 L336.1,347.2 L336.3,343.0 L336.4,344.3 L336.6,344.5 L336.7,346.8 L336.9,346.4 L337.0,348.1 L337.2,347.9 L337.3,345.8 L337.5,347.4 L337.6,347.5 L337.8,347.6 L337.9,345.6 L338.1,347.8 L338.2,347.3 L338.4,348.8 L338.5,343.1 L338.7,348.5 L338.8,342.3 L339.0,347.8 L339.1,346.5 L339.3,345.9 L339.4,349.3 L339.6,346.5 L339.7,345.4 L339.9,348.0 L340.0,348.7 L340.2,346.8 L340.3,345.1 L340.5,345.7 L340.6,345.7 L340.8,347.7 L340.9,344.6 L341.1,345.3 L341.2,346.5 L341.4,345.3 L341.5,344.8 L341.7,348.2 L341.8,348.7 L342.0,346.1 L342.1,345.8 L342.3,343.9 L342.4,344.8 L342.6,343.6 L342.7,346.7 L342.9,346.8 L343.0,343.2 L343.2,349.2 L343.3,345.0 L343.5,348.7 L343.6,348.7 L343.8,349.6 L343.9,344.1 L344.1,345.7 L344.2,349.2 L344.4,342.8 L344.5,343.0 L344.7,346.8 L344.8,346.3 L345.0,349.3 L345.1,348.3 L345.3,346.6 L345.4,349.9 L345.6,346.5 L345.7,346.5 L345.9,347.7 L346.0,345.6 L346.2,345.3 L346.3,347.1 L346.5,345.3 L346.6,349.6 L346.8,347.7 L346.9,346.6 L347.1,343.5 L347.2,345.5 L347.4,345.7 L347.5,346.9 L347.7,346.9 L347.8,349.2 L348.0,349.8 L348.1,346.3 L348.3,346.0 L348.4,347.3 L348.6,350.0 L348.7,345.3 L348.9,346.7 L349.0,348.7 L349.2,344.1" fill="none" stroke="#000" stroke-width="0.75"/>
<path d="M26.1,342.9 L26.2,349.0 L26.4,347.6 L26.5,344.7 L26.7,341.0 L26.8,348.2 L27.0,346.3 L27.1,347.5 L27.3,349.1 L27.4,348.2 L27.6,343.9 L27.7,341.4 L27.9,342.7 L28.0,344.7 L28.2,344.6 L28.3,341.7 L28.5,341.7 L28.6,345.8 L28.8,345.5 L28.9,343.2 L29.1,349.1 L29.2,345.9 L29.4,340.4 L29.5,343.8 L29.7,347.2 L29.8,342.8 L30.0,346.4 L30.1,340.0 L30.3,342.8 L30.4,347.7 L30.6,345.4 L30.7,346.1 L30.9,341.8 L31.0,344.6 L31.2,345.1 L31.3,342.4 L31.5,346.0 L31.6,344.9 L31.8,349.2 L31.9,345.3 L32.1,343.8 L32.2,341.1 L32.4,341.4 L32.5,347.0 L32.7,341.0 L32.8,340.9 L33.0,341.6 L33.1,344.8 L33.3,347.6 L33.4,345.6 L33.6,347.4 L33.7,340.6 L33.9,340.1 L34.0,347.1 L34.2,343.0 L34.3,346.6 L34.5,343.3 L34.6,341.6 L34.8,342.5 L34.9,340.9 L35.1,348.3 L35.2,345.4 L35.4,343.2 L35.5,344.1 L35.7,343.5 L35.8,340.5 L36.0,348.2 L36.1,345.4 L36.3,348.8 L36.4,344.0 L36.6,345.7 L36.7,342.3 L36.9,340.4 L37.0,348.6 L37.2,347.9 L37.3,342.9 L37.5,348.3 L37.6,347.5 L37.8,342.8 L37.9,345.5 L38.1,348.8 L38.2,344.6 L38.4,348.7 L38.5,342.2 L38.7,343.6 L38.8,346.6 L39.0,342.0 L39.1,342.8 L39.3,348.1 L39.4,344.5 L39.6,347.3 L39.7,342.2 L39.9,341.6 L40.0,343.3 L40.2,341.7 L40.3,348.9 L40.5,342.7 L40.6,345.2 L40.8,341.1 L40.9,344.9 L41.1,343.5 L41.2,343.7 L41.4,340.6 L41.5,341.1 L41.7,347.6 L41.8,343.2 L42.0,342.3 L42.1,341.8 L42.3,342.6 L42.4,342.2 L42.6,340.3 L42.7,346.1 L42.9,343.1 L43.0,341.4 L43.2,346.5 L43.3,340.9 L43.5,342.5 L43.6,347.7 L43.8,341.2 L43.9,344.1 L44.1,347.7 L44.2,347.4 L44.4,341.5 L44.5,343.2 L44.7,346.6 L44.8,343.5 L45.0,348.8 L45.1,341.9 L45.3,348.7 L45.4,344.6 L45.6,342.1 L45.7,344.2 L45.9,341.2 L46.0,346.5 L46.2,342.4 L46.3,348.3 L46.5,345.4 L46.6,343.4 L46.8,342.3 L46.9,345.6 L47.1,342.0 L47.2,348.0 L47.4,341.1 L47.5,344.7 L47.7,345.0 L47.8,342.5 L48.0,347.1 L48.1,343.5 L48.3,346.0 L48.4,345.2 L48.6,342.9 L48.7,343.6 L48.9,340.8 L49.0,341.6 L49.2,347.8 L49.3,343.0 L49.5,346.1 L49.6,341.0 L49.8,345.2 L49.9,343.3 L50.1,344.6 L50.2,342.7 L50.4,340.6 L50.5,342.9 L50.7,342.1 L50.8,341.2 L51.0,346.6 L51.1,342.6 L51.3,343.7 L51.4,348.4 L51.6,347.1 L51.7,348.1 L51.9,347.9 L52.0,341.2 L52.2,342.5 L52.3,340.3 L52.5,346.3 L52.6,346.1 L52.8,343.2 L52.9,343.8 L53.1,346.1 L53.2,346.4 L53.4,342.3 L53.5,347.8 L53.7,343.2 L53.8,345.8 L54.0,341.7 L54.1,341.1 L54.3,348.4 L54.4,346.8 L54.6,346.6 L54.7,340.4 L54.9,340.4 L55.0,341.5 L55.2,341.8 L55.3,342.8 L55.5,343.5 L55.6,340.4 L55.8,342.9 L55.9,345.9 L56.1,341.7 L56.2,347.7 L56.4,345.2 L56.5,346.6 L56.7,342.3 L56.8,344.0 L57.0,346.3 L57.1,343.2 L57.3,340.0 L57.4,347.7 L57.6,347.1 L57.7,342.6 L57.9,340.4 L58.0,347.9 L58.2,345.6 L58.3,340.4 L58.5,342.2 L58.6,341.0 L58.8,347.3 L58.9,341.9 L59.1,348.4 L59.2,346.9 L59.4,340.8 L59.5,346.4 L59.7,343.6 L59.8,346.9 L60.0,347.6 L60.1,342.6 L60.3,340.8 L60.4,348.7 L60.6,343.9 L60.7,348.6 L60.9,346.4 L61.0,346.8 L61.2,347.7 L61.3,345.8 L61.5,344.2 L61.6,340.5 L61.8,346.5 L61.9,344.0 L62.1,344.7 L62.2,348.6 L62.4,341.2 L62.5,347.0 L62.7,340.4 L62.8,346.5 L63.0,347.5 L63.1,342.4 L63.3,345.1 L63.4,349.0 L63.6,345.9 L63.7,345.1 L63.9,342.4 L64.0,340.6 L64.2,343.4 L64.3,343.9 L64.5,341.9 L64.6,342.9 L64.8,341.3 L64.9,346.6 L65.1,346.2 L65.2,342.3 L65.4,342.3 L65.5,344.8 L65.7,344.2 L65.8,348.7 L66.0,343.3 L66.1,342.8 L66.3,348.2 L66.4,341.4 L66.6,345.3 L66.7,343.2 L66.9,347.6 L67.0,345.1 L67.2,347.1 L67.3,341.7 L67.5,346.2 L67.6,345.6 L67.8,344.4 L67.9,347.2 L68.1,347.8 L68.2,341.2 L68.4,342.8 L68.5,343.4 L68.7,342.0 L68.8,340.7 L69.0,342.7 L69.1,341.9 L69.3,346.6 L69.4,344.3 L69.6,341.2 L69.7,343.1 L69.9,344.5 L70.0,343.5 L70.2,341.7 L70.3,340.8 L70.5,340.3 L70.6,349.3 L70.8,347.1 L70.9,340.9 L71.1,346.8 L71.2,349.2 L71.4,345.4 L71.5,341.2 L71.7,344.7 L71.8,344.2 L72.0,341.9 L72.1,345.2 L72.3,340.3 L72.4,348.6 L72.6,346.1 L72.7,346.0 L72.9,348.8 L73.0,346.2 L73.2,342.5 L73.3,342.5 L73.5,341.5 L73.7,340.5 L73.8,347.3 L74.0,347.9 L74.1,342.9 L74.3,341.9 L74.4,346.1 L74.6,348.0 L74.7,348.7 L74.9,341.8 L75.0,347.4 L75.2,347.9 L75.3,347.1 L75.5,343.2 L75.6,341.9 L75.8,347.8 L75.9,343.2 L76.1,343.6 L76.2,345.3 L76.4,343.6 L76.5,347.9 L76.7,342.4 L76.8,340.6 L77.0,345.5 L77.1,346.0 L77.3,347.8 L77.4,346.7 L77.6,348.6 L77.7,349.0 L77.9,344.8 L78.0,344.9 L78.2,341.7 L78.3,343.0 L78.5,345.6 L78.6,341.0 L78.8,346.6 L78.9,341.8 L79.1,344.4 L79.2,349.2 L79.4,341.1 L79.5,340.7 L79.7,344.3 L79.8,342.0 L80.0,346.9 L80.1,340.3 L80.3,348.0 L80.4,348.2 L80.6,347.5 L80.7,344.2 L80.9,342.9 L81.0,346.4 L81.2,345.0 L81.3,344.2 L81.5,343.4 L81.6,344.4 L81.8,346.4 L81.9,347.9 L82.1,348.6 L82.2,341.8 L82.4,343.0 L82.5,344.4 L82.7,345.5 L82.8,343.5 L83.0,342.1 L83.1,341.1 L83.3,343.3 L83.4,344.6 L83.6,349.3 L83.7,348.7 L83.9,348.3 L84.0,349.3 L84.2,349.2 L84.3,346.1 L84.5,347.8 L84.6,340.9 L84.8,346.6 L84.9,346.0 L85.1,335.1 L85.2,329.6 L85.4,325.1 L85.5,312.8 L85.7,307.8 L85.8,298.6 L86.0,300.6 L86.1,307.2 L86.3,300.8 L86.4,303.8 L86.6,309.7 L86.7,308.9 L86.9,306.9 L87.0,313.5 L87.2,312.0 L87.3,315.1 L87.5,314.8 L87.6,316.9 L87.8,318.3 L87.9,317.7 L88.1,316.1 L88.2,317.6 L88.4,325.1 L88.5,322.8 L88.7,319.6 L88.8,327.3 L89.0,322.5 L89.1,321.8 L89.3,326.5 L89.4,324.6 L89.6,327.5 L89.7,328.7 L89.9,326.3 L90.0,330.1 L90.2,326.5 L90.3,330.7 L90.5,331.9 L90.6,327.8 L90.8,331.3 L90.9,328.7 L91.1,332.5 L91.2,336.9 L91.4,334.4 L91.5,336.3 L91.7,337.1 L91.8,331.6 L92.0,340.0 L92.1,337.9 L92.3,332.5 L92.4,339.6 L92.6,335.8 L92.7,334.1 L92.9,341.7 L93.0,338.3 L93.2,340.5 L93.3,334.9 L93.5,341.1 L93.6,334.7 L93.8,336.6 L93.9,338.0 L94.1,335.0 L94.2,340.5 L94.4,337.2 L94.5,338.2 L94.7,342.1 L94.8,339.7 L95.0,344.2 L95.1,341.9 L95.3,344.3 L95.4,341.7 L95.6,345.1 L95.7,344.8 L95.9,338.5 L96.0,343.9 L96.2,340.3 L96.3,344.3 L96.5,343.7 L96.6,345.1 L96.8,338.8 L96.9,341.2 L97.1,344.7 L97.2,346.7 L97.4,344.7 L97.5,338.6 L97.7,343.8 L97.8,339.3 L98.0,343.5 L98.1,345.9 L98.3,339.6 L98.4,347.2 L98.6,344.9 L98.7,341.1 L98.9,340.6 L99.0,343.0 L99.2,346.7 L99.3,344.4 L99.5,340.2 L99.6,339.4 L99.8,340.2 L99.9,346.6 L100.1,341.0 L100.2,344.5 L100.4,342.1 L100.5,345.8 L100.7,343.0 L100.8,340.9 L101.0,347.6 L101.1,344.6 L101.3,346.0 L101.4,347.1 L101.6,348.5 L101.7,339.9 L101.9,343.0 L102.0,341.2 L102.2,344.5 L102.3,347.9 L102.5,347.3 L102.6,340.3 L102.8,341.7 L102.9,347.5 L103.1,346.3 L103.2,343.7 L103.4,344.5 L103.5,341.6 L103.7,347.9 L103.8,343.8 L104.0,348.2 L104.1,345.8 L104.3,340.9 L104.4,343.3 L104.6,342.2 L104.7,348.5 L104.9,345.7 L105.0,340.7 L105.2,341.9 L105.3,343.6 L105.5,344.6 L105.6,345.7 L105.8,343.9 L105.9,343.6 L106.1,340.4 L106.2,345.7 L106.4,343.5 L106.5,340.6 L106.7,344.7 L106.8,349.5 L107.0,340.9 L107.1,341.8 L107.3,346.7 L107.4,343.0 L107.6,343.0 L107.7,345.1 L107.9,342.9 L108.0,345.8 L108.2,345.4 L108.3,349.4 L108.5,349.7 L108.6,340.9 L108.8,345.7 L108.9,347.7 L109.1,348.6 L109.2,347.7 L109.4,346.4 L109.5,346.4 L109.7,344.0 L109.8,343.2 L110.0,347.9 L110.1,348.7 L110.3,349.3 L110.4,346.9 L110.6,343.4 L110.7,347.7 L110.9,347.5 L111.0,345.3 L111.2,346.5 L111.3,343.9 L111.5,345.7 L111.6,344.4 L111.8,341.2 L111.9,343.8 L112.1,343.7 L112.2,349.8 L112.4,345.1 L112.5,344.1 L112.7,343.0 L112.8,342.9 L113.0,343.9 L113.1,342.0 L113.3,340.8 L113.4,348.8 L113.6,344.9 L113.7,344.8 L113.9,346.0 L114.0,343.5 L114.2,342.3 L114.3,341.4 L114.5,343.5 L114.6,343.6 L114.8,347.5 L114.9,345.8 L115.1,349.4 L115.2,338.9 L115.4,336.6 L115.5,325.9 L115.7,313.7 L115.8,307.9 L116.0,305.7 L116.1,308.6 L116.3,304.4 L116.4,309.7 L116.6,307.9 L116.7,313.3 L116.9,307.3 L117.0,312.3 L117.2,317.4 L117.3,312.8 L117.5,313.8 L117.6,312.7 L117.8,315.0 L117.9,317.0 L118.1,322.0 L118.2,318.5 L118.4,321.0 L118.5,320.1 L118.7,324.6 L118.8,327.8 L119.0,326.6 L119.1,323.2 L119.3,328.8 L119.4,331.7 L119.6,329.0 L119.7,324.8 L119.9,332.2 L120.0,333.4 L120.2,329.0 L120.3,327.7 L120.5,328.7 L120.6,332.4 L120.8,336.0 L120.9,334.4 L121.1,337.4 L121.2,331.3 L121.4,332.8 L121.5,337.1 L121.7,336.6 L121.8,334.7 L122.0,337.6 L122.1,334.8 L122.3,332.6 L122.4,336.2 L122.6,333.1 L122.7,338.8 L122.9,336.4 L123.0,338.1 L123.2,339.3 L123.3,336.5 L123.5,338.6 L123.6,334.7 L123.8,343.4 L123.9,340.3 L124.1,344.4 L124.2,336.0 L124.4,341.3 L124.5,342.6 L124.7,339.1 L124.8,337.1 L125.0,337.9 L125.1,337.9 L125.3,343.8 L125.4,337.8 L125.6,344.6 L125.7,341.1 L125.9,342.3 L126.0,342.9 L126.2,342.7 L126.3,343.8 L126.5,343.4 L126.6,341.0 L126.8,344.9 L126.9,340.6 L127.1,344.9 L127.2,345.4 L127.4,345.6 L127.5,341.4 L127.7,345.8 L127.8,347.8 L128.0,343.0 L128.1,341.5 L128.3,343.8 L128.4,347.8 L128.6,340.4 L128.7,339.3 L128.9,343.7 L129.0,345.4 L129.2,346.6 L129.3,342.8 L129.5,348.7 L129.6,341.7 L129.8,346.6 L129.9,340.5 L130.1,340.0 L130.2,341.0 L130.4,340.4 L130.5,344.5 L130.7,345.1 L130.8,341.7 L131.0,348.7 L131.1,343.4 L131.3,341.5 L131.4,341.8 L131.6,347.0 L131.7,348.7 L131.9,341.7 L132.0,340.5 L132.2,347.5 L132.3,342.6 L132.5,349.4 L132.6,345.0 L132.8,346.3 L132.9,343.6 L133.1,347.8 L133.2,344.7 L133.4,343.5 L133.5,348.9 L133.7,341.6 L133.8,347.3 L134.0,341.2 L134.1,346.6 L134.3,344.3 L134.4,348.6 L134.6,341.2 L134.7,345.9 L134.9,344.5 L135.0,349.2 L135.2,349.4 L135.3,346.5 L135.5,342.8 L135.6,343.1 L135.8,343.2 L135.9,344.8 L136.1,343.0 L136.2,342.7 L136.4,347.8 L136.5,346.8 L136.7,343.6 L136.8,350.0 L137.0,342.9 L137.1,346.2 L137.3,342.4 L137.4,348.9 L137.6,348.9 L137.7,343.4 L137.9,347.9 L138.0,348.5 L138.2,343.6 L138.3,344.0 L138.5,345.5 L138.6,349.2 L138.8,342.5 L138.9,347.3 L139.1,346.5 L139.2,345.2 L139.4,346.4 L139.5,349.2 L139.7,343.0 L139.8,349.2 L140.0,344.4 L140.1,348.2 L140.3,349.0 L140.4,342.8 L140.6,349.0 L140.7,350.2 L140.9,343.8 L141.0,341.3 L141.2,342.1 L141.3,350.1 L141.5,341.2 L141.6,349.5 L141.8,342.5 L141.9,347.9 L142.1,342.0 L142.2,342.7 L142.4,347.4 L142.5,342.0 L142.7,344.3 L142.8,349.6 L143.0,347.8 L143.1,349.3 L143.3,350.2 L143.4,341.5 L143.6,343.3 L143.7,348.5 L143.9,347.5 L144.0,341.5 L144.2,345.8 L144.3,343.3 L144.5,345.2 L144.6,342.2 L144.8,341.4 L144.9,350.3 L145.1,344.1 L145.2,349.3 L145.4,342.3 L145.5,345.7 L145.7,335.1 L145.8,330.3 L146.0,320.6 L146.1,317.8 L146.3,306.8 L146.4,306.6 L146.6,306.0 L146.7,303.9 L146.9,307.5 L147.0,310.2 L147.2,315.4 L147.3,311.4 L147.5,311.4 L147.6,319.5 L147.8,319.9 L147.9,319.6 L148.1,316.4 L148.2,316.5 L148.4,318.3 L148.5,317.4 L148.7,318.1 L148.8,323.3 L149.0,323.2 L149.1,325.3 L149.3,324.3 L149.4,321.8 L149.6,328.8 L149.7,329.2 L149.9,328.8 L150.0,329.5 L150.2,331.5 L150.3,334.7 L150.5,334.3 L150.6,333.4 L150.8,331.0 L150.9,330.8 L151.1,332.2 L151.2,337.8 L151.4,332.9 L151.5,333.3 L151.7,334.0 L151.8,331.9 L152.0,340.2 L152.1,331.4 L152.3,337.4 L152.4,340.6 L152.6,334.8 L152.7,338.4 L152.9,336.6 L153.0,335.6 L153.2,335.5 L153.3,335.1 L153.5,342.0 L153.6,341.7 L153.8,343.1 L153.9,335.5 L154.1,341.6 L154.2,338.5 L154.4,341.7 L154.5,341.0 L154.7,339.0 L154.8,345.3 L155.0,336.5 L155.1,343.6 L155.3,344.7 L155.4,341.7 L155.6,342.6 L155.7,346.5 L155.9,339.7 L156.0,343.4 L156.2,344.6 L156.3,341.4 L156.5,344.6 L156.6,341.8 L156.8,343.1 L156.9,344.1 L157.1,344.8 L157.2,341.6 L157.4,344.5 L157.5,343.8 L157.7,341.0 L157.8,344.7 L158.0,341.6 L158.1,347.6 L158.3,343.7 L158.4,346.0 L158.6,344.3 L158.7,343.9 L158.9,341.6 L159.0,341.0 L159.2,348.3 L159.3,344.7 L159.5,344.7 L159.6,344.8 L159.8,347.5 L159.9,342.2 L160.1,341.7 L160.2,347.7 L160.4,344.4 L160.5,346.1 L160.7,347.9 L160.8,348.6 L161.0,348.4 L161.1,340.8 L161.3,344.0 L161.4,348.2 L161.6,348.1 L161.7,341.7 L161.9,342.0 L162.0,343.0 L162.2,341.6 L162.3,344.0 L162.5,348.1 L162.6,345.6 L162.8,345.0 L162.9,341.6 L163.1,344.5 L163.2,350.1 L163.4,347.3 L163.5,345.1 L163.7,345.4 L163.8,348.3 L164.0,348.0 L164.1,342.4 L164.3,347.3 L164.4,344.4 L164.6,345.9 L164.7,343.3 L164.9,344.5 L165.0,344.3 L165.2,344.7 L165.3,341.3 L165.5,343.0 L165.6,346.5 L165.8,341.8 L165.9,342.9 L166.1,347.9 L166.2,343.8 L166.4,344.3 L166.5,343.5 L166.7,349.0 L166.8,342.2 L167.0,347.2 L167.1,349.2 L167.3,343.2 L167.4,345.3 L167.6,348.7 L167.7,347.1 L167.9,344.8 L168.0,341.8 L168.2,345.5 L168.3,344.8 L168.5,348.0 L168.6,344.1 L168.8,345.2 L168.9,347.4 L169.1,348.9 L169.2,344.7 L169.4,345.0 L169.5,346.8 L169.7,350.0 L169.8,343.3 L170.0,350.4 L170.1,348.1 L170.3,344.9 L170.4,347.6 L170.6,344.6 L170.7,342.2 L170.9,348.5 L171.0,345.0 L171.2,346.4 L171.3,346.1 L171.5,349.8 L171.6,348.5 L171.8,341.8 L171.9,347.0 L172.1,345.8 L172.2,345.8 L172.4,349.3 L172.5,345.4 L172.7,346.0 L172.8,349.8 L173.0,345.6 L173.1,346.1 L173.3,346.3 L173.4,349.2 L173.6,347.8 L173.7,348.4 L173.9,345.3 L174.0,342.0 L174.2,347.9 L174.3,346.7 L174.5,348.7 L174.6,348.7 L174.8,342.7 L174.9,343.7 L175.1,342.4 L175.2,349.2 L175.4,342.6 L175.5,342.5 L175.7,348.6 L175.8,346.9 L176.0,339.7 L176.1,338.0 L176.3,330.9 L176.4,321.3 L176.6,310.4 L176.7,310.3 L176.9,304.7 L177.0,307.7 L177.2,313.0 L177.3,312.7 L177.5,314.5 L177.6,309.2 L177.8,312.1 L177.9,315.0 L178.1,311.5 L178.2,321.6 L178.4,316.2 L178.5,317.1 L178.7,318.5 L178.8,319.0 L179.0,325.5 L179.1,323.6 L179.3,324.0 L179.4,324.0 L179.6,321.4 L179.7,324.5 L179.9,330.4 L180.0,330.5 L180.2,331.7 L180.3,326.9 L180.5,327.0 L180.6,326.2 L180.8,331.3 L180.9,330.4 L181.1,331.7 L181.2,332.5 L181.4,333.9 L181.5,332.4 L181.7,336.8 L181.8,331.8 L182.0,338.8 L182.1,335.9 L182.3,331.7 L182.4,334.5 L182.6,336.9 L182.7,336.1 L182.9,337.9 L183.0,336.0 L183.2,335.9 L183.3,341.0 L183.5,336.6 L183.6,340.8 L183.8,341.9 L183.9,340.2 L184.1,339.2 L184.2,343.9 L184.4,339.6 L184.5,343.9 L184.7,336.5 L184.8,340.2 L185.0,342.3 L185.1,337.1 L185.3,344.8 L185.4,337.7 L185.6,342.7 L185.7,339.0 L185.9,346.0 L186.0,342.9 L186.2,345.2 L186.3,342.6 L186.5,344.3 L186.6,344.5 L186.8,341.1 L186.9,340.5 L187.1,346.4 L187.2,340.1 L187.4,347.3 L187.5,340.9 L187.7,340.1 L187.8,340.1 L188.0,346.5 L188.1,348.2 L188.3,343.3 L188.4,345.7 L188.6,342.1 L188.7,348.1 L188.9,346.2 L189.0,341.4 L189.2,340.5 L189.3,346.5 L189.5,340.5 L189.6,347.9 L189.8,343.0 L189.9,342.5 L190.1,345.8 L190.2,343.4 L190.4,345.7 L190.5,342.0 L190.7,349.0 L190.8,343.7 L191.0,348.5 L191.1,342.2 L191.3,348.2 L191.4,349.9 L191.6,344.5 L191.7,341.2 L191.9,344.5 L192.0,346.9 L192.2,343.1 L192.3,346.1 L192.5,342.0 L192.6,345.4 L192.8,347.9 L192.9,345.2 L193.1,347.5 L193.2,342.3 L193.4,348.9 L193.5,342.4 L193.7,349.8 L193.8,350.5 L194.0,350.0 L194.1,346.3 L194.3,344.1 L194.4,344.7 L194.6,348.4 L194.7,346.1 L194.9,350.1 L195.0,342.4 L195.2,346.0 L195.3,349.5 L195.5,347.1 L195.6,346.6 L195.8,342.4 L195.9,342.9 L196.1,344.2 L196.2,349.9 L196.4,349.5 L196.5,343.8 L196.7,350.2 L196.8,342.0 L197.0,347.2 L197.1,350.7 L197.3,344.9 L197.4,350.5 L197.6,347.8 L197.7,342.3 L197.9,344.9 L198.0,346.0 L198.2,344.1 L198.3,348.7 L198.5,343.5 L198.6,349.1 L198.8,344.6 L198.9,342.5 L199.1,347.0 L199.2,342.8 L199.4,347.0 L199.5,349.2 L199.7,347.4 L199.8,346.2 L200.0,342.2 L200.1,346.7 L200.3,342.8 L200.4,347.9 L200.6,343.2 L200.7,347.3 L200.9,345.2 L201.0,345.4 L201.2,348.1 L201.3,343.5 L201.5,343.5 L201.6,350.7 L201.8,345.0 L201.9,349.8 L202.1,350.0 L202.2,346.4 L202.4,343.4 L202.5,342.9 L202.7,350.1 L202.8,343.1 L203.0,346.6 L203.1,347.0 L203.3,343.1 L203.4,346.4 L203.6,343.6 L203.7,347.0 L203.9,346.7 L204.0,345.4 L204.2,343.9 L204.3,345.8 L204.5,343.9 L204.6,343.3 L204.8,344.3 L204.9,350.1 L205.1,346.7 L205.2,350.3 L205.4,342.2 L205.5,350.8 L205.7,346.6 L205.8,349.4 L206.0,347.4 L206.1,348.5 L206.3,344.2 L206.4,349.0 L206.6,343.5 L206.7,344.6 L206.9,342.4 L207.0,345.8 L207.2,346.9 L207.3,344.8 L207.5,350.3 L207.6,342.9 L207.8,347.5 L207.9,344.3 L208.1,347.6 L208.2,349.4 L208.4,348.7 L208.5,342.7 L208.7,344.4 L208.8,347.7 L209.0,351.2 L209.1,342.6 L209.3,347.9 L209.4,348.5 L209.6,349.7 L209.7,345.3 L209.9,349.6 L210.0,346.4 L210.2,350.7 L210.3,342.3 L210.5,350.8 L210.6,346.0 L210.8,345.9 L210.9,343.0 L211.1,344.4 L211.2,348.9 L211.4,348.4 L211.5,343.6 L211.7,345.4 L211.8,343.5 L212.0,344.0 L212.1,344.2 L212.3,345.2 L212.4,351.2 L212.6,351.4 L212.7,349.5 L212.9,346.6 L213.0,346.8 L213.2,349.4 L213.3,350.5 L213.5,349.1 L213.6,348.1 L213.8,344.0 L213.9,347.9 L214.1,350.0 L214.2,349.4 L214.4,343.0 L214.5,348.8 L214.7,345.4 L214.8,343.7 L215.0,351.1 L215.1,348.4 L215.3,349.1 L215.4,343.4 L215.6,349.8 L215.7,350.8 L215.9,350.5 L216.0,349.1 L216.2,349.9 L216.3,349.6 L216.5,347.6 L216.6,346.2 L216.8,349.8 L216.9,349.4 L217.1,350.2 L217.2,344.9 L217.4,351.0 L217.5,347.1 L217.7,350.9 L217.8,343.3 L218.0,351.1 L218.1,349.4 L218.3,344.5 L218.4,349.9 L218.6,344.3 L218.7,344.0 L218.9,346.4 L219.0,344.4 L219.2,346.7 L219.3,350.6 L219.5,348.5 L219.6,348.7 L219.8,345.8 L219.9,349.4 L220.1,349.5 L220.2,348.5 L220.4,350.9 L220.5,349.8 L220.7,345.9 L220.8,343.0 L221.0,348.2 L221.1,349.9 L221.3,345.3 L221.4,347.7 L221.6,349.9 L221.7,349.5 L221.9,342.2 L222.0,346.7 L222.2,342.3 L222.3,343.2 L222.5,349.7 L222.6,346.1 L222.8,347.8 L222.9,346.4 L223.1,345.3 L223.2,344.2 L223.4,345.5 L223.5,350.0 L223.7,347.9 L223.8,344.9 L224.0,343.0 L224.1,344.7 L224.3,348.7 L224.4,346.3 L224.6,348.3 L224.7,349.6 L224.9,343.3 L225.0,348.5 L225.2,342.6 L225.3,349.8 L225.5,343.9 L225.6,344.7 L225.8,351.0 L225.9,345.5 L226.1,344.3 L226.2,350.4 L226.4,347.8 L226.5,350.4 L226.7,345.8 L226.8,346.8 L227.0,351.0 L227.1,346.9 L227.3,351.3 L227.4,343.9 L227.6,349.8 L227.7,343.7 L227.9,347.1 L228.0,342.2 L228.2,343.8 L228.3,350.9 L228.5,346.4 L228.6,349.6 L228.8,344.5 L228.9,345.4 L229.1,343.1 L229.2,347.3 L229.4,350.1 L229.5,346.9 L229.7,345.7 L229.8,350.7 L230.0,350.4 L230.1,348.3 L230.3,342.9 L230.4,347.9 L230.6,346.3 L230.7,351.0 L230.9,345.5 L231.0,348.3 L231.2,348.0 L231.3,345.7 L231.5,347.0 L231.6,348.4 L231.8,350.5 L231.9,346.8 L232.1,345.5 L232.2,351.2 L232.4,342.7 L232.5,349.9 L232.7,348.5 L232.8,347.3 L233.0,346.3 L233.1,349.1 L233.3,350.4 L233.4,348.9 L233.6,349.1 L233.7,342.5 L233.9,345.2 L234.0,343.5 L234.2,351.0 L234.3,350.4 L234.5,343.5 L234.6,347.6 L234.8,347.5 L234.9,342.6 L235.1,345.8 L235.2,349.1 L235.4,348.1 L235.5,344.8 L235.7,349.2 L235.8,344.9 L236.0,347.2 L236.1,346.1 L236.3,351.2 L236.4,348.2 L236.6,349.6 L236.7,348.4 L236.9,345.7 L237.0,351.1 L237.2,341.5 L237.3,334.2 L237.5,323.2 L237.6,314.9 L237.8,312.8 L237.9,309.7 L238.1,310.9 L238.2,308.2 L238.4,307.7 L238.5,312.5 L238.7,317.0 L238.8,311.7 L239.0,318.2 L239.1,314.1 L239.3,316.5 L239.4,315.1 L239.6,318.4 L239.7,320.2 L239.9,326.5 L240.0,327.3 L240.2,321.1 L240.3,323.1 L240.5,329.7 L240.6,323.6 L240.8,325.5 L240.9,327.3 L241.1,325.0 L241.2,327.0 L241.4,328.9 L241.5,329.5 L241.7,335.4 L241.8,329.5 L242.0,329.5 L242.1,336.5 L242.3,332.8 L242.4,336.9 L242.6,335.5 L242.7,337.3 L242.9,333.5 L243.0,332.4 L243.2,338.4 L243.3,336.1 L243.5,337.3 L243.6,338.7 L243.8,339.8 L243.9,335.8 L244.1,336.9 L244.2,342.3 L244.4,339.1 L244.5,337.2 L244.7,340.6 L244.8,337.4 L245.0,342.4 L245.1,336.0 L245.3,343.4 L245.4,341.3 L245.6,339.5 L245.7,345.1 L245.9,339.2 L246.0,339.1 L246.2,337.7 L246.3,342.3 L246.5,344.4 L246.6,343.9 L246.8,341.6 L246.9,345.4 L247.1,339.2 L247.2,341.1 L247.4,344.4 L247.5,347.5 L247.7,344.5 L247.8,345.2 L248.0,346.1 L248.1,342.7 L248.3,347.8 L248.4,346.1 L248.6,342.5 L248.7,343.1 L248.9,347.0 L249.0,342.9 L249.2,341.5 L249.3,347.9 L249.5,340.7 L249.6,334.2 L249.8,329.2 L249.9,324.9 L250.1,312.6 L250.2,309.7 L250.4,308.5 L250.5,313.0 L250.7,315.0 L250.8,319.4 L251.0,318.8 L251.1,319.1 L251.3,318.5 L251.4,321.1 L251.6,319.3 L251.7,325.5 L251.9,325.9 L252.0,327.2 L252.2,321.7 L252.3,327.3 L252.5,328.8 L252.6,327.3 L252.8,331.6 L252.9,332.3 L253.1,331.6 L253.2,332.9 L253.4,332.0 L253.5,334.7 L253.7,328.4 L253.8,334.2 L254.0,334.7 L254.1,334.4 L254.3,331.8 L254.4,330.4 L254.6,335.7 L254.7,338.2 L254.9,333.6 L255.0,333.4 L255.2,333.9 L255.3,333.1 L255.5,338.8 L255.6,341.9 L255.8,340.7 L255.9,336.9 L256.1,340.4 L256.2,334.9 L256.4,342.3 L256.5,337.8 L256.7,335.1 L256.8,341.1 L257.0,336.9 L257.1,338.4 L257.3,336.6 L257.4,340.4 L257.6,341.6 L257.7,344.2 L257.9,337.3 L258.0,344.7 L258.2,338.3 L258.3,339.6 L258.5,343.5 L258.6,341.0 L258.8,341.0 L258.9,343.4 L259.1,340.3 L259.2,345.7 L259.4,340.5 L259.5,346.4 L259.7,346.3 L259.8,343.9 L260.0,339.4 L260.1,346.4 L260.3,339.6 L260.4,344.1 L260.6,343.4 L260.7,340.2 L260.9,345.5 L261.0,346.5 L261.2,345.3 L261.3,343.7 L261.5,344.8 L261.6,345.6 L261.8,338.1 L261.9,337.9 L262.1,332.9 L262.2,325.0 L262.4,321.4 L262.5,310.9 L262.7,318.2 L262.8,311.0 L263.0,316.0 L263.1,313.9 L263.3,317.9 L263.4,321.1 L263.6,322.3 L263.7,321.0 L263.9,320.9 L264.0,320.4 L264.2,323.2 L264.3,322.9 L264.5,322.9 L264.6,328.7 L264.8,327.4 L264.9,327.4 L265.1,325.9 L265.2,331.2 L265.4,327.2 L265.5,328.4 L265.7,331.8 L265.8,333.6 L266.0,336.7 L266.1,335.1 L266.3,337.5 L266.4,337.7 L266.6,336.4 L266.7,336.8 L266.9,331.2 L267.0,333.0 L267.2,331.6 L267.3,339.8 L267.5,338.9 L267.6,338.4 L267.8,335.4 L267.9,336.6 L268.1,335.1 L268.2,339.8 L268.4,343.4 L268.5,337.4 L268.7,335.2 L268.8,336.7 L269.0,338.6 L269.1,343.9 L269.3,343.3 L269.4,340.3 L269.6,337.3 L269.7,337.5 L269.9,338.2 L270.0,344.1 L270.2,341.5 L270.3,346.4 L270.5,345.9 L270.6,345.0 L270.8,342.2 L270.9,345.6 L271.1,339.3 L271.2,339.3 L271.4,343.6 L271.5,343.3 L271.7,340.6 L271.8,341.2 L272.0,339.2 L272.1,347.5 L272.3,345.7 L272.4,348.0 L272.6,348.4 L272.7,343.5 L272.9,346.4 L273.0,343.3 L273.2,347.3 L273.3,347.6 L273.5,341.2 L273.6,340.2 L273.8,342.1 L273.9,345.6 L274.1,339.4 L274.2,329.8 L274.4,331.1 L274.5,324.5 L274.7,316.4 L274.8,307.9 L275.0,316.9 L275.1,314.9 L275.3,311.8 L275.4,315.3 L275.6,319.2 L275.7,322.6 L275.9,319.9 L276.0,322.4 L276.2,319.3 L276.3,320.6 L276.5,327.5 L276.6,323.6 L276.8,321.8 L276.9,327.1 L277.1,323.6 L277.2,325.0 L277.4,328.0 L277.5,329.9 L277.7,331.0 L277.8,332.3 L278.0,330.4 L278.1,327.6 L278.3,334.2 L278.4,328.6 L278.6,332.9 L278.7,332.8 L278.9,335.8 L279.0,336.6 L279.2,332.7 L279.3,336.9 L279.5,337.7 L279.6,336.1 L279.8,333.4 L279.9,340.9 L280.1,338.4 L280.2,333.8 L280.4,335.7 L280.5,342.9 L280.7,336.3 L280.8,338.1 L281.0,342.0 L281.1,342.6 L281.3,341.1 L281.4,342.4 L281.6,336.1 L281.7,336.9 L281.9,345.2 L282.0,343.8 L282.2,337.0 L282.3,337.3 L282.5,339.3 L282.6,345.8 L282.8,339.5 L282.9,343.8 L283.1,346.3 L283.2,343.8 L283.4,346.6 L283.5,340.7 L283.7,339.8 L283.8,338.7 L284.0,345.6 L284.1,339.8 L284.3,347.9 L284.4,345.6 L284.6,340.9 L284.7,346.7 L284.9,340.9 L285.0,344.2 L285.2,340.6 L285.3,346.9 L285.5,348.0 L285.6,348.3 L285.8,340.0 L285.9,347.9 L286.1,345.2 L286.2,347.7 L286.4,340.7 L286.5,335.6 L286.7,329.2 L286.8,324.9 L287.0,313.2 L287.1,308.4 L287.3,314.2 L287.4,313.1 L287.6,315.2 L287.7,312.8 L287.9,320.6 L288.0,315.0 L288.2,323.5 L288.3,324.3 L288.5,321.9 L288.6,319.8 L288.8,325.5 L288.9,322.2 L289.1,325.1 L289.2,322.9 L289.4,331.6 L289.5,328.4 L289.7,327.3 L289.8,325.6 L290.0,332.1 L290.1,333.8 L290.3,334.4 L290.4,328.1 L290.6,331.1 L290.7,331.0 L290.9,335.8 L291.0,330.6 L291.2,335.3 L291.3,339.2 L291.5,337.7 L291.6,331.1 L291.8,332.2 L291.9,332.9 L292.1,338.6 L292.2,338.1 L292.4,337.8 L292.5,337.5 L292.7,337.4 L292.8,339.6 L293.0,340.2 L293.1,343.0 L293.3,341.6 L293.4,342.4 L293.6,343.8 L293.7,343.3 L293.9,342.5 L294.0,336.4 L294.2,342.6 L294.3,344.4 L294.5,340.7 L294.6,345.0 L294.8,338.8 L294.9,346.0 L295.1,341.6 L295.2,344.2 L295.4,340.2 L295.5,340.8 L295.7,341.4 L295.8,341.3 L296.0,339.3 L296.1,342.7 L296.3,347.7 L296.4,344.9 L296.6,347.5 L296.7,346.1 L296.9,346.9 L297.0,348.5 L297.2,346.3 L297.3,342.0 L297.5,341.9 L297.6,343.5 L297.8,340.0 L297.9,342.0 L298.1,348.1 L298.2,348.5 L298.4,343.2 L298.5,347.3 L298.7,343.2 L298.8,338.2 L299.0,331.3 L299.1,322.8 L299.3,313.9 L299.4,315.9 L299.6,312.5 L299.7,316.6 L299.9,315.3 L300.0,318.0 L300.2,323.0 L300.3,316.7 L300.5,321.1 L300.6,323.1 L300.8,323.0 L300.9,327.6 L301.1,323.5 L301.2,329.0 L301.4,327.8 L301.5,331.1 L301.6,323.7 L301.8,325.6 L301.9,327.0 L302.1,333.3 L302.2,325.7 L302.4,328.6 L302.5,333.4 L302.7,336.5 L302.8,329.5 L303.0,332.5 L303.1,335.3 L303.3,335.8 L303.4,336.8 L303.6,337.3 L303.7,333.1 L303.9,333.6 L304.0,331.9 L304.2,338.4 L304.3,334.3 L304.5,335.1 L304.6,342.0 L304.8,339.3 L304.9,339.2 L305.1,340.1 L305.2,339.9 L305.4,341.0 L305.5,337.7 L305.7,335.8 L305.8,336.1 L306.0,335.8 L306.1,339.3 L306.3,337.5 L306.4,337.4 L306.6,341.1 L306.7,345.7 L306.9,343.3 L307.0,339.7 L307.2,344.5 L307.3,339.2 L307.5,338.7 L307.6,340.7 L307.8,341.8 L307.9,344.6 L308.1,342.4 L308.2,345.2 L308.4,339.5 L308.5,347.3 L308.7,342.0 L308.8,346.7 L309.0,339.4 L309.1,346.9 L309.3,341.4 L309.4,347.3 L309.6,346.9 L309.7,345.8 L309.9,342.3 L310.0,339.9 L310.2,341.7 L310.3,348.3 L310.5,341.5 L310.6,346.2 L310.8,345.6 L310.9,342.2 L311.1,331.7 L311.2,325.3 L311.4,318.8 L311.5,322.0 L311.7,311.9 L311.8,315.6 L312.0,316.0 L312.1,314.0 L312.3,313.7 L312.4,314.3 L312.6,323.0 L312.7,317.4 L312.9,326.0 L313.0,321.4 L313.2,325.6 L313.3,321.1 L313.5,327.9 L313.6,323.7 L313.8,325.5 L313.9,327.7 L314.1,324.7 L314.2,326.6 L314.4,332.3 L314.5,328.2 L314.7,329.7 L314.8,333.8 L315.0,329.4 L315.1,329.7 L315.3,330.5 L315.4,332.5 L315.6,332.8 L315.7,335.8 L315.9,334.7 L316.0,338.8 L316.2,331.7 L316.3,337.7 L316.5,339.7 L316.6,334.5 L316.8,333.0 L316.9,337.1 L317.1,334.5 L317.2,338.0 L317.4,340.6 L317.5,335.2 L317.7,335.7 L317.8,339.3 L318.0,336.8 L318.1,337.6 L318.3,339.8 L318.4,337.0 L318.6,336.8 L318.7,339.7 L318.9,340.9 L319.0,345.4 L319.2,342.1 L319.3,337.9 L319.5,339.4 L319.6,344.4 L319.8,342.9 L319.9,345.9 L320.1,346.9 L320.2,346.1 L320.4,339.4 L320.5,347.2 L320.7,343.5 L320.8,341.0 L321.0,340.5 L321.1,347.0 L321.3,341.1 L321.4,340.0 L321.6,341.8 L321.7,348.0 L321.9,343.8 L322.0,346.4 L322.2,340.4 L322.3,344.0 L322.5,342.8 L322.6,341.9 L322.8,346.2 L322.9,343.5 L323.1,341.3 L323.2,349.4 L323.4,344.8 L323.5,342.1 L323.7,340.6 L323.8,346.6 L324.0,345.4 L324.1,340.9 L324.3,345.1 L324.4,347.6 L324.6,345.8 L324.7,343.1 L324.9,345.5 L325.0,346.6 L325.2,347.0 L325.3,342.4 L325.5,348.5 L325.6,349.9 L325.8,348.0 L325.9,349.1 L326.1,344.7 L326.2,349.6 L326.4,343.0 L326.5,343.5 L326.7,346.9 L326.8,349.7 L327.0,342.2 L327.1,343.5 L327.3,341.8 L327.4,345.6 L327.6,342.9 L327.7,343.3 L327.9,348.5 L328.0,347.0 L328.2,350.3 L328.3,345.4 L328.5,347.9 L328.6,341.8 L328.8,350.5 L328.9,343.9 L329.1,346.2 L329.2,346.5 L329.4,350.5 L329.5,346.3 L329.7,350.9 L329.8,347.6 L330.0,343.8 L330.1,349.5 L330.3,343.7 L330.4,351.1 L330.6,346.1 L330.7,344.0 L330.9,350.8 L331.0,344.9 L331.2,345.7 L331.3,345.1 L331.5,348.1 L331.6,342.2 L331.8,345.4 L331.9,343.5 L332.1,349.6 L332.2,342.0 L332.4,347.6 L332.5,344.4 L332.7,346.2 L332.8,347.2 L333.0,348.6 L333.1,343.3 L333.3,344.3 L333.4,343.2 L333.6,350.9 L333.7,343.4 L333.9,343.3 L334.0,346.9 L334.2,347.4 L334.3,350.2 L334.5,342.6 L334.6,344.2 L334.8,343.6 L334.9,347.5 L335.1,346.3 L335.2,345.9 L335.4,350.3 L335.5,348.2 L335.7,350.0 L335.8,350.9 L336.0,344.6 L336.1,350.8 L336.3,345.9 L336.4,342.6 L336.6,350.5 L336.7,343.1 L336.9,342.3 L337.0,344.8 L337.2,344.8 L337.3,351.0 L337.5,350.2 L337.6,346.0 L337.8,347.0 L337.9,350.0 L338.1,349.6 L338.2,348.2 L338.4,346.9 L338.5,343.2 L338.7,344.4 L338.8,348.2 L339.0,347.6 L339.1,349.5 L339.3,350.4 L339.4,351.0 L339.6,343.9 L339.7,342.9 L339.9,350.4 L340.0,347.4 L340.2,343.8 L340.3,348.5 L340.5,344.5 L340.6,344.4 L340.8,345.5 L340.9,347.0 L341.1,348.4 L341.2,342.9 L341.4,349.0 L341.5,347.9 L341.7,346.5 L341.8,348.4 L342.0,349.5 L342.1,342.3 L342.3,346.6 L342.4,348.4 L342.6,348.7 L342.7,348.1 L342.9,343.8 L343.0,351.0 L343.2,349.4 L343.3,344.3 L343.5,346.1 L343.6,351.0 L343.8,344.1 L343.9,346.0 L344.1,351.0 L344.2,350.5 L344.4,344.3 L344.5,349.0 L344.7,345.5 L344.8,348.3 L345.0,349.2 L345.1,343.4 L345.3,344.2 L345.4,344.2 L345.6,344.6 L345.7,342.5 L345.9,343.4 L346.0,345.9 L346.2,346.1 L346.3,342.9 L346.5,347.6 L346.6,350.9 L346.8,347.5 L346.9,345.5 L347.1,348.7 L347.2,346.2 L347.4,343.8 L347.5,346.6 L347.7,342.4 L347.8,348.4 L348.0,343.7 L348.1,345.6 L348.3,351.1 L348.4,349.3 L348.6,349.9 L348.7,348.1 L348.9,348.0 L349.0,348.7 L349.2,351.1" fill="none" stroke="#ff0000" stroke-width="0.75"/>
<path d="M328.1,360.3 H358.75 V323.3" fill="none" stroke="#231f20" stroke-width="1"/>
<text x="328.4" y="370.6" font-size="9.6" fill="#231f20" text-anchor="start" >500 ms</text>
<text x="0" y="0" font-size="9.6" fill="#231f20" text-anchor="middle" transform="translate(369.6,342.8) rotate(-90)" >10% ΔF/F</text>
<text x="5.6" y="372.7" font-size="11.1" fill="#231f20" text-anchor="start" >VC</text>
<text x="46.4" y="372.7" font-size="11.1" fill="#231f20" text-anchor="start" >50 ms</text>
<text x="5.6" y="388.2" font-size="11.1" fill="#231f20" text-anchor="start" >-30 mV</text>
<text x="5.6" y="397.9" font-size="11.1" fill="#231f20" text-anchor="start" >-120 mV</text>
<path d="M52.1,397.3 H60.5 V381.4 H68 V397.3 H76.7" fill="none" stroke="#000" stroke-width="1.3"/>
<path d="M84.50,367.60 L85.10,370.60 L86.10,399.60 L86.10,399.60 L86.35,396.25 L86.60,393.26 L86.85,390.59 L87.10,388.20 L87.35,386.08 L87.60,384.18 L87.85,382.48 L88.10,380.97 L88.35,379.62 L88.60,378.41 L88.85,377.34 L89.10,376.38 L89.35,375.52 L89.60,374.76 L89.85,374.07 L90.10,373.46 L90.35,372.92 L90.60,372.43 L90.85,372.00 L91.10,371.61 L91.35,371.27 L91.60,370.96 L91.85,370.69 L92.10,370.44 L92.35,370.22 L92.60,370.03 L92.85,369.85 L93.10,369.70 L93.35,369.56 L93.60,369.43 L93.85,369.32 L94.10,369.22 L94.35,369.13 L94.60,369.05 L94.85,368.98 L95.10,368.92 L95.35,368.87 L95.60,368.82 L95.85,368.77 L96.10,368.73 L96.35,368.70 L96.60,368.66 L96.85,368.64" fill="none" stroke="#231f20" stroke-width="0.9"/>
<path d="M84.20,367.20 L84.80,370.20 L85.80,397.50 L85.80,397.50 L86.05,393.44 L86.30,389.93 L86.55,386.91 L86.80,384.29 L87.05,382.04 L87.30,380.09 L87.55,378.41 L87.80,376.96 L88.05,375.71 L88.30,374.62 L88.55,373.69 L88.80,372.89 L89.05,372.19 L89.30,371.59 L89.55,371.07 L89.80,370.62 L90.05,370.24 L90.30,369.90 L90.55,369.62 L90.80,369.37 L91.05,369.15 L91.30,368.97 L91.55,368.81 L91.80,368.67 L92.05,368.55 L92.30,368.45 L92.55,368.36 L92.80,368.28 L93.05,368.22 L93.30,368.16 L93.55,368.11 L93.80,368.07 L94.05,368.03 L94.30,368.00 L94.55,367.97 L94.80,367.95 L95.05,367.93 L95.30,367.91 L95.55,367.90 L95.80,367.88 L96.05,367.87 L96.30,367.86 L96.55,367.85" fill="none" stroke="#ff1a1a" stroke-width="0.9"/>
<path d="M114.70,367.60 L115.30,370.60 L116.30,399.60 L116.30,399.60 L116.55,396.25 L116.80,393.26 L117.05,390.59 L117.30,388.20 L117.55,386.08 L117.80,384.18 L118.05,382.48 L118.30,380.97 L118.55,379.62 L118.80,378.41 L119.05,377.34 L119.30,376.38 L119.55,375.52 L119.80,374.76 L120.05,374.07 L120.30,373.46 L120.55,372.92 L120.80,372.43 L121.05,372.00 L121.30,371.61 L121.55,371.27 L121.80,370.96 L122.05,370.69 L122.30,370.44 L122.55,370.22 L122.80,370.03 L123.05,369.85 L123.30,369.70 L123.55,369.56 L123.80,369.43 L124.05,369.32 L124.30,369.22 L124.55,369.13 L124.80,369.05 L125.05,368.98 L125.30,368.92 L125.55,368.87 L125.80,368.82 L126.05,368.77 L126.30,368.73 L126.55,368.70 L126.80,368.66 L127.05,368.64" fill="none" stroke="#231f20" stroke-width="0.9"/>
<path d="M114.40,367.20 L115.00,370.20 L116.00,397.50 L116.00,397.50 L116.25,393.44 L116.50,389.93 L116.75,386.91 L117.00,384.29 L117.25,382.04 L117.50,380.09 L117.75,378.41 L118.00,376.96 L118.25,375.71 L118.50,374.62 L118.75,373.69 L119.00,372.89 L119.25,372.19 L119.50,371.59 L119.75,371.07 L120.00,370.62 L120.25,370.24 L120.50,369.90 L120.75,369.62 L121.00,369.37 L121.25,369.15 L121.50,368.97 L121.75,368.81 L122.00,368.67 L122.25,368.55 L122.50,368.45 L122.75,368.36 L123.00,368.28 L123.25,368.22 L123.50,368.16 L123.75,368.11 L124.00,368.07 L124.25,368.03 L124.50,368.00 L124.75,367.97 L125.00,367.95 L125.25,367.93 L125.50,367.91 L125.75,367.90 L126.00,367.88 L126.25,367.87 L126.50,367.86 L126.75,367.85" fill="none" stroke="#ff1a1a" stroke-width="0.9"/>
<path d="M145.10,367.60 L145.70,370.60 L146.70,399.60 L146.70,399.60 L146.95,396.25 L147.20,393.26 L147.45,390.59 L147.70,388.20 L147.95,386.08 L148.20,384.18 L148.45,382.48 L148.70,380.97 L148.95,379.62 L149.20,378.41 L149.45,377.34 L149.70,376.38 L149.95,375.52 L150.20,374.76 L150.45,374.07 L150.70,373.46 L150.95,372.92 L151.20,372.43 L151.45,372.00 L151.70,371.61 L151.95,371.27 L152.20,370.96 L152.45,370.69 L152.70,370.44 L152.95,370.22 L153.20,370.03 L153.45,369.85 L153.70,369.70 L153.95,369.56 L154.20,369.43 L154.45,369.32 L154.70,369.22 L154.95,369.13 L155.20,369.05 L155.45,368.98 L155.70,368.92 L155.95,368.87 L156.20,368.82 L156.45,368.77 L156.70,368.73 L156.95,368.70 L157.20,368.66 L157.45,368.64" fill="none" stroke="#231f20" stroke-width="0.9"/>
<path d="M144.80,367.20 L145.40,370.20 L146.40,397.50 L146.40,397.50 L146.65,393.44 L146.90,389.93 L147.15,386.91 L147.40,384.29 L147.65,382.04 L147.90,380.09 L148.15,378.41 L148.40,376.96 L148.65,375.71 L148.90,374.62 L149.15,373.69 L149.40,372.89 L149.65,372.19 L149.90,371.59 L150.15,371.07 L150.40,370.62 L150.65,370.24 L150.90,369.90 L151.15,369.62 L151.40,369.37 L151.65,369.15 L151.90,368.97 L152.15,368.81 L152.40,368.67 L152.65,368.55 L152.90,368.45 L153.15,368.36 L153.40,368.28 L153.65,368.22 L153.90,368.16 L154.15,368.11 L154.40,368.07 L154.65,368.03 L154.90,368.00 L155.15,367.97 L155.40,367.95 L155.65,367.93 L155.90,367.91 L156.15,367.90 L156.40,367.88 L156.65,367.87 L156.90,367.86 L157.15,367.85" fill="none" stroke="#ff1a1a" stroke-width="0.9"/>
<path d="M175.50,367.60 L176.10,370.60 L177.10,399.60 L177.10,399.60 L177.35,396.25 L177.60,393.26 L177.85,390.59 L178.10,388.20 L178.35,386.08 L178.60,384.18 L178.85,382.48 L179.10,380.97 L179.35,379.62 L179.60,378.41 L179.85,377.34 L180.10,376.38 L180.35,375.52 L180.60,374.76 L180.85,374.07 L181.10,373.46 L181.35,372.92 L181.60,372.43 L181.85,372.00 L182.10,371.61 L182.35,371.27 L182.60,370.96 L182.85,370.69 L183.10,370.44 L183.35,370.22 L183.60,370.03 L183.85,369.85 L184.10,369.70 L184.35,369.56 L184.60,369.43 L184.85,369.32 L185.10,369.22 L185.35,369.13 L185.60,369.05 L185.85,368.98 L186.10,368.92 L186.35,368.87 L186.60,368.82 L186.85,368.77 L187.10,368.73 L187.35,368.70 L187.60,368.66 L187.85,368.64" fill="none" stroke="#231f20" stroke-width="0.9"/>
<path d="M175.20,367.20 L175.80,370.20 L176.80,397.50 L176.80,397.50 L177.05,393.44 L177.30,389.93 L177.55,386.91 L177.80,384.29 L178.05,382.04 L178.30,380.09 L178.55,378.41 L178.80,376.96 L179.05,375.71 L179.30,374.62 L179.55,373.69 L179.80,372.89 L180.05,372.19 L180.30,371.59 L180.55,371.07 L180.80,370.62 L181.05,370.24 L181.30,369.90 L181.55,369.62 L181.80,369.37 L182.05,369.15 L182.30,368.97 L182.55,368.81 L182.80,368.67 L183.05,368.55 L183.30,368.45 L183.55,368.36 L183.80,368.28 L184.05,368.22 L184.30,368.16 L184.55,368.11 L184.80,368.07 L185.05,368.03 L185.30,368.00 L185.55,367.97 L185.80,367.95 L186.05,367.93 L186.30,367.91 L186.55,367.90 L186.80,367.88 L187.05,367.87 L187.30,367.86 L187.55,367.85" fill="none" stroke="#ff1a1a" stroke-width="0.9"/>
<path d="M237.30,367.60 L237.90,370.60 L238.90,399.20 L238.90,399.20 L239.15,395.77 L239.40,392.72 L239.65,390.01 L239.90,387.61 L240.15,385.47 L240.40,383.58 L240.65,381.90 L240.90,380.41 L241.15,379.08 L241.40,377.90 L241.65,376.86 L241.90,375.93 L242.15,375.11 L242.40,374.38 L242.65,373.73 L242.90,373.16 L243.15,372.64 L243.40,372.19 L243.65,371.79 L243.90,371.43 L244.15,371.11 L244.40,370.83 L244.65,370.58 L244.90,370.36 L245.15,370.16 L245.40,369.99 L245.65,369.83 L245.90,369.69 L246.15,369.57 L246.40,369.46 L246.65,369.36 L246.90,369.28 L247.15,369.20 L247.40,369.13 L247.65,369.07 L247.90,369.02 L248.15,368.97 L248.40,368.93 L248.65,368.89 L248.90,368.86 L249.15,368.83 L249.40,368.81" fill="none" stroke="#231f20" stroke-width="0.9"/>
<path d="M237.00,367.20 L237.60,370.20 L238.60,395.50 L238.60,395.50 L238.85,391.46 L239.10,388.01 L239.35,385.06 L239.60,382.53 L239.85,380.37 L240.10,378.53 L240.35,376.95 L240.60,375.59 L240.85,374.44 L241.10,373.45 L241.35,372.60 L241.60,371.88 L241.85,371.26 L242.10,370.73 L242.35,370.28 L242.60,369.89 L242.85,369.56 L243.10,369.28 L243.35,369.03 L243.60,368.83 L243.85,368.65 L244.10,368.50 L244.35,368.37 L244.60,368.26 L244.85,368.16 L245.10,368.08 L245.35,368.01 L245.60,367.95 L245.85,367.90 L246.10,367.86 L246.35,367.82 L246.60,367.79 L246.85,367.76 L247.10,367.74 L247.35,367.72 L247.60,367.70 L247.85,367.69 L248.10,367.67 L248.35,367.66 L248.60,367.65 L248.85,367.65 L249.10,367.64" fill="none" stroke="#ff1a1a" stroke-width="0.9"/>
<path d="M249.60,367.60 L250.20,370.60 L251.20,399.20 L251.20,399.20 L251.45,395.77 L251.70,392.72 L251.95,390.01 L252.20,387.61 L252.45,385.47 L252.70,383.58 L252.95,381.90 L253.20,380.41 L253.45,379.08 L253.70,377.90 L253.95,376.86 L254.20,375.93 L254.45,375.11 L254.70,374.38 L254.95,373.73 L255.20,373.16 L255.45,372.64 L255.70,372.19 L255.95,371.79 L256.20,371.43 L256.45,371.11 L256.70,370.83 L256.95,370.58 L257.20,370.36 L257.45,370.16 L257.70,369.99 L257.95,369.83 L258.20,369.69 L258.45,369.57 L258.70,369.46 L258.95,369.36 L259.20,369.28 L259.45,369.20 L259.70,369.13 L259.95,369.07 L260.20,369.02 L260.45,368.97 L260.70,368.93 L260.95,368.89 L261.20,368.86 L261.45,368.83 L261.70,368.81" fill="none" stroke="#231f20" stroke-width="0.9"/>
<path d="M249.30,367.20 L249.90,370.20 L250.90,391.50 L250.90,391.50 L251.15,388.04 L251.40,385.09 L251.65,382.56 L251.90,380.39 L252.15,378.54 L252.40,376.96 L252.65,375.61 L252.90,374.45 L253.15,373.46 L253.40,372.61 L253.65,371.89 L253.90,371.27 L254.15,370.73 L254.40,370.28 L254.65,369.89 L254.90,369.56 L255.15,369.28 L255.40,369.04 L255.65,368.83 L255.90,368.65 L256.15,368.50 L256.40,368.37 L256.65,368.26 L256.90,368.16 L257.15,368.08 L257.40,368.01 L257.65,367.95 L257.90,367.90 L258.15,367.86 L258.40,367.82 L258.65,367.79 L258.90,367.76 L259.15,367.74 L259.40,367.72 L259.65,367.70 L259.90,367.69 L260.15,367.67 L260.40,367.66 L260.65,367.65 L260.90,367.65 L261.15,367.64 L261.40,367.63" fill="none" stroke="#ff1a1a" stroke-width="0.9"/>
<path d="M261.90,367.60 L262.50,370.60 L263.50,399.20 L263.50,399.20 L263.75,395.77 L264.00,392.72 L264.25,390.01 L264.50,387.61 L264.75,385.47 L265.00,383.58 L265.25,381.90 L265.50,380.41 L265.75,379.08 L266.00,377.90 L266.25,376.86 L266.50,375.93 L266.75,375.11 L267.00,374.38 L267.25,373.73 L267.50,373.16 L267.75,372.64 L268.00,372.19 L268.25,371.79 L268.50,371.43 L268.75,371.11 L269.00,370.83 L269.25,370.58 L269.50,370.36 L269.75,370.16 L270.00,369.99 L270.25,369.83 L270.50,369.69 L270.75,369.57 L271.00,369.46 L271.25,369.36 L271.50,369.28 L271.75,369.20 L272.00,369.13 L272.25,369.07 L272.50,369.02 L272.75,368.97 L273.00,368.93 L273.25,368.89 L273.50,368.86 L273.75,368.83 L274.00,368.81" fill="none" stroke="#231f20" stroke-width="0.9"/>
<path d="M261.60,367.20 L262.20,370.20 L263.20,391.50 L263.20,391.50 L263.45,388.04 L263.70,385.09 L263.95,382.56 L264.20,380.39 L264.45,378.54 L264.70,376.96 L264.95,375.61 L265.20,374.45 L265.45,373.46 L265.70,372.61 L265.95,371.89 L266.20,371.27 L266.45,370.73 L266.70,370.28 L266.95,369.89 L267.20,369.56 L267.45,369.28 L267.70,369.04 L267.95,368.83 L268.20,368.65 L268.45,368.50 L268.70,368.37 L268.95,368.26 L269.20,368.16 L269.45,368.08 L269.70,368.01 L269.95,367.95 L270.20,367.90 L270.45,367.86 L270.70,367.82 L270.95,367.79 L271.20,367.76 L271.45,367.74 L271.70,367.72 L271.95,367.70 L272.20,367.69 L272.45,367.67 L272.70,367.66 L272.95,367.65 L273.20,367.65 L273.45,367.64 L273.70,367.63" fill="none" stroke="#ff1a1a" stroke-width="0.9"/>
<path d="M274.20,367.60 L274.80,370.60 L275.80,399.20 L275.80,399.20 L276.05,395.77 L276.30,392.72 L276.55,390.01 L276.80,387.61 L277.05,385.47 L277.30,383.58 L277.55,381.90 L277.80,380.41 L278.05,379.08 L278.30,377.90 L278.55,376.86 L278.80,375.93 L279.05,375.11 L279.30,374.38 L279.55,373.73 L279.80,373.16 L280.05,372.64 L280.30,372.19 L280.55,371.79 L280.80,371.43 L281.05,371.11 L281.30,370.83 L281.55,370.58 L281.80,370.36 L282.05,370.16 L282.30,369.99 L282.55,369.83 L282.80,369.69 L283.05,369.57 L283.30,369.46 L283.55,369.36 L283.80,369.28 L284.05,369.20 L284.30,369.13 L284.55,369.07 L284.80,369.02 L285.05,368.97 L285.30,368.93 L285.55,368.89 L285.80,368.86 L286.05,368.83 L286.30,368.81" fill="none" stroke="#231f20" stroke-width="0.9"/>
<path d="M273.90,367.20 L274.50,370.20 L275.50,391.50 L275.50,391.50 L275.75,388.04 L276.00,385.09 L276.25,382.56 L276.50,380.39 L276.75,378.54 L277.00,376.96 L277.25,375.61 L277.50,374.45 L277.75,373.46 L278.00,372.61 L278.25,371.89 L278.50,371.27 L278.75,370.73 L279.00,370.28 L279.25,369.89 L279.50,369.56 L279.75,369.28 L280.00,369.04 L280.25,368.83 L280.50,368.65 L280.75,368.50 L281.00,368.37 L281.25,368.26 L281.50,368.16 L281.75,368.08 L282.00,368.01 L282.25,367.95 L282.50,367.90 L282.75,367.86 L283.00,367.82 L283.25,367.79 L283.50,367.76 L283.75,367.74 L284.00,367.72 L284.25,367.70 L284.50,367.69 L284.75,367.67 L285.00,367.66 L285.25,367.65 L285.50,367.65 L285.75,367.64 L286.00,367.63" fill="none" stroke="#ff1a1a" stroke-width="0.9"/>
<path d="M286.50,367.60 L287.10,370.60 L288.10,399.20 L288.10,399.20 L288.35,395.77 L288.60,392.72 L288.85,390.01 L289.10,387.61 L289.35,385.47 L289.60,383.58 L289.85,381.90 L290.10,380.41 L290.35,379.08 L290.60,377.90 L290.85,376.86 L291.10,375.93 L291.35,375.11 L291.60,374.38 L291.85,373.73 L292.10,373.16 L292.35,372.64 L292.60,372.19 L292.85,371.79 L293.10,371.43 L293.35,371.11 L293.60,370.83 L293.85,370.58 L294.10,370.36 L294.35,370.16 L294.60,369.99 L294.85,369.83 L295.10,369.69 L295.35,369.57 L295.60,369.46 L295.85,369.36 L296.10,369.28 L296.35,369.20 L296.60,369.13 L296.85,369.07 L297.10,369.02 L297.35,368.97 L297.60,368.93 L297.85,368.89 L298.10,368.86 L298.35,368.83 L298.60,368.81" fill="none" stroke="#231f20" stroke-width="0.9"/>
<path d="M286.20,367.20 L286.80,370.20 L287.80,391.50 L287.80,391.50 L288.05,388.04 L288.30,385.09 L288.55,382.56 L288.80,380.39 L289.05,378.54 L289.30,376.96 L289.55,375.61 L289.80,374.45 L290.05,373.46 L290.30,372.61 L290.55,371.89 L290.80,371.27 L291.05,370.73 L291.30,370.28 L291.55,369.89 L291.80,369.56 L292.05,369.28 L292.30,369.04 L292.55,368.83 L292.80,368.65 L293.05,368.50 L293.30,368.37 L293.55,368.26 L293.80,368.16 L294.05,368.08 L294.30,368.01 L294.55,367.95 L294.80,367.90 L295.05,367.86 L295.30,367.82 L295.55,367.79 L295.80,367.76 L296.05,367.74 L296.30,367.72 L296.55,367.70 L296.80,367.69 L297.05,367.67 L297.30,367.66 L297.55,367.65 L297.80,367.65 L298.05,367.64 L298.30,367.63" fill="none" stroke="#ff1a1a" stroke-width="0.9"/>
<path d="M298.80,367.60 L299.40,370.60 L300.40,399.20 L300.40,399.20 L300.65,395.77 L300.90,392.72 L301.15,390.01 L301.40,387.61 L301.65,385.47 L301.90,383.58 L302.15,381.90 L302.40,380.41 L302.65,379.08 L302.90,377.90 L303.15,376.86 L303.40,375.93 L303.65,375.11 L303.90,374.38 L304.15,373.73 L304.40,373.16 L304.65,372.64 L304.90,372.19 L305.15,371.79 L305.40,371.43 L305.65,371.11 L305.90,370.83 L306.15,370.58 L306.40,370.36 L306.65,370.16 L306.90,369.99 L307.15,369.83 L307.40,369.69 L307.65,369.57 L307.90,369.46 L308.15,369.36 L308.40,369.28 L308.65,369.20 L308.90,369.13 L309.15,369.07 L309.40,369.02 L309.65,368.97 L309.90,368.93 L310.15,368.89 L310.40,368.86 L310.65,368.83 L310.90,368.81" fill="none" stroke="#231f20" stroke-width="0.9"/>
<path d="M298.50,367.20 L299.10,370.20 L300.10,391.50 L300.10,391.50 L300.35,388.04 L300.60,385.09 L300.85,382.56 L301.10,380.39 L301.35,378.54 L301.60,376.96 L301.85,375.61 L302.10,374.45 L302.35,373.46 L302.60,372.61 L302.85,371.89 L303.10,371.27 L303.35,370.73 L303.60,370.28 L303.85,369.89 L304.10,369.56 L304.35,369.28 L304.60,369.04 L304.85,368.83 L305.10,368.65 L305.35,368.50 L305.60,368.37 L305.85,368.26 L306.10,368.16 L306.35,368.08 L306.60,368.01 L306.85,367.95 L307.10,367.90 L307.35,367.86 L307.60,367.82 L307.85,367.79 L308.10,367.76 L308.35,367.74 L308.60,367.72 L308.85,367.70 L309.10,367.69 L309.35,367.67 L309.60,367.66 L309.85,367.65 L310.10,367.65 L310.35,367.64 L310.60,367.63" fill="none" stroke="#ff1a1a" stroke-width="0.9"/>
<path d="M311.10,367.60 L311.70,370.60 L312.70,399.20 L312.70,399.20 L312.95,395.77 L313.20,392.72 L313.45,390.01 L313.70,387.61 L313.95,385.47 L314.20,383.58 L314.45,381.90 L314.70,380.41 L314.95,379.08 L315.20,377.90 L315.45,376.86 L315.70,375.93 L315.95,375.11 L316.20,374.38 L316.45,373.73 L316.70,373.16 L316.95,372.64 L317.20,372.19 L317.45,371.79 L317.70,371.43 L317.95,371.11 L318.20,370.83 L318.45,370.58 L318.70,370.36 L318.95,370.16 L319.20,369.99 L319.45,369.83 L319.70,369.69 L319.95,369.57 L320.20,369.46 L320.45,369.36 L320.70,369.28 L320.95,369.20 L321.20,369.13 L321.45,369.07 L321.70,369.02 L321.95,368.97 L322.20,368.93 L322.45,368.89 L322.70,368.86 L322.95,368.83 L323.20,368.81" fill="none" stroke="#231f20" stroke-width="0.9"/>
<path d="M310.80,367.20 L311.40,370.20 L312.40,391.50 L312.40,391.50 L312.65,388.04 L312.90,385.09 L313.15,382.56 L313.40,380.39 L313.65,378.54 L313.90,376.96 L314.15,375.61 L314.40,374.45 L314.65,373.46 L314.90,372.61 L315.15,371.89 L315.40,371.27 L315.65,370.73 L315.90,370.28 L316.15,369.89 L316.40,369.56 L316.65,369.28 L316.90,369.04 L317.15,368.83 L317.40,368.65 L317.65,368.50 L317.90,368.37 L318.15,368.26 L318.40,368.16 L318.65,368.08 L318.90,368.01 L319.15,367.95 L319.40,367.90 L319.65,367.86 L319.90,367.82 L320.15,367.79 L320.40,367.76 L320.65,367.74 L320.90,367.72 L321.15,367.70 L321.40,367.69 L321.65,367.67 L321.90,367.66 L322.15,367.65 L322.40,367.65 L322.65,367.64 L322.90,367.63" fill="none" stroke="#ff1a1a" stroke-width="0.9"/>
<path d="M316.5,404.1 H328.4 V393.3" fill="none" stroke="#231f20" stroke-width="1"/>
<text x="311.6" y="413.5" font-size="8.6" fill="#231f20" text-anchor="start" >4 ms</text>
<text x="0" y="0" font-size="8.6" fill="#231f20" text-anchor="middle" transform="translate(338.4,397.6) rotate(-90)" >2 nA</text>
<text x="0" y="0" font-size="20.5" fill="#231f20" transform="translate(391.8,237.6) scale(1.12,1)">c</text>
<text x="409.0" y="222.9" font-size="9.6" fill="#f7941d" text-anchor="start" >593.5 nm</text>
<line x1="407.4" y1="227.5" x2="501" y2="227.5" stroke="#f7941d" stroke-width="2.0" />
<path d="M417.2,230.3 L420.6,230.3 L418.9,233.4 Z" fill="#29abe2"/>
<text x="434.0" y="236.3" font-size="9.6" fill="#29abe2" text-anchor="start" >473 nm</text>
<text x="395.5" y="257.6" font-size="10.6" fill="#231f20" text-anchor="start" >LiEp</text>
<path d="M406.7,322.8 L407.1,325.6 L407.5,323.3 L407.9,323.1 L408.3,325.8 L408.7,324.8 L409.1,326.0 L409.5,326.1 L409.9,324.7 L410.3,322.9 L410.7,322.0 L411.1,324.5 L411.5,325.4 L411.9,323.2 L412.3,322.2 L412.7,321.9 L413.1,322.7 L413.5,325.2 L413.9,321.9 L414.3,323.0 L414.7,323.2 L415.1,325.3 L415.5,326.6 L415.9,322.0 L416.3,322.4 L416.7,326.4 L417.1,326.6 L417.5,322.6 L417.9,323.5 L418.3,324.4 L418.7,323.4 L419.1,323.9 L419.5,324.2 L419.9,315.2 L420.3,306.2 L420.7,298.4 L421.1,290.8 L421.5,282.5 L421.9,277.1 L422.3,269.4 L422.7,259.4 L423.1,254.0 L423.5,245.7 L423.9,238.1 L424.3,239.7 L424.7,239.1 L425.1,243.6 L425.5,242.7 L425.9,241.1 L426.3,242.4 L426.7,245.8 L427.1,245.2 L427.5,247.6 L427.9,246.1 L428.3,249.6 L428.7,250.5 L429.1,247.9 L429.5,251.0 L429.9,249.9 L430.3,253.1 L430.7,254.3 L431.1,255.0 L431.5,253.1 L431.9,253.2 L432.3,256.6 L432.7,256.9 L433.1,255.5 L433.5,256.5 L433.9,259.2 L434.3,257.6 L434.7,260.9 L435.1,259.7 L435.5,260.5 L435.9,262.0 L436.3,263.2 L436.7,264.8 L437.1,262.2 L437.5,266.2 L437.9,264.4 L438.3,265.4 L438.7,267.7 L439.1,268.6 L439.5,268.9 L439.9,270.9 L440.3,268.2 L440.7,269.3 L441.1,271.6 L441.5,270.3 L441.9,270.4 L442.3,271.3 L442.7,274.5 L443.1,275.3 L443.5,275.4 L443.9,277.1 L444.3,276.9 L444.7,275.3 L445.1,276.1 L445.5,278.8 L445.9,276.3 L446.3,279.7 L446.7,278.0 L447.1,278.5 L447.5,281.4 L447.9,280.3 L448.3,284.8 L448.7,285.2 L449.1,283.8 L449.5,283.2 L449.9,283.4 L450.3,285.9 L450.7,286.6 L451.1,286.4 L451.5,288.7 L451.9,288.4 L452.3,290.2 L452.7,287.5 L453.1,287.9 L453.5,290.0 L453.9,291.0 L454.3,290.4 L454.7,292.9 L455.1,291.3 L455.5,292.2 L455.9,293.6 L456.3,295.3 L456.7,296.2 L457.1,294.9 L457.5,295.8 L457.9,298.7 L458.3,299.3 L458.7,298.3 L459.1,296.3 L459.5,298.5 L459.9,299.9 L460.3,298.7 L460.7,298.0 L461.1,303.0 L461.5,303.2 L461.9,299.9 L462.3,301.9 L462.7,303.1 L463.1,302.0 L463.5,301.3 L463.9,305.0 L464.3,305.5 L464.7,304.3 L465.1,303.0 L465.5,304.9 L465.9,303.8 L466.3,308.3 L466.7,304.3 L467.1,305.8 L467.5,308.5 L467.9,305.8 L468.3,306.0 L468.7,306.2 L469.1,306.9 L469.5,309.0 L469.9,310.8 L470.3,307.9 L470.7,308.2 L471.1,311.4 L471.5,310.0 L471.9,309.9 L472.3,309.2 L472.7,310.0 L473.1,313.8 L473.5,309.9 L473.9,310.9 L474.3,313.4 L474.7,314.4 L475.1,314.7 L475.5,312.9 L475.9,315.4 L476.3,314.0 L476.7,312.7 L477.1,313.7 L477.5,315.2 L477.9,315.4 L478.3,312.8 L478.7,313.3 L479.1,317.1 L479.5,313.2 L479.9,316.8 L480.3,314.7 L480.7,314.5 L481.1,314.7 L481.5,315.9 L481.9,318.6 L482.3,314.7 L482.7,318.2 L483.1,315.8 L483.5,315.3 L483.9,318.2 L484.3,316.4 L484.7,315.8 L485.1,317.1 L485.5,319.2 L485.9,319.5 L486.3,318.2 L486.7,315.7 L487.1,319.4 L487.5,318.8 L487.9,320.3 L488.3,320.7 L488.7,317.8 L489.1,320.4 L489.5,320.4 L489.9,317.9 L490.3,318.5 L490.7,318.6 L491.1,318.6 L491.5,318.8 L491.9,317.7 L492.3,318.3 L492.7,321.7 L493.1,319.4 L493.5,320.6 L493.9,321.9 L494.3,321.3 L494.7,319.0 L495.1,322.3 L495.5,321.8 L495.9,322.8 L496.3,321.6 L496.7,321.8 L497.1,322.2 L497.5,319.6 L497.9,321.6 L498.3,320.3 L498.7,322.6 L499.1,319.3 L499.5,321.3" fill="none" stroke="#111" stroke-width="1.0"/>
<path d="M406.7,323.7 L407.1,325.5 L407.5,323.7 L407.9,325.5 L408.3,325.6 L408.7,325.7 L409.1,323.0 L409.5,325.9 L409.9,325.2 L410.3,324.9 L410.7,324.8 L411.1,322.7 L411.5,325.6 L411.9,324.5 L412.3,324.1 L412.7,323.7 L413.1,325.3 L413.5,325.3 L413.9,325.6 L414.3,323.3 L414.7,323.7 L415.1,323.4 L415.5,322.9 L415.9,323.7 L416.3,322.6 L416.7,325.4 L417.1,323.3 L417.5,322.8 L417.9,322.7 L418.3,325.2 L418.7,323.2 L419.1,324.2 L419.5,323.9 L419.9,318.0 L420.3,311.1 L420.7,301.3 L421.1,295.1 L421.5,288.6 L421.9,279.7 L422.3,273.8 L422.7,265.8 L423.1,256.8 L423.5,251.4 L423.9,245.0 L424.3,244.2 L424.7,246.8 L425.1,248.5 L425.5,248.2 L425.9,249.0 L426.3,249.5 L426.7,252.0 L427.1,252.1 L427.5,251.2 L427.9,252.6 L428.3,253.4 L428.7,256.3 L429.1,256.1 L429.5,254.8 L429.9,258.4 L430.3,256.0 L430.7,258.7 L431.1,258.9 L431.5,260.6 L431.9,260.3 L432.3,259.8 L432.7,262.1 L433.1,263.8 L433.5,264.5 L433.9,263.6 L434.3,263.8 L434.7,266.4 L435.1,267.3 L435.5,265.9 L435.9,269.0 L436.3,270.0 L436.7,268.7 L437.1,269.2 L437.5,271.0 L437.9,272.4 L438.3,270.4 L438.7,271.4 L439.1,272.1 L439.5,274.2 L439.9,272.8 L440.3,274.7 L440.7,275.1 L441.1,276.3 L441.5,275.0 L441.9,278.5 L442.3,279.2 L442.7,278.2 L443.1,279.6 L443.5,278.0 L443.9,281.4 L444.3,280.8 L444.7,282.3 L445.1,283.4 L445.5,282.3 L445.9,285.0 L446.3,283.1 L446.7,283.1 L447.1,285.5 L447.5,287.6 L447.9,288.2 L448.3,289.0 L448.7,288.1 L449.1,290.2 L449.5,289.4 L449.9,288.5 L450.3,290.8 L450.7,292.0 L451.1,291.2 L451.5,292.4 L451.9,291.7 L452.3,292.3 L452.7,293.3 L453.1,294.2 L453.5,294.5 L453.9,293.7 L454.3,293.9 L454.7,295.7 L455.1,297.7 L455.5,298.4 L455.9,297.1 L456.3,297.7 L456.7,299.2 L457.1,298.5 L457.5,300.5 L457.9,302.1 L458.3,300.1 L458.7,301.9 L459.1,302.9 L459.5,303.4 L459.9,303.8 L460.3,304.2 L460.7,303.1 L461.1,305.5 L461.5,306.2 L461.9,303.5 L462.3,307.1 L462.7,305.7 L463.1,304.8 L463.5,305.1 L463.9,308.1 L464.3,308.0 L464.7,306.5 L465.1,308.0 L465.5,308.9 L465.9,310.6 L466.3,308.5 L466.7,310.4 L467.1,308.9 L467.5,309.0 L467.9,309.2 L468.3,310.4 L468.7,311.4 L469.1,310.6 L469.5,310.3 L469.9,310.8 L470.3,310.6 L470.7,311.2 L471.1,311.9 L471.5,312.9 L471.9,312.0 L472.3,313.3 L472.7,313.4 L473.1,315.5 L473.5,314.0 L473.9,315.9 L474.3,314.4 L474.7,313.6 L475.1,315.2 L475.5,313.8 L475.9,314.1 L476.3,314.0 L476.7,316.4 L477.1,317.6 L477.5,315.7 L477.9,315.7 L478.3,316.1 L478.7,316.1 L479.1,317.4 L479.5,316.5 L479.9,315.8 L480.3,318.6 L480.7,317.7 L481.1,315.8 L481.5,318.9 L481.9,318.7 L482.3,317.5 L482.7,318.6 L483.1,319.8 L483.5,318.0 L483.9,318.3 L484.3,317.9 L484.7,319.0 L485.1,319.5 L485.5,319.8 L485.9,320.7 L486.3,318.0 L486.7,318.9 L487.1,320.7 L487.5,320.6 L487.9,320.0 L488.3,320.4 L488.7,319.3 L489.1,321.6 L489.5,320.2 L489.9,319.8 L490.3,319.1 L490.7,319.0 L491.1,321.9 L491.5,321.6 L491.9,318.9 L492.3,320.0 L492.7,320.7 L493.1,320.8 L493.5,320.4 L493.9,322.4 L494.3,320.5 L494.7,321.3 L495.1,322.8 L495.5,321.8 L495.9,321.3 L496.3,320.8 L496.7,321.1 L497.1,321.9 L497.5,322.6 L497.9,320.8 L498.3,321.2 L498.7,321.3 L499.1,321.3 L499.5,323.3" fill="none" stroke="#fbc5c5" stroke-width="0.9"/>
<path d="M406.7,324.4 L407.1,323.5 L407.5,323.7 L407.9,325.5 L408.3,323.1 L408.7,325.0 L409.1,322.6 L409.5,323.2 L409.9,322.7 L410.3,325.4 L410.7,323.0 L411.1,323.3 L411.5,322.7 L411.9,323.4 L412.3,325.1 L412.7,325.1 L413.1,325.8 L413.5,325.9 L413.9,324.5 L414.3,325.8 L414.7,322.8 L415.1,325.8 L415.5,324.1 L415.9,323.2 L416.3,325.2 L416.7,325.6 L417.1,323.9 L417.5,322.8 L417.9,325.6 L418.3,325.2 L418.7,324.6 L419.1,326.0 L419.5,322.6 L419.9,315.7 L420.3,309.0 L420.7,301.7 L421.1,297.2 L421.5,290.0 L421.9,281.2 L422.3,274.4 L422.7,267.5 L423.1,262.1 L423.5,255.3 L423.9,251.4 L424.3,250.1 L424.7,253.2 L425.1,252.0 L425.5,252.7 L425.9,253.0 L426.3,253.8 L426.7,257.3 L427.1,258.1 L427.5,257.9 L427.9,256.7 L428.3,257.5 L428.7,258.2 L429.1,259.6 L429.5,261.8 L429.9,260.1 L430.3,262.5 L430.7,263.7 L431.1,262.1 L431.5,264.3 L431.9,266.2 L432.3,266.2 L432.7,266.4 L433.1,268.7 L433.5,268.4 L433.9,268.1 L434.3,269.0 L434.7,271.7 L435.1,272.0 L435.5,272.9 L435.9,272.3 L436.3,271.4 L436.7,272.2 L437.1,273.6 L437.5,275.3 L437.9,273.4 L438.3,276.9 L438.7,277.4 L439.1,277.1 L439.5,275.8 L439.9,279.2 L440.3,278.4 L440.7,279.9 L441.1,280.1 L441.5,281.2 L441.9,280.6 L442.3,283.1 L442.7,283.8 L443.1,284.4 L443.5,284.0 L443.9,283.7 L444.3,284.6 L444.7,284.9 L445.1,287.8 L445.5,288.1 L445.9,288.7 L446.3,289.5 L446.7,290.7 L447.1,290.3 L447.5,289.5 L447.9,291.7 L448.3,290.5 L448.7,292.3 L449.1,291.3 L449.5,294.4 L449.9,293.6 L450.3,293.3 L450.7,296.2 L451.1,293.7 L451.5,297.2 L451.9,297.1 L452.3,295.4 L452.7,298.1 L453.1,298.0 L453.5,299.8 L453.9,299.2 L454.3,299.2 L454.7,301.6 L455.1,299.1 L455.5,302.1 L455.9,300.1 L456.3,301.3 L456.7,301.2 L457.1,304.4 L457.5,303.3 L457.9,304.7 L458.3,303.5 L458.7,305.6 L459.1,305.8 L459.5,304.2 L459.9,306.0 L460.3,307.2 L460.7,305.8 L461.1,307.8 L461.5,306.8 L461.9,307.5 L462.3,309.8 L462.7,310.3 L463.1,310.8 L463.5,309.1 L463.9,309.9 L464.3,311.1 L464.7,311.3 L465.1,310.5 L465.5,312.3 L465.9,310.9 L466.3,313.2 L466.7,311.7 L467.1,310.8 L467.5,313.3 L467.9,311.4 L468.3,313.6 L468.7,311.6 L469.1,315.2 L469.5,313.8 L469.9,314.8 L470.3,312.8 L470.7,314.9 L471.1,314.2 L471.5,313.9 L471.9,316.2 L472.3,313.6 L472.7,315.4 L473.1,314.2 L473.5,317.1 L473.9,317.5 L474.3,314.6 L474.7,316.3 L475.1,316.5 L475.5,317.6 L475.9,317.8 L476.3,316.5 L476.7,318.8 L477.1,316.3 L477.5,316.3 L477.9,318.9 L478.3,316.5 L478.7,316.9 L479.1,318.2 L479.5,317.7 L479.9,317.3 L480.3,320.1 L480.7,318.6 L481.1,319.9 L481.5,318.1 L481.9,320.6 L482.3,318.2 L482.7,320.8 L483.1,319.9 L483.5,321.3 L483.9,320.6 L484.3,320.2 L484.7,320.0 L485.1,321.3 L485.5,319.9 L485.9,318.7 L486.3,321.8 L486.7,321.5 L487.1,321.1 L487.5,321.4 L487.9,319.7 L488.3,320.6 L488.7,322.0 L489.1,322.6 L489.5,322.5 L489.9,319.8 L490.3,321.8 L490.7,321.4 L491.1,320.9 L491.5,320.1 L491.9,320.1 L492.3,321.4 L492.7,321.5 L493.1,320.8 L493.5,321.2 L493.9,321.9 L494.3,322.7 L494.7,322.1 L495.1,320.7 L495.5,323.3 L495.9,321.5 L496.3,323.7 L496.7,323.8 L497.1,320.8 L497.5,322.5 L497.9,323.9 L498.3,321.9 L498.7,322.5 L499.1,321.7 L499.5,320.7" fill="none" stroke="#f79a9a" stroke-width="0.9"/>
<path d="M406.7,323.2 L407.1,322.9 L407.5,323.5 L407.9,324.8 L408.3,324.5 L408.7,325.9 L409.1,325.0 L409.5,323.8 L409.9,325.9 L410.3,324.8 L410.7,324.5 L411.1,325.6 L411.5,324.9 L411.9,323.8 L412.3,324.7 L412.7,323.6 L413.1,326.0 L413.5,323.4 L413.9,326.0 L414.3,322.7 L414.7,322.5 L415.1,324.5 L415.5,323.2 L415.9,324.3 L416.3,322.9 L416.7,325.5 L417.1,324.9 L417.5,325.0 L417.9,325.8 L418.3,326.1 L418.7,324.9 L419.1,325.1 L419.5,322.5 L419.9,317.0 L420.3,312.6 L420.7,308.9 L421.1,300.8 L421.5,296.0 L421.9,288.3 L422.3,284.1 L422.7,280.1 L423.1,273.3 L423.5,268.4 L423.9,261.4 L424.3,262.9 L424.7,263.5 L425.1,266.6 L425.5,264.7 L425.9,268.3 L426.3,266.6 L426.7,269.5 L427.1,268.9 L427.5,268.9 L427.9,271.9 L428.3,270.5 L428.7,272.2 L429.1,270.6 L429.5,273.9 L429.9,275.1 L430.3,272.6 L430.7,275.5 L431.1,274.4 L431.5,274.5 L431.9,275.9 L432.3,277.6 L432.7,279.2 L433.1,280.0 L433.5,280.6 L433.9,279.8 L434.3,280.5 L434.7,279.3 L435.1,281.9 L435.5,281.8 L435.9,281.7 L436.3,284.2 L436.7,282.4 L437.1,282.5 L437.5,283.1 L437.9,283.6 L438.3,285.7 L438.7,287.0 L439.1,285.1 L439.5,286.9 L439.9,287.6 L440.3,288.0 L440.7,288.0 L441.1,288.9 L441.5,287.5 L441.9,288.2 L442.3,290.1 L442.7,290.1 L443.1,292.6 L443.5,291.3 L443.9,294.0 L444.3,292.5 L444.7,292.5 L445.1,294.4 L445.5,294.7 L445.9,295.0 L446.3,297.1 L446.7,295.6 L447.1,297.8 L447.5,298.8 L447.9,298.0 L448.3,298.6 L448.7,300.6 L449.1,299.9 L449.5,298.8 L449.9,298.9 L450.3,299.4 L450.7,300.7 L451.1,300.2 L451.5,302.7 L451.9,302.4 L452.3,302.5 L452.7,303.7 L453.1,305.7 L453.5,303.6 L453.9,303.8 L454.3,304.7 L454.7,305.2 L455.1,307.8 L455.5,307.4 L455.9,306.8 L456.3,306.3 L456.7,306.2 L457.1,306.9 L457.5,309.9 L457.9,309.5 L458.3,308.1 L458.7,310.1 L459.1,308.4 L459.5,310.3 L459.9,310.0 L460.3,309.5 L460.7,312.1 L461.1,312.3 L461.5,311.9 L461.9,310.9 L462.3,313.0 L462.7,312.5 L463.1,313.6 L463.5,311.8 L463.9,315.0 L464.3,312.0 L464.7,313.0 L465.1,313.9 L465.5,313.4 L465.9,313.2 L466.3,315.6 L466.7,316.9 L467.1,314.8 L467.5,314.7 L467.9,316.4 L468.3,315.0 L468.7,315.8 L469.1,317.1 L469.5,316.3 L469.9,315.5 L470.3,315.4 L470.7,317.3 L471.1,319.0 L471.5,319.0 L471.9,316.2 L472.3,317.8 L472.7,317.9 L473.1,317.0 L473.5,318.8 L473.9,318.4 L474.3,319.6 L474.7,317.9 L475.1,320.3 L475.5,320.0 L475.9,318.9 L476.3,317.9 L476.7,319.2 L477.1,318.1 L477.5,320.2 L477.9,320.4 L478.3,320.0 L478.7,321.6 L479.1,318.3 L479.5,320.8 L479.9,321.3 L480.3,318.9 L480.7,319.7 L481.1,318.9 L481.5,320.9 L481.9,321.4 L482.3,320.2 L482.7,321.5 L483.1,320.4 L483.5,321.8 L483.9,320.3 L484.3,322.9 L484.7,321.0 L485.1,319.5 L485.5,319.9 L485.9,322.3 L486.3,322.8 L486.7,322.1 L487.1,320.4 L487.5,323.1 L487.9,322.6 L488.3,320.5 L488.7,321.5 L489.1,322.6 L489.5,320.2 L489.9,320.4 L490.3,321.6 L490.7,323.5 L491.1,324.0 L491.5,321.6 L491.9,323.8 L492.3,323.4 L492.7,323.7 L493.1,322.8 L493.5,324.2 L493.9,323.0 L494.3,324.2 L494.7,322.8 L495.1,321.5 L495.5,322.7 L495.9,322.7 L496.3,322.2 L496.7,322.3 L497.1,322.9 L497.5,323.2 L497.9,321.9 L498.3,322.1 L498.7,323.0 L499.1,323.0 L499.5,322.7" fill="none" stroke="#f46a6a" stroke-width="0.9"/>
<path d="M406.7,324.9 L407.1,323.1 L407.5,324.4 L407.9,323.4 L408.3,325.3 L408.7,325.1 L409.1,325.4 L409.5,324.4 L409.9,323.3 L410.3,325.9 L410.7,324.3 L411.1,323.8 L411.5,323.5 L411.9,323.9 L412.3,325.1 L412.7,325.5 L413.1,324.2 L413.5,325.2 L413.9,323.2 L414.3,324.1 L414.7,323.8 L415.1,323.6 L415.5,323.8 L415.9,325.3 L416.3,325.2 L416.7,323.2 L417.1,323.3 L417.5,325.4 L417.9,324.9 L418.3,325.0 L418.7,324.8 L419.1,325.0 L419.5,323.4 L419.9,318.8 L420.3,316.2 L420.7,311.1 L421.1,310.9 L421.5,305.4 L421.9,302.2 L422.3,299.5 L422.7,295.1 L423.1,289.1 L423.5,285.7 L423.9,282.1 L424.3,285.3 L424.7,285.6 L425.1,285.2 L425.5,285.2 L425.9,285.4 L426.3,286.7 L426.7,288.0 L427.1,289.2 L427.5,289.5 L427.9,290.1 L428.3,288.9 L428.7,289.3 L429.1,289.3 L429.5,292.3 L429.9,289.7 L430.3,290.1 L430.7,291.0 L431.1,293.8 L431.5,294.0 L431.9,292.5 L432.3,294.9 L432.7,295.5 L433.1,294.1 L433.5,293.7 L433.9,296.3 L434.3,295.2 L434.7,294.6 L435.1,298.0 L435.5,296.6 L435.9,296.8 L436.3,298.0 L436.7,297.1 L437.1,296.5 L437.5,298.3 L437.9,298.6 L438.3,297.6 L438.7,299.3 L439.1,301.1 L439.5,299.8 L439.9,301.5 L440.3,301.6 L440.7,300.4 L441.1,300.2 L441.5,303.2 L441.9,303.4 L442.3,302.6 L442.7,302.6 L443.1,305.5 L443.5,306.1 L443.9,304.0 L444.3,305.7 L444.7,306.0 L445.1,305.4 L445.5,304.7 L445.9,306.2 L446.3,307.7 L446.7,307.9 L447.1,307.9 L447.5,306.7 L447.9,307.4 L448.3,308.1 L448.7,308.8 L449.1,308.9 L449.5,311.3 L449.9,308.7 L450.3,312.3 L450.7,309.8 L451.1,312.5 L451.5,310.5 L451.9,312.1 L452.3,311.6 L452.7,310.6 L453.1,313.8 L453.5,314.2 L453.9,312.4 L454.3,314.6 L454.7,313.7 L455.1,315.9 L455.5,312.6 L455.9,314.1 L456.3,313.8 L456.7,315.5 L457.1,316.3 L457.5,316.8 L457.9,315.9 L458.3,315.5 L458.7,317.3 L459.1,314.8 L459.5,315.6 L459.9,317.7 L460.3,316.7 L460.7,319.0 L461.1,315.7 L461.5,317.3 L461.9,316.6 L462.3,315.9 L462.7,316.4 L463.1,316.6 L463.5,317.8 L463.9,318.2 L464.3,318.6 L464.7,318.0 L465.1,319.7 L465.5,319.1 L465.9,321.0 L466.3,318.0 L466.7,319.5 L467.1,319.5 L467.5,319.2 L467.9,321.2 L468.3,318.8 L468.7,321.5 L469.1,319.6 L469.5,319.6 L469.9,320.8 L470.3,320.7 L470.7,319.7 L471.1,319.1 L471.5,322.5 L471.9,320.3 L472.3,319.5 L472.7,321.6 L473.1,321.2 L473.5,320.5 L473.9,320.6 L474.3,322.7 L474.7,320.8 L475.1,321.2 L475.5,323.3 L475.9,321.1 L476.3,321.3 L476.7,320.5 L477.1,322.5 L477.5,322.5 L477.9,321.8 L478.3,321.7 L478.7,321.1 L479.1,323.3 L479.5,322.0 L479.9,323.5 L480.3,321.8 L480.7,323.3 L481.1,320.6 L481.5,321.4 L481.9,324.3 L482.3,323.3 L482.7,323.3 L483.1,322.6 L483.5,322.6 L483.9,321.6 L484.3,321.5 L484.7,323.4 L485.1,323.6 L485.5,322.0 L485.9,323.5 L486.3,321.6 L486.7,323.4 L487.1,321.8 L487.5,323.1 L487.9,322.4 L488.3,323.3 L488.7,321.8 L489.1,323.1 L489.5,323.6 L489.9,321.8 L490.3,322.5 L490.7,324.0 L491.1,323.5 L491.5,323.8 L491.9,324.4 L492.3,323.7 L492.7,322.3 L493.1,323.2 L493.5,324.7 L493.9,323.7 L494.3,324.4 L494.7,323.0 L495.1,323.3 L495.5,325.3 L495.9,324.8 L496.3,324.2 L496.7,322.1 L497.1,324.0 L497.5,321.9 L497.9,325.3 L498.3,325.5 L498.7,324.5 L499.1,322.8 L499.5,325.0" fill="none" stroke="#ee1c1c" stroke-width="0.9"/>
<path d="M470.3,279.6 H487.5 V248.4" fill="none" stroke="#231f20" stroke-width="1"/>
<text x="466.8" y="290.8" font-size="9.6" fill="#231f20" text-anchor="start" >30 ms</text>
<text x="0" y="0" font-size="9.6" fill="#231f20" text-anchor="middle" transform="translate(497.8,263.5) rotate(-90)" >5% ΔF/F</text>
<text x="518.6" y="253.8" font-size="9.6" fill="#231f20" text-anchor="start" >lidoc.</text>
<line x1="505.2" y1="261.09999999999997" x2="515.6" y2="261.09999999999997" stroke="#f23a3a" stroke-width="1.1" />
<text x="518.6" y="264.2" font-size="9.6" fill="#231f20" text-anchor="start" >10 mM</text>
<line x1="505.2" y1="270.9" x2="515.6" y2="270.9" stroke="#f46060" stroke-width="1.1" />
<text x="518.6" y="274.0" font-size="9.6" fill="#231f20" text-anchor="start" >1 mM</text>
<line x1="505.2" y1="280.65" x2="515.6" y2="280.65" stroke="#f78585" stroke-width="1.1" />
<text x="518.6" y="283.75" font-size="9.6" fill="#231f20" text-anchor="start" >100 µM</text>
<line x1="505.2" y1="290.5" x2="515.6" y2="290.5" stroke="#fbc0c0" stroke-width="1.1" />
<text x="518.6" y="293.6" font-size="9.6" fill="#231f20" text-anchor="start" >10 µM</text>
<line x1="505.2" y1="300.2" x2="515.6" y2="300.2" stroke="#414042" stroke-width="1.1" />
<text x="518.6" y="303.3" font-size="9.6" fill="#231f20" text-anchor="start" >bath (0)</text>
<path d="M408.2,351 H421.8 V336.6" fill="none" stroke="#414042" stroke-width="0.9"/>
<text x="398.4" y="366.3" font-size="10.8" fill="#231f20" text-anchor="start" >VC</text>
<path d="M425.90,336.60 L426.00,344.20 L426.10,350.21 L426.20,355.40 L426.30,360.17 L426.40,364.73 L426.50,369.17 L426.60,373.50 L426.70,377.73 L426.80,381.84 L426.90,385.80 L427.00,389.59 L427.10,393.20 L427.20,396.61 L427.30,399.81 L427.40,402.80 L427.50,405.58 L427.60,408.14 L427.70,410.51 L427.80,412.67 L427.90,414.65 L428.00,416.44 L428.10,418.06 L428.20,419.51 L428.30,420.81 L428.40,421.97 L428.50,422.98 L428.60,423.88 L428.70,424.65 L428.80,425.32 L428.90,425.88 L429.00,426.35 L429.10,426.74 L429.20,427.05 L429.30,427.28 L429.40,427.45 L429.50,427.55 L429.60,427.60 L429.70,427.60 L429.80,427.55 L429.90,427.46 L430.30,426.73 L430.70,425.59 L431.10,424.16 L431.50,422.55 L431.90,420.84 L432.30,419.07 L432.70,417.27 L433.10,415.48 L433.50,413.71 L433.90,411.97 L434.30,410.26 L434.70,408.58 L435.10,406.96 L435.50,405.37 L435.90,403.83 L436.30,402.33 L436.70,400.88 L437.10,399.47 L437.50,398.10 L437.90,396.77 L438.30,395.48 L438.70,394.23 L439.10,393.02 L439.50,391.84 L439.90,390.70 L440.30,389.60 L440.70,388.52 L441.10,387.48 L441.50,386.48 L441.90,385.50 L442.30,384.55 L442.70,383.63 L443.10,382.74 L443.50,381.87 L443.90,381.03 L444.30,380.22 L444.70,379.43 L445.10,378.67 L445.50,377.93 L445.90,377.21 L446.30,376.51 L446.70,375.84 L447.10,375.18 L447.50,374.54 L447.90,373.93 L448.30,373.33 L448.70,372.75 L449.10,372.19 L449.50,371.64 L449.90,371.11 L450.30,370.60 L450.70,370.10 L451.10,369.62 L451.50,369.16 L451.90,368.70 L452.30,368.26 L452.70,367.84 L453.10,367.42 L453.50,367.02 L453.90,366.63 L454.30,366.26 L454.70,365.89 L455.10,365.54 L455.50,365.19 L455.90,364.86 L456.30,364.54 L456.70,364.23 L457.10,363.92 L457.50,363.63 L457.90,363.34 L458.30,363.06 L458.70,362.80 L459.10,362.54 L459.50,362.28 L459.90,362.04 L460.30,361.80 L460.70,361.57 L461.10,361.35 L461.50,361.13 L461.90,360.92 L462.30,360.72 L462.70,360.52 L463.10,360.33 L463.50,360.14 L463.90,359.96 L464.30,359.79 L464.70,359.62 L465.10,359.45 L465.50,359.29 L465.90,359.14 L466.30,358.99 L466.70,358.85 L467.10,358.70 L467.50,358.57 L467.90,358.44 L468.30,358.31 L468.70,358.18 L469.10,358.06 L469.50,357.95 L469.90,357.83 L470.30,357.72 L470.70,357.61 L471.10,357.51 L471.50,357.41 L471.90,357.31 L472.30,357.22 L472.70,357.13 L473.10,357.04 L473.50,356.95 L473.90,356.87 L474.30,356.79 L474.70,356.71 L475.10,356.63 L475.50,356.56 L475.90,356.49 L476.30,356.42 L476.70,356.35 L477.10,356.29 L477.50,356.22 L477.90,356.16 L478.30,356.10 L478.70,356.05 L479.10,355.99 L479.50,355.94 L479.90,355.88 L480.30,355.83 L480.70,355.78 L481.10,355.73 L481.50,355.69 L481.90,355.64 L482.30,355.60 L482.70,355.56 L483.10,355.52 L483.50,355.48 L483.90,355.44 L484.30,355.40 L484.70,355.36 L485.10,355.33 L485.50,355.29 L485.90,355.26 L486.30,355.23 L486.70,355.20 L487.10,355.17 L487.50,355.14" fill="none" stroke="#231f20" stroke-width="0.85" stroke-linejoin="round"/>
<path d="M425.90,336.60 L426.00,343.84 L426.10,349.53 L426.20,354.42 L426.30,358.89 L426.40,363.16 L426.50,367.29 L426.60,371.33 L426.70,375.26 L426.80,379.07 L426.90,382.74 L427.00,386.26 L427.10,389.59 L427.20,392.74 L427.30,395.70 L427.40,398.46 L427.50,401.02 L427.60,403.39 L427.70,405.56 L427.80,407.55 L427.90,409.36 L428.00,411.00 L428.10,412.48 L428.20,413.81 L428.30,414.99 L428.40,416.04 L428.50,416.96 L428.60,417.77 L428.70,418.46 L428.80,419.06 L428.90,419.56 L429.00,419.98 L429.10,420.31 L429.20,420.57 L429.30,420.77 L429.40,420.90 L429.50,420.98 L429.60,421.00 L429.70,420.98 L429.80,420.91 L429.90,420.81 L430.30,420.06 L430.70,418.92 L431.10,417.53 L431.50,415.98 L431.90,414.34 L432.30,412.65 L432.70,410.94 L433.10,409.24 L433.50,407.55 L433.90,405.90 L434.30,404.28 L434.70,402.71 L435.10,401.17 L435.50,399.68 L435.90,398.23 L436.30,396.83 L436.70,395.46 L437.10,394.14 L437.50,392.86 L437.90,391.62 L438.30,390.41 L438.70,389.25 L439.10,388.12 L439.50,387.03 L439.90,385.97 L440.30,384.94 L440.70,383.95 L441.10,382.99 L441.50,382.06 L441.90,381.15 L442.30,380.28 L442.70,379.43 L443.10,378.61 L443.50,377.82 L443.90,377.05 L444.30,376.31 L444.70,375.58 L445.10,374.89 L445.50,374.21 L445.90,373.55 L446.30,372.92 L446.70,372.30 L447.10,371.71 L447.50,371.13 L447.90,370.57 L448.30,370.03 L448.70,369.51 L449.10,369.00 L449.50,368.51 L449.90,368.03 L450.30,367.57 L450.70,367.13 L451.10,366.69 L451.50,366.28 L451.90,365.87 L452.30,365.48 L452.70,365.10 L453.10,364.73 L453.50,364.37 L453.90,364.03 L454.30,363.69 L454.70,363.37 L455.10,363.05 L455.50,362.75 L455.90,362.46 L456.30,362.17 L456.70,361.89 L457.10,361.63 L457.50,361.37 L457.90,361.12 L458.30,360.87 L458.70,360.64 L459.10,360.41 L459.50,360.19 L459.90,359.98 L460.30,359.77 L460.70,359.57 L461.10,359.37 L461.50,359.19 L461.90,359.00 L462.30,358.83 L462.70,358.66 L463.10,358.49 L463.50,358.33 L463.90,358.17 L464.30,358.02 L464.70,357.88 L465.10,357.74 L465.50,357.60 L465.90,357.47 L466.30,357.34 L466.70,357.22 L467.10,357.10 L467.50,356.98 L467.90,356.87 L468.30,356.76 L468.70,356.65 L469.10,356.55 L469.50,356.45 L469.90,356.35 L470.30,356.26 L470.70,356.17 L471.10,356.08 L471.50,356.00 L471.90,355.92 L472.30,355.84 L472.70,355.76 L473.10,355.69 L473.50,355.62 L473.90,355.55 L474.30,355.48 L474.70,355.41 L475.10,355.35 L475.50,355.29 L475.90,355.23 L476.30,355.17 L476.70,355.11 L477.10,355.06 L477.50,355.01 L477.90,354.96 L478.30,354.91 L478.70,354.86 L479.10,354.82 L479.50,354.77 L479.90,354.73 L480.30,354.69 L480.70,354.65 L481.10,354.61 L481.50,354.57 L481.90,354.53 L482.30,354.50 L482.70,354.46 L483.10,354.43 L483.50,354.40 L483.90,354.36 L484.30,354.33 L484.70,354.30 L485.10,354.28 L485.50,354.25 L485.90,354.22 L486.30,354.20 L486.70,354.17 L487.10,354.15 L487.50,354.12" fill="none" stroke="#f9b4b4" stroke-width="0.8" stroke-linejoin="round"/>
<path d="M425.90,336.60 L426.00,343.15 L426.10,347.97 L426.20,351.84 L426.30,355.19 L426.40,358.27 L426.50,361.18 L426.60,364.00 L426.70,366.72 L426.80,369.37 L426.90,371.93 L427.00,374.38 L427.10,376.73 L427.20,378.95 L427.30,381.05 L427.40,383.03 L427.50,384.87 L427.60,386.59 L427.70,388.18 L427.80,389.64 L427.90,390.97 L428.00,392.20 L428.10,393.30 L428.20,394.30 L428.30,395.20 L428.40,396.00 L428.50,396.71 L428.60,397.34 L428.70,397.89 L428.80,398.36 L428.90,398.76 L429.00,399.09 L429.10,399.37 L429.20,399.59 L429.30,399.76 L429.40,399.88 L429.50,399.96 L429.60,400.00 L429.70,400.00 L429.80,399.97 L429.90,399.90 L430.30,399.38 L430.70,398.55 L431.10,397.50 L431.50,396.32 L431.90,395.05 L432.30,393.74 L432.70,392.41 L433.10,391.08 L433.50,389.77 L433.90,388.49 L434.30,387.23 L434.70,386.01 L435.10,384.82 L435.50,383.67 L435.90,382.56 L436.30,381.48 L436.70,380.44 L437.10,379.43 L437.50,378.46 L437.90,377.53 L438.30,376.62 L438.70,375.75 L439.10,374.91 L439.50,374.10 L439.90,373.32 L440.30,372.57 L440.70,371.84 L441.10,371.14 L441.50,370.46 L441.90,369.81 L442.30,369.18 L442.70,368.57 L443.10,367.99 L443.50,367.43 L443.90,366.88 L444.30,366.36 L444.70,365.85 L445.10,365.36 L445.50,364.89 L445.90,364.44 L446.30,364.00 L446.70,363.58 L447.10,363.18 L447.50,362.78 L447.90,362.41 L448.30,362.04 L448.70,361.69 L449.10,361.35 L449.50,361.02 L449.90,360.71 L450.30,360.41 L450.70,360.11 L451.10,359.83 L451.50,359.56 L451.90,359.29 L452.30,359.04 L452.70,358.80 L453.10,358.56 L453.50,358.33 L453.90,358.12 L454.30,357.90 L454.70,357.70 L455.10,357.50 L455.50,357.31 L455.90,357.13 L456.30,356.96 L456.70,356.79 L457.10,356.62 L457.50,356.46 L457.90,356.31 L458.30,356.17 L458.70,356.02 L459.10,355.89 L459.50,355.76 L459.90,355.63 L460.30,355.51 L460.70,355.39 L461.10,355.27 L461.50,355.16 L461.90,355.06 L462.30,354.96 L462.70,354.86 L463.10,354.76 L463.50,354.67 L463.90,354.58 L464.30,354.50 L464.70,354.42 L465.10,354.34 L465.50,354.26 L465.90,354.19 L466.30,354.12 L466.70,354.05 L467.10,353.98 L467.50,353.92 L467.90,353.86 L468.30,353.80 L468.70,353.74 L469.10,353.69 L469.50,353.63 L469.90,353.58 L470.30,353.53 L470.70,353.48 L471.10,353.44 L471.50,353.39 L471.90,353.35 L472.30,353.31 L472.70,353.27 L473.10,353.23 L473.50,353.20 L473.90,353.16 L474.30,353.13 L474.70,353.09 L475.10,353.06 L475.50,353.03 L475.90,353.00 L476.30,352.97 L476.70,352.94 L477.10,352.92 L477.50,352.89 L477.90,352.87 L478.30,352.84 L478.70,352.82 L479.10,352.80 L479.50,352.78 L479.90,352.76 L480.30,352.74 L480.70,352.72 L481.10,352.70 L481.50,352.68 L481.90,352.66 L482.30,352.65 L482.70,352.63 L483.10,352.62 L483.50,352.60 L483.90,352.59 L484.30,352.57 L484.70,352.56 L485.10,352.55 L485.50,352.53 L485.90,352.52 L486.30,352.51 L486.70,352.50 L487.10,352.49 L487.50,352.48" fill="none" stroke="#f47c7c" stroke-width="0.8" stroke-linejoin="round"/>
<path d="M425.90,336.60 L426.00,342.15 L426.10,345.59 L426.20,347.78 L426.30,349.22 L426.40,350.22 L426.50,350.97 L426.60,351.56 L426.70,352.07 L426.80,352.53 L426.90,352.96 L427.00,353.38 L427.10,353.79 L427.20,354.20 L427.30,354.60 L427.40,354.99 L427.50,355.38 L427.60,355.77 L427.70,356.14 L427.80,356.50 L427.90,356.86 L428.00,357.20 L428.10,357.53 L428.20,357.85 L428.30,358.15 L428.40,358.44 L428.50,358.72 L428.60,358.98 L428.70,359.23 L428.80,359.46 L428.90,359.68 L429.00,359.89 L429.10,360.08 L429.20,360.26 L429.30,360.43 L429.40,360.58 L429.50,360.72 L429.60,360.84 L429.70,360.96 L429.80,361.06 L429.90,361.15 L430.30,361.40 L430.70,361.50 L431.10,361.47 L431.50,361.33 L431.90,361.10 L432.30,360.80 L432.70,360.46 L433.10,360.07 L433.50,359.66 L433.90,359.24 L434.30,358.80 L434.70,358.37 L435.10,357.94 L435.50,357.51 L435.90,357.10 L436.30,356.71 L436.70,356.32 L437.10,355.96 L437.50,355.61 L437.90,355.28 L438.30,354.97 L438.70,354.67 L439.10,354.39 L439.50,354.13 L439.90,353.89 L440.30,353.66 L440.70,353.44 L441.10,353.24 L441.50,353.05 L441.90,352.88 L442.30,352.71 L442.70,352.56 L443.10,352.42 L443.50,352.29 L443.90,352.17 L444.30,352.05 L444.70,351.95 L445.10,351.85 L445.50,351.76 L445.90,351.67 L446.30,351.59 L446.70,351.52 L447.10,351.45 L447.50,351.39 L447.90,351.33 L448.30,351.28 L448.70,351.23 L449.10,351.18 L449.50,351.14 L449.90,351.10 L450.30,351.06 L450.70,351.03 L451.10,351.00 L451.50,350.97 L451.90,350.94 L452.30,350.92 L452.70,350.89 L453.10,350.87 L453.50,350.85 L453.90,350.83 L454.30,350.81 L454.70,350.80 L455.10,350.78 L455.50,350.77 L455.90,350.76 L456.30,350.75 L456.70,350.74 L457.10,350.73 L457.50,350.72 L457.90,350.71 L458.30,350.70 L458.70,350.69 L459.10,350.69 L459.50,350.68 L459.90,350.67 L460.30,350.67 L460.70,350.66 L461.10,350.66 L461.50,350.65 L461.90,350.65 L462.30,350.65 L462.70,350.64 L463.10,350.64 L463.50,350.64 L463.90,350.63 L464.30,350.63 L464.70,350.63 L465.10,350.63 L465.50,350.62 L465.90,350.62 L466.30,350.62 L466.70,350.62 L467.10,350.62 L467.50,350.62 L467.90,350.62 L468.30,350.61 L468.70,350.61 L469.10,350.61 L469.50,350.61 L469.90,350.61 L470.30,350.61 L470.70,350.61 L471.10,350.61 L471.50,350.61 L471.90,350.61 L472.30,350.61 L472.70,350.61 L473.10,350.61 L473.50,350.61 L473.90,350.60 L474.30,350.60 L474.70,350.60 L475.10,350.60 L475.50,350.60 L475.90,350.60 L476.30,350.60 L476.70,350.60 L477.10,350.60 L477.50,350.60 L477.90,350.60 L478.30,350.60 L478.70,350.60 L479.10,350.60 L479.50,350.60 L479.90,350.60 L480.30,350.60 L480.70,350.60 L481.10,350.60 L481.50,350.60 L481.90,350.60 L482.30,350.60 L482.70,350.60 L483.10,350.60 L483.50,350.60 L483.90,350.60 L484.30,350.60 L484.70,350.60 L485.10,350.60 L485.50,350.60 L485.90,350.60 L486.30,350.60 L486.70,350.60 L487.10,350.60 L487.50,350.60" fill="none" stroke="#f24a4a" stroke-width="0.8" stroke-linejoin="round"/>
<path d="M425.90,336.60 L426.00,341.52 L426.10,344.16 L426.20,345.47 L426.30,346.00 L426.40,346.12 L426.50,346.02 L426.60,345.83 L426.70,345.61 L426.80,345.41 L426.90,345.25 L427.00,345.12 L427.10,345.04 L427.20,345.00 L427.30,344.99 L427.40,345.01 L427.50,345.06 L427.60,345.13 L427.70,345.22 L427.80,345.33 L427.90,345.44 L428.00,345.56 L428.10,345.68 L428.20,345.81 L428.30,345.94 L428.40,346.08 L428.50,346.21 L428.60,346.33 L428.70,346.46 L428.80,346.59 L428.90,346.71 L429.00,346.83 L429.10,346.94 L429.20,347.05 L429.30,347.16 L429.40,347.26 L429.50,347.36 L429.60,347.46 L429.70,347.55 L429.80,347.64 L429.90,347.73 L430.30,348.03 L430.70,348.29 L431.10,348.51 L431.50,348.69 L431.90,348.84 L432.30,348.97 L432.70,349.07 L433.10,349.16 L433.50,349.23 L433.90,349.29 L434.30,349.34 L434.70,349.39 L435.10,349.42 L435.50,349.45 L435.90,349.48 L436.30,349.50 L436.70,349.51 L437.10,349.53 L437.50,349.54 L437.90,349.55 L438.30,349.56 L438.70,349.57 L439.10,349.57 L439.50,349.58 L439.90,349.58 L440.30,349.58 L440.70,349.59 L441.10,349.59 L441.50,349.59 L441.90,349.59 L442.30,349.59 L442.70,349.59 L443.10,349.60 L443.50,349.60 L443.90,349.60 L444.30,349.60 L444.70,349.60 L445.10,349.60 L445.50,349.60 L445.90,349.60 L446.30,349.60 L446.70,349.60 L447.10,349.60 L447.50,349.60 L447.90,349.60 L448.30,349.60 L448.70,349.60 L449.10,349.60 L449.50,349.60 L449.90,349.60 L450.30,349.60 L450.70,349.60 L451.10,349.60 L451.50,349.60 L451.90,349.60 L452.30,349.60 L452.70,349.60 L453.10,349.60 L453.50,349.60 L453.90,349.60 L454.30,349.60 L454.70,349.60 L455.10,349.60 L455.50,349.60 L455.90,349.60 L456.30,349.60 L456.70,349.60 L457.10,349.60 L457.50,349.60 L457.90,349.60 L458.30,349.60 L458.70,349.60 L459.10,349.60 L459.50,349.60 L459.90,349.60 L460.30,349.60 L460.70,349.60 L461.10,349.60 L461.50,349.60 L461.90,349.60 L462.30,349.60 L462.70,349.60 L463.10,349.60 L463.50,349.60 L463.90,349.60 L464.30,349.60 L464.70,349.60 L465.10,349.60 L465.50,349.60 L465.90,349.60 L466.30,349.60 L466.70,349.60 L467.10,349.60 L467.50,349.60 L467.90,349.60 L468.30,349.60 L468.70,349.60 L469.10,349.60 L469.50,349.60 L469.90,349.60 L470.30,349.60 L470.70,349.60 L471.10,349.60 L471.50,349.60 L471.90,349.60 L472.30,349.60 L472.70,349.60 L473.10,349.60 L473.50,349.60 L473.90,349.60 L474.30,349.60 L474.70,349.60 L475.10,349.60 L475.50,349.60 L475.90,349.60 L476.30,349.60 L476.70,349.60 L477.10,349.60 L477.50,349.60 L477.90,349.60 L478.30,349.60 L478.70,349.60 L479.10,349.60 L479.50,349.60 L479.90,349.60 L480.30,349.60 L480.70,349.60 L481.10,349.60 L481.50,349.60 L481.90,349.60 L482.30,349.60 L482.70,349.60 L483.10,349.60 L483.50,349.60 L483.90,349.60 L484.30,349.60 L484.70,349.60 L485.10,349.60 L485.50,349.60 L485.90,349.60 L486.30,349.60 L486.70,349.60 L487.10,349.60 L487.50,349.60" fill="none" stroke="#ee1c24" stroke-width="0.8" stroke-linejoin="round"/>
<path d="M448.2,416.8 H468.7 V401" fill="none" stroke="#231f20" stroke-width="1"/>
<text x="448.0" y="426.8" font-size="9.6" fill="#231f20" text-anchor="start" >2 ms</text>
<text x="0" y="0" font-size="9.6" fill="#231f20" text-anchor="middle" transform="translate(477.0,408.6) rotate(-90)" >2 nA</text>
<line x1="610.4" y1="236.7" x2="707.9" y2="236.7" stroke="#8ab4e3" stroke-width="1.4" />
<path d="M651.00,233.10 V240.10 M649.30,233.10 h3.4 M649.30,240.10 h3.4" stroke="#3b78c3" stroke-width="0.7" fill="none"/>
<rect x="649.30" y="234.90" width="3.4" height="3.4" fill="#fff" stroke="#3b78c3" stroke-width="0.8"/>
<path d="M663.67,233.60 V239.60 M661.97,233.60 h3.4 M661.97,239.60 h3.4" stroke="#3b78c3" stroke-width="0.7" fill="none"/>
<rect x="661.97" y="234.90" width="3.4" height="3.4" fill="#fff" stroke="#3b78c3" stroke-width="0.8"/>
<path d="M677.40,233.10 V240.10 M675.70,233.10 h3.4 M675.70,240.10 h3.4" stroke="#3b78c3" stroke-width="0.7" fill="none"/>
<rect x="675.70" y="234.90" width="3.4" height="3.4" fill="#fff" stroke="#3b78c3" stroke-width="0.8"/>
<path d="M690.07,231.11 V239.11 M688.37,231.11 h3.4 M688.37,239.11 h3.4" stroke="#3b78c3" stroke-width="0.7" fill="none"/>
<rect x="688.37" y="233.41" width="3.4" height="3.4" fill="#fff" stroke="#3b78c3" stroke-width="0.8"/>
<line x1="588.6" y1="221.8" x2="588.6" y2="325.4" stroke="#231f20" stroke-width="0.9" />
<line x1="585.0" y1="236.6" x2="588.6" y2="236.6" stroke="#231f20" stroke-width="0.9" />
<text x="585.4" y="240.0" font-size="9.6" fill="#333333" text-anchor="end" >1.0</text>
<line x1="585.0" y1="273.75" x2="588.6" y2="273.75" stroke="#231f20" stroke-width="0.9" />
<text x="585.4" y="277.15" font-size="9.6" fill="#333333" text-anchor="end" >0.5</text>
<line x1="585.0" y1="310.9" x2="588.6" y2="310.9" stroke="#231f20" stroke-width="0.9" />
<text x="585.4" y="314.29999999999995" font-size="9.6" fill="#333333" text-anchor="end" >0.0</text>
<line x1="588.6" y1="310.9" x2="603.6" y2="310.9" stroke="#231f20" stroke-width="0.8" />
<line x1="595.7" y1="310.9" x2="595.7" y2="313.9" stroke="#231f20" stroke-width="0.8" />
<line x1="603.6" y1="308.5" x2="603.6" y2="313.29999999999995" stroke="#231f20" stroke-width="0.8" />
<line x1="610.4" y1="310.9" x2="743.6" y2="310.9" stroke="#231f20" stroke-width="0.8" />
<line x1="610.4" y1="308.5" x2="610.4" y2="313.29999999999995" stroke="#231f20" stroke-width="0.8" />
<text x="595.7" y="322.7" font-size="9.6" fill="#231f20" text-anchor="middle" >0</text>
<line x1="624.6" y1="310.9" x2="624.6" y2="313.5" stroke="#231f20" stroke-width="0.8" />
<text x="624.6" y="321.9" font-size="8.2" fill="#231f20" text-anchor="middle" >-6</text>
<line x1="651.0" y1="310.9" x2="651.0" y2="313.5" stroke="#231f20" stroke-width="0.8" />
<text x="651.0" y="321.9" font-size="8.2" fill="#231f20" text-anchor="middle" >-5</text>
<line x1="677.4" y1="310.9" x2="677.4" y2="313.5" stroke="#231f20" stroke-width="0.8" />
<text x="677.4" y="321.9" font-size="8.2" fill="#231f20" text-anchor="middle" >-4</text>
<line x1="703.8" y1="310.9" x2="703.8" y2="313.5" stroke="#231f20" stroke-width="0.8" />
<text x="703.8" y="321.9" font-size="8.2" fill="#231f20" text-anchor="middle" >-3</text>
<line x1="730.2" y1="310.9" x2="730.2" y2="313.5" stroke="#231f20" stroke-width="0.8" />
<text x="730.2" y="321.9" font-size="8.2" fill="#231f20" text-anchor="middle" >-2</text>
<text x="664.9" y="334.7" font-size="8.5" fill="#231f20" text-anchor="middle" >log compound [M]</text>
<path d="M610.60,236.95 L611.10,236.96 L611.60,236.98 L612.10,236.99 L612.60,237.01 L613.10,237.03 L613.60,237.05 L614.10,237.07 L614.60,237.09 L615.10,237.11 L615.60,237.13 L616.10,237.16 L616.60,237.18 L617.10,237.21 L617.60,237.23 L618.10,237.26 L618.60,237.29 L619.10,237.32 L619.60,237.35 L620.10,237.39 L620.60,237.42 L621.10,237.46 L621.60,237.50 L622.10,237.53 L622.60,237.58 L623.10,237.62 L623.60,237.66 L624.10,237.71 L624.60,237.76 L625.10,237.81 L625.60,237.86 L626.10,237.92 L626.60,237.98 L627.10,238.04 L627.60,238.10 L628.10,238.16 L628.60,238.23 L629.10,238.30 L629.60,238.38 L630.10,238.45 L630.60,238.54 L631.10,238.62 L631.60,238.71 L632.10,238.80 L632.60,238.89 L633.10,238.99 L633.60,239.09 L634.10,239.20 L634.60,239.31 L635.10,239.43 L635.60,239.55 L636.10,239.68 L636.60,239.81 L637.10,239.95 L637.60,240.09 L638.10,240.24 L638.60,240.39 L639.10,240.55 L639.60,240.72 L640.10,240.89 L640.60,241.07 L641.10,241.25 L641.60,241.45 L642.10,241.65 L642.60,241.86 L643.10,242.08 L643.60,242.30 L644.10,242.54 L644.60,242.78 L645.10,243.03 L645.60,243.29 L646.10,243.56 L646.60,243.84 L647.10,244.13 L647.60,244.43 L648.10,244.74 L648.60,245.06 L649.10,245.40 L649.60,245.74 L650.10,246.10 L650.60,246.46 L651.10,246.84 L651.60,247.23 L652.10,247.64 L652.60,248.05 L653.10,248.48 L653.60,248.92 L654.10,249.38 L654.60,249.85 L655.10,250.33 L655.60,250.82 L656.10,251.33 L656.60,251.85 L657.10,252.39 L657.60,252.94 L658.10,253.50 L658.60,254.08 L659.10,254.66 L659.60,255.27 L660.10,255.88 L660.60,256.51 L661.10,257.15 L661.60,257.81 L662.10,258.48 L662.60,259.16 L663.10,259.85 L663.60,260.55 L664.10,261.26 L664.60,261.99 L665.10,262.72 L665.60,263.46 L666.10,264.22 L666.60,264.98 L667.10,265.74 L667.60,266.52 L668.10,267.30 L668.60,268.09 L669.10,268.89 L669.60,269.68 L670.10,270.49 L670.60,271.29 L671.10,272.10 L671.60,272.91 L672.10,273.72 L672.60,274.53 L673.10,275.34 L673.60,276.14 L674.10,276.95 L674.60,277.75 L675.10,278.55 L675.60,279.35 L676.10,280.13 L676.60,280.92 L677.10,281.69 L677.60,282.46 L678.10,283.22 L678.60,283.98 L679.10,284.72 L679.60,285.46 L680.10,286.18 L680.60,286.89 L681.10,287.60 L681.60,288.29 L682.10,288.97 L682.60,289.64 L683.10,290.29 L683.60,290.94 L684.10,291.57 L684.60,292.18 L685.10,292.79 L685.60,293.38 L686.10,293.96 L686.60,294.52 L687.10,295.07 L687.60,295.61 L688.10,296.13 L688.60,296.64 L689.10,297.13 L689.60,297.62 L690.10,298.09 L690.60,298.54 L691.10,298.98 L691.60,299.41 L692.10,299.83 L692.60,300.24 L693.10,300.63 L693.60,301.01 L694.10,301.38 L694.60,301.73 L695.10,302.08 L695.60,302.41 L696.10,302.73 L696.60,303.04 L697.10,303.35 L697.60,303.64 L698.10,303.92 L698.60,304.19 L699.10,304.45 L699.60,304.70 L700.10,304.95 L700.60,305.18 L701.10,305.41 L701.60,305.62 L702.10,305.83 L702.60,306.04 L703.10,306.23 L703.60,306.42 L704.10,306.60 L704.60,306.77 L705.10,306.94 L705.60,307.10 L706.10,307.25 L706.60,307.40 L707.10,307.54 L707.60,307.68 L708.10,307.81 L708.60,307.94 L709.10,308.06 L709.60,308.18 L710.10,308.29 L710.60,308.40 L711.10,308.50 L711.60,308.60 L712.10,308.69 L712.60,308.79 L713.10,308.87 L713.60,308.96 L714.10,309.04 L714.60,309.12 L715.10,309.19 L715.60,309.26 L716.10,309.33 L716.60,309.40 L717.10,309.46 L717.60,309.52 L718.10,309.58 L718.60,309.63 L719.10,309.69 L719.60,309.74 L720.10,309.79 L720.60,309.83 L721.10,309.88 L721.60,309.92 L722.10,309.96 L722.60,310.00 L723.10,310.04 L723.60,310.08 L724.10,310.11 L724.60,310.14 L725.10,310.18 L725.60,310.21 L726.10,310.24 L726.60,310.26 L727.10,310.29 L727.60,310.32 L728.10,310.34 L728.60,310.36 L729.10,310.39 L729.60,310.41 L730.10,310.43 L730.60,310.45 L731.10,310.47 L731.60,310.49 L732.10,310.50 L732.60,310.52 L733.10,310.54 L733.60,310.55 L734.10,310.57 L734.60,310.58 L735.10,310.60 L735.60,310.61 L736.10,310.62 L736.60,310.63 L737.10,310.64 L737.60,310.65 L738.10,310.67 L738.60,310.68 L739.10,310.68 L739.60,310.69 L740.10,310.70 L740.60,310.71 L741.10,310.72 L741.60,310.73 L742.10,310.73 L742.60,310.74 L743.10,310.75 L743.60,310.75" fill="none" stroke="#231f20" stroke-width="0.8"/>
<path d="M610.60,236.60 L611.10,236.60 L611.60,236.60 L612.10,236.60 L612.60,236.60 L613.10,236.60 L613.60,236.60 L614.10,236.60 L614.60,236.60 L615.10,236.60 L615.60,236.60 L616.10,236.60 L616.60,236.60 L617.10,236.60 L617.60,236.60 L618.10,236.60 L618.60,236.60 L619.10,236.60 L619.60,236.60 L620.10,236.60 L620.60,236.60 L621.10,236.60 L621.60,236.60 L622.10,236.60 L622.60,236.60 L623.10,236.60 L623.60,236.60 L624.10,236.60 L624.60,236.60 L625.10,236.60 L625.60,236.60 L626.10,236.60 L626.60,236.60 L627.10,236.60 L627.60,236.61 L628.10,236.61 L628.60,236.61 L629.10,236.61 L629.60,236.61 L630.10,236.61 L630.60,236.61 L631.10,236.61 L631.60,236.61 L632.10,236.61 L632.60,236.61 L633.10,236.62 L633.60,236.62 L634.10,236.62 L634.60,236.62 L635.10,236.62 L635.60,236.62 L636.10,236.63 L636.60,236.63 L637.10,236.63 L637.60,236.64 L638.10,236.64 L638.60,236.64 L639.10,236.65 L639.60,236.65 L640.10,236.66 L640.60,236.66 L641.10,236.67 L641.60,236.68 L642.10,236.68 L642.60,236.69 L643.10,236.70 L643.60,236.71 L644.10,236.72 L644.60,236.74 L645.10,236.75 L645.60,236.77 L646.10,236.78 L646.60,236.80 L647.10,236.82 L647.60,236.84 L648.10,236.87 L648.60,236.89 L649.10,236.92 L649.60,236.96 L650.10,236.99 L650.60,237.03 L651.10,237.07 L651.60,237.12 L652.10,237.17 L652.60,237.23 L653.10,237.29 L653.60,237.36 L654.10,237.44 L654.60,237.52 L655.10,237.62 L655.60,237.72 L656.10,237.83 L656.60,237.95 L657.10,238.08 L657.60,238.23 L658.10,238.39 L658.60,238.56 L659.10,238.75 L659.60,238.96 L660.10,239.19 L660.60,239.44 L661.10,239.72 L661.60,240.02 L662.10,240.35 L662.60,240.70 L663.10,241.09 L663.60,241.51 L664.10,241.97 L664.60,242.47 L665.10,243.01 L665.60,243.59 L666.10,244.23 L666.60,244.91 L667.10,245.64 L667.60,246.43 L668.10,247.28 L668.60,248.19 L669.10,249.16 L669.60,250.19 L670.10,251.29 L670.60,252.45 L671.10,253.68 L671.60,254.98 L672.10,256.34 L672.60,257.76 L673.10,259.24 L673.60,260.78 L674.10,262.37 L674.60,264.00 L675.10,265.68 L675.60,267.40 L676.10,269.14 L676.60,270.90 L677.10,272.68 L677.60,274.46 L678.10,276.24 L678.60,278.01 L679.10,279.76 L679.60,281.48 L680.10,283.16 L680.60,284.81 L681.10,286.41 L681.60,287.96 L682.10,289.45 L682.60,290.89 L683.10,292.26 L683.60,293.56 L684.10,294.81 L684.60,295.98 L685.10,297.09 L685.60,298.14 L686.10,299.12 L686.60,300.04 L687.10,300.90 L687.60,301.70 L688.10,302.45 L688.60,303.14 L689.10,303.78 L689.60,304.38 L690.10,304.93 L690.60,305.43 L691.10,305.90 L691.60,306.33 L692.10,306.72 L692.60,307.09 L693.10,307.42 L693.60,307.72 L694.10,308.00 L694.60,308.26 L695.10,308.49 L695.60,308.71 L696.10,308.90 L696.60,309.08 L697.10,309.24 L697.60,309.39 L698.10,309.53 L698.60,309.65 L699.10,309.76 L699.60,309.87 L700.10,309.96 L700.60,310.04 L701.10,310.12 L701.60,310.19 L702.10,310.26 L702.60,310.31 L703.10,310.37 L703.60,310.42 L704.10,310.46 L704.60,310.50 L705.10,310.54 L705.60,310.57 L706.10,310.60 L706.60,310.63 L707.10,310.65 L707.60,310.67 L708.10,310.70 L708.60,310.71 L709.10,310.73 L709.60,310.75 L710.10,310.76 L710.60,310.77 L711.10,310.78 L711.60,310.80 L712.10,310.80 L712.60,310.81 L713.10,310.82 L713.60,310.83 L714.10,310.84 L714.60,310.84 L715.10,310.85 L715.60,310.85 L716.10,310.86 L716.60,310.86 L717.10,310.86 L717.60,310.87 L718.10,310.87 L718.60,310.87 L719.10,310.88 L719.60,310.88 L720.10,310.88 L720.60,310.88 L721.10,310.88 L721.60,310.88 L722.10,310.89 L722.60,310.89 L723.10,310.89 L723.60,310.89 L724.10,310.89 L724.60,310.89 L725.10,310.89 L725.60,310.89 L726.10,310.89 L726.60,310.89 L727.10,310.89 L727.60,310.90 L728.10,310.90 L728.60,310.90 L729.10,310.90 L729.60,310.90 L730.10,310.90 L730.60,310.90 L731.10,310.90 L731.60,310.90 L732.10,310.90 L732.60,310.90 L733.10,310.90 L733.60,310.90 L734.10,310.90 L734.60,310.90 L735.10,310.90 L735.60,310.90 L736.10,310.90 L736.60,310.90 L737.10,310.90 L737.60,310.90 L738.10,310.90 L738.60,310.90 L739.10,310.90 L739.60,310.90 L740.10,310.90 L740.60,310.90 L741.10,310.90 L741.60,310.90 L742.10,310.90 L742.60,310.90 L743.10,310.90 L743.60,310.90" fill="none" stroke="#231f20" stroke-width="0.8"/>
<path d="M610.60,236.60 L611.10,236.60 L611.60,236.60 L612.10,236.61 L612.60,236.61 L613.10,236.61 L613.60,236.61 L614.10,236.61 L614.60,236.61 L615.10,236.61 L615.60,236.61 L616.10,236.61 L616.60,236.61 L617.10,236.61 L617.60,236.61 L618.10,236.61 L618.60,236.61 L619.10,236.61 L619.60,236.61 L620.10,236.61 L620.60,236.61 L621.10,236.61 L621.60,236.61 L622.10,236.61 L622.60,236.62 L623.10,236.62 L623.60,236.62 L624.10,236.62 L624.60,236.62 L625.10,236.62 L625.60,236.62 L626.10,236.62 L626.60,236.62 L627.10,236.62 L627.60,236.63 L628.10,236.63 L628.60,236.63 L629.10,236.63 L629.60,236.63 L630.10,236.63 L630.60,236.63 L631.10,236.64 L631.60,236.64 L632.10,236.64 L632.60,236.64 L633.10,236.65 L633.60,236.65 L634.10,236.65 L634.60,236.65 L635.10,236.66 L635.60,236.66 L636.10,236.66 L636.60,236.67 L637.10,236.67 L637.60,236.67 L638.10,236.68 L638.60,236.68 L639.10,236.69 L639.60,236.69 L640.10,236.69 L640.60,236.70 L641.10,236.70 L641.60,236.71 L642.10,236.72 L642.60,236.72 L643.10,236.73 L643.60,236.74 L644.10,236.74 L644.60,236.75 L645.10,236.76 L645.60,236.77 L646.10,236.78 L646.60,236.79 L647.10,236.80 L647.60,236.81 L648.10,236.82 L648.60,236.83 L649.10,236.84 L649.60,236.85 L650.10,236.87 L650.60,236.88 L651.10,236.90 L651.60,236.91 L652.10,236.93 L652.60,236.95 L653.10,236.97 L653.60,236.99 L654.10,237.01 L654.60,237.03 L655.10,237.05 L655.60,237.08 L656.10,237.10 L656.60,237.13 L657.10,237.16 L657.60,237.19 L658.10,237.22 L658.60,237.25 L659.10,237.28 L659.60,237.32 L660.10,237.36 L660.60,237.40 L661.10,237.44 L661.60,237.49 L662.10,237.53 L662.60,237.58 L663.10,237.63 L663.60,237.69 L664.10,237.75 L664.60,237.81 L665.10,237.87 L665.60,237.94 L666.10,238.01 L666.60,238.08 L667.10,238.16 L667.60,238.24 L668.10,238.33 L668.60,238.42 L669.10,238.52 L669.60,238.62 L670.10,238.72 L670.60,238.83 L671.10,238.95 L671.60,239.07 L672.10,239.20 L672.60,239.33 L673.10,239.47 L673.60,239.62 L674.10,239.78 L674.60,239.94 L675.10,240.11 L675.60,240.29 L676.10,240.48 L676.60,240.68 L677.10,240.88 L677.60,241.10 L678.10,241.32 L678.60,241.56 L679.10,241.81 L679.60,242.07 L680.10,242.34 L680.60,242.62 L681.10,242.92 L681.60,243.23 L682.10,243.55 L682.60,243.89 L683.10,244.24 L683.60,244.60 L684.10,244.99 L684.60,245.38 L685.10,245.80 L685.60,246.23 L686.10,246.67 L686.60,247.14 L687.10,247.62 L687.60,248.12 L688.10,248.64 L688.60,249.18 L689.10,249.73 L689.60,250.31 L690.10,250.90 L690.60,251.52 L691.10,252.15 L691.60,252.80 L692.10,253.48 L692.60,254.17 L693.10,254.88 L693.60,255.61 L694.10,256.36 L694.60,257.13 L695.10,257.92 L695.60,258.72 L696.10,259.54 L696.60,260.38 L697.10,261.23 L697.60,262.10 L698.10,262.99 L698.60,263.88 L699.10,264.79 L699.60,265.71 L700.10,266.65 L700.60,267.59 L701.10,268.54 L701.60,269.49 L702.10,270.45 L702.60,271.42 L703.10,272.39 L703.60,273.36 L704.10,274.33 L704.60,275.30 L705.10,276.27 L705.60,277.24 L706.10,278.20 L706.60,279.15 L707.10,280.10 L707.60,281.04 L708.10,281.97 L708.60,282.89 L709.10,283.80 L709.60,284.69 L710.10,285.57 L710.60,286.44 L711.10,287.29 L711.60,288.12 L712.10,288.94 L712.60,289.74 L713.10,290.53 L713.60,291.29 L714.10,292.04 L714.60,292.76 L715.10,293.47 L715.60,294.16 L716.10,294.83 L716.60,295.48 L717.10,296.11 L717.60,296.72 L718.10,297.31 L718.60,297.88 L719.10,298.43 L719.60,298.97 L720.10,299.48 L720.60,299.98 L721.10,300.46 L721.60,300.92 L722.10,301.36 L722.60,301.79 L723.10,302.20 L723.60,302.59 L724.10,302.97 L724.60,303.33 L725.10,303.68 L725.60,304.02 L726.10,304.34 L726.60,304.64 L727.10,304.94 L727.60,305.22 L728.10,305.49 L728.60,305.74 L729.10,305.99 L729.60,306.22 L730.10,306.45 L730.60,306.66 L731.10,306.87 L731.60,307.06 L732.10,307.25 L732.60,307.42 L733.10,307.59 L733.60,307.75 L734.10,307.91 L734.60,308.06 L735.10,308.20 L735.60,308.33 L736.10,308.46 L736.60,308.58 L737.10,308.69 L737.60,308.80 L738.10,308.90 L738.60,309.00 L739.10,309.10 L739.60,309.19 L740.10,309.27 L740.60,309.35 L741.10,309.43 L741.60,309.50 L742.10,309.57 L742.60,309.64 L743.10,309.70 L743.60,309.76" fill="none" stroke="#231f20" stroke-width="0.8"/>
<rect x="593.90" y="234.80" width="3.6" height="3.6" fill="#231f20"/>
<path d="M615.89,229.03 V233.03 M614.19,229.03 h3.4 M614.19,233.03 h3.4" stroke="#231f20" stroke-width="0.7" fill="none"/>
<path d="M615.89,228.83 L617.89,232.53 L613.89,232.53 Z" fill="#231f20"/>
<path d="M643.08,233.29 V253.29 M641.38,233.29 h3.4 M641.38,253.29 h3.4" stroke="#231f20" stroke-width="0.7" fill="none"/>
<path d="M643.08,241.09 L645.08,244.79 L641.08,244.79 Z" fill="#231f20"/>
<path d="M651.00,232.60 V240.60 M649.30,232.60 h3.4 M649.30,240.60 h3.4" stroke="#231f20" stroke-width="0.7" fill="none"/>
<rect x="649.20" y="234.80" width="3.6" height="3.6" fill="#231f20"/>
<path d="M651.00,237.06 V245.06 M649.30,237.06 h3.4 M649.30,245.06 h3.4" stroke="#231f20" stroke-width="0.7" fill="none"/>
<circle cx="651.00" cy="241.06" r="1.9" fill="#231f20"/>
<path d="M663.67,236.06 V246.06 M661.97,236.06 h3.4 M661.97,246.06 h3.4" stroke="#231f20" stroke-width="0.7" fill="none"/>
<circle cx="663.67" cy="241.06" r="1.9" fill="#231f20"/>
<rect x="661.87" y="236.66" width="3.6" height="3.6" fill="#231f20"/>
<path d="M669.48,257.69 V275.69 M667.78,257.69 h3.4 M667.78,275.69 h3.4" stroke="#231f20" stroke-width="0.7" fill="none"/>
<path d="M669.48,264.49 L671.48,268.19 L667.48,268.19 Z" fill="#231f20"/>
<path d="M677.40,238.79 V247.79 M675.70,238.79 h3.4 M675.70,247.79 h3.4" stroke="#231f20" stroke-width="0.7" fill="none"/>
<circle cx="677.40" cy="243.29" r="1.9" fill="#231f20"/>
<path d="M677.40,263.52 V279.52 M675.70,263.52 h3.4 M675.70,279.52 h3.4" stroke="#231f20" stroke-width="0.7" fill="none"/>
<rect x="675.60" y="269.72" width="3.6" height="3.6" fill="#231f20"/>
<path d="M690.07,294.74 V307.74 M688.37,294.74 h3.4 M688.37,307.74 h3.4" stroke="#231f20" stroke-width="0.7" fill="none"/>
<rect x="688.27" y="299.44" width="3.6" height="3.6" fill="#231f20"/>
<path d="M695.88,295.96 V313.96 M694.18,295.96 h3.4 M694.18,313.96 h3.4" stroke="#231f20" stroke-width="0.7" fill="none"/>
<path d="M695.88,302.76 L697.88,306.46 L693.88,306.46 Z" fill="#231f20"/>
<path d="M703.80,266.26 V278.26 M702.10,266.26 h3.4 M702.10,278.26 h3.4" stroke="#231f20" stroke-width="0.7" fill="none"/>
<circle cx="703.80" cy="272.26" r="1.9" fill="#231f20"/>
<path d="M730.20,306.90 V314.90 M728.50,306.90 h3.4 M728.50,314.90 h3.4" stroke="#231f20" stroke-width="0.7" fill="none"/>
<circle cx="730.20" cy="310.90" r="1.9" fill="#231f20"/>
<line x1="595.7" y1="236.6" x2="603.6" y2="236.6" stroke="#231f20" stroke-width="0.8" />
<text x="594.8" y="261.8" font-size="12.2" fill="#231f20" text-anchor="start" >LiEp</text>
<text x="0" y="0" font-size="8.4" fill="#414042" text-anchor="middle" transform="translate(567.4,274.1) rotate(-90)" >norm. ΔF/F peak</text>
<circle cx="718.2" cy="232.6" r="1.7" fill="#231f20"/>
<text x="723.2" y="235.6" font-size="8.7" fill="#231f20" text-anchor="start" >lidocaine</text>
<path d="M718.2,243.3 L720,246.6 L716.4,246.6 Z" fill="#231f20"/>
<text x="723.2" y="248.2" font-size="8.7" fill="#231f20" text-anchor="start" >flecainide</text>
<rect x="716.6" y="255.7" width="3.2" height="3.2" fill="#231f20"/>
<text x="723.2" y="260.2" font-size="8.7" fill="#231f20" text-anchor="start" >quinidine</text>
<rect x="716.6" y="267.6" width="3.2" height="3.2" fill="#fff" stroke="#3b78c3" stroke-width="0.7"/>
<text x="723.2" y="272.4" font-size="8.7" fill="#3b78c3" text-anchor="start" >control</text>
<text x="723.2" y="281.8" font-size="8.7" fill="#3b78c3" text-anchor="start" >(DMSO)</text>
<line x1="588.6" y1="334.0" x2="588.6" y2="438.0" stroke="#a7a9ac" stroke-width="1.6" />
<line x1="585.0" y1="349.4" x2="588.6" y2="349.4" stroke="#a7a9ac" stroke-width="0.9" />
<text x="585.4" y="352.79999999999995" font-size="9.6" fill="#333333" text-anchor="end" >1.0</text>
<line x1="585.0" y1="386.7" x2="588.6" y2="386.7" stroke="#a7a9ac" stroke-width="0.9" />
<text x="585.4" y="390.09999999999997" font-size="9.6" fill="#333333" text-anchor="end" >0.5</text>
<line x1="585.0" y1="424.0" x2="588.6" y2="424.0" stroke="#a7a9ac" stroke-width="0.9" />
<text x="585.4" y="427.4" font-size="9.6" fill="#333333" text-anchor="end" >0.0</text>
<line x1="588.6" y1="424.0" x2="603.6" y2="424.0" stroke="#231f20" stroke-width="0.8" />
<line x1="595.7" y1="424.0" x2="595.7" y2="427.0" stroke="#231f20" stroke-width="0.8" />
<line x1="603.6" y1="421.6" x2="603.6" y2="426.4" stroke="#231f20" stroke-width="0.8" />
<line x1="610.4" y1="424.0" x2="743.6" y2="424.0" stroke="#231f20" stroke-width="0.8" />
<line x1="610.4" y1="421.6" x2="610.4" y2="426.4" stroke="#231f20" stroke-width="0.8" />
<text x="595.7" y="435.8" font-size="9.6" fill="#231f20" text-anchor="middle" >0</text>
<line x1="624.6" y1="424.0" x2="624.6" y2="426.6" stroke="#231f20" stroke-width="0.8" />
<text x="624.6" y="435.0" font-size="8.2" fill="#231f20" text-anchor="middle" >-6</text>
<line x1="651.0" y1="424.0" x2="651.0" y2="426.6" stroke="#231f20" stroke-width="0.8" />
<text x="651.0" y="435.0" font-size="8.2" fill="#231f20" text-anchor="middle" >-5</text>
<line x1="677.4" y1="424.0" x2="677.4" y2="426.6" stroke="#231f20" stroke-width="0.8" />
<text x="677.4" y="435.0" font-size="8.2" fill="#231f20" text-anchor="middle" >-4</text>
<line x1="703.8" y1="424.0" x2="703.8" y2="426.6" stroke="#231f20" stroke-width="0.8" />
<text x="703.8" y="435.0" font-size="8.2" fill="#231f20" text-anchor="middle" >-3</text>
<line x1="730.2" y1="424.0" x2="730.2" y2="426.6" stroke="#231f20" stroke-width="0.8" />
<text x="730.2" y="435.0" font-size="8.2" fill="#231f20" text-anchor="middle" >-2</text>
<text x="664.9" y="445.6" font-size="8.5" fill="#231f20" text-anchor="middle" >log compound [M]</text>
<path d="M610.60,351.62 L611.10,351.71 L611.60,351.80 L612.10,351.89 L612.60,351.99 L613.10,352.09 L613.60,352.19 L614.10,352.30 L614.60,352.41 L615.10,352.53 L615.60,352.65 L616.10,352.77 L616.60,352.90 L617.10,353.03 L617.60,353.17 L618.10,353.32 L618.60,353.46 L619.10,353.62 L619.60,353.78 L620.10,353.94 L620.60,354.11 L621.10,354.29 L621.60,354.47 L622.10,354.66 L622.60,354.85 L623.10,355.05 L623.60,355.26 L624.10,355.48 L624.60,355.70 L625.10,355.93 L625.60,356.17 L626.10,356.41 L626.60,356.67 L627.10,356.93 L627.60,357.20 L628.10,357.48 L628.60,357.76 L629.10,358.06 L629.60,358.37 L630.10,358.68 L630.60,359.00 L631.10,359.34 L631.60,359.68 L632.10,360.03 L632.60,360.40 L633.10,360.77 L633.60,361.15 L634.10,361.55 L634.60,361.95 L635.10,362.37 L635.60,362.79 L636.10,363.23 L636.60,363.68 L637.10,364.13 L637.60,364.60 L638.10,365.08 L638.60,365.58 L639.10,366.08 L639.60,366.59 L640.10,367.12 L640.60,367.65 L641.10,368.20 L641.60,368.76 L642.10,369.32 L642.60,369.90 L643.10,370.49 L643.60,371.09 L644.10,371.70 L644.60,372.32 L645.10,372.95 L645.60,373.58 L646.10,374.23 L646.60,374.88 L647.10,375.54 L647.60,376.22 L648.10,376.89 L648.60,377.58 L649.10,378.27 L649.60,378.97 L650.10,379.67 L650.60,380.38 L651.10,381.09 L651.60,381.81 L652.10,382.53 L652.60,383.25 L653.10,383.98 L653.60,384.71 L654.10,385.44 L654.60,386.17 L655.10,386.90 L655.60,387.64 L656.10,388.37 L656.60,389.10 L657.10,389.83 L657.60,390.55 L658.10,391.27 L658.60,391.99 L659.10,392.71 L659.60,393.42 L660.10,394.12 L660.60,394.82 L661.10,395.52 L661.60,396.21 L662.10,396.89 L662.60,397.56 L663.10,398.23 L663.60,398.89 L664.10,399.53 L664.60,400.18 L665.10,400.81 L665.60,401.43 L666.10,402.04 L666.60,402.65 L667.10,403.24 L667.60,403.82 L668.10,404.39 L668.60,404.96 L669.10,405.51 L669.60,406.05 L670.10,406.58 L670.60,407.10 L671.10,407.60 L671.60,408.10 L672.10,408.59 L672.60,409.06 L673.10,409.52 L673.60,409.98 L674.10,410.42 L674.60,410.85 L675.10,411.27 L675.60,411.68 L676.10,412.08 L676.60,412.46 L677.10,412.84 L677.60,413.21 L678.10,413.57 L678.60,413.91 L679.10,414.25 L679.60,414.58 L680.10,414.90 L680.60,415.21 L681.10,415.51 L681.60,415.80 L682.10,416.08 L682.60,416.35 L683.10,416.62 L683.60,416.88 L684.10,417.12 L684.60,417.37 L685.10,417.60 L685.60,417.82 L686.10,418.04 L686.60,418.25 L687.10,418.46 L687.60,418.66 L688.10,418.85 L688.60,419.03 L689.10,419.21 L689.60,419.39 L690.10,419.55 L690.60,419.71 L691.10,419.87 L691.60,420.02 L692.10,420.17 L692.60,420.31 L693.10,420.44 L693.60,420.57 L694.10,420.70 L694.60,420.82 L695.10,420.94 L695.60,421.05 L696.10,421.16 L696.60,421.26 L697.10,421.37 L697.60,421.46 L698.10,421.56 L698.60,421.65 L699.10,421.74 L699.60,421.82 L700.10,421.90 L700.60,421.98 L701.10,422.06 L701.60,422.13 L702.10,422.20 L702.60,422.27 L703.10,422.33 L703.60,422.40 L704.10,422.46 L704.60,422.51 L705.10,422.57 L705.60,422.63 L706.10,422.68 L706.60,422.73 L707.10,422.78 L707.60,422.82 L708.10,422.87 L708.60,422.91 L709.10,422.95 L709.60,422.99 L710.10,423.03 L710.60,423.07 L711.10,423.10 L711.60,423.14 L712.10,423.17 L712.60,423.20 L713.10,423.23 L713.60,423.26 L714.10,423.29 L714.60,423.32 L715.10,423.34 L715.60,423.37 L716.10,423.39 L716.60,423.41 L717.10,423.44 L717.60,423.46 L718.10,423.48 L718.60,423.50 L719.10,423.52 L719.60,423.54 L720.10,423.55 L720.60,423.57 L721.10,423.59 L721.60,423.60 L722.10,423.62 L722.60,423.63 L723.10,423.65 L723.60,423.66 L724.10,423.67 L724.60,423.69 L725.10,423.70 L725.60,423.71 L726.10,423.72 L726.60,423.73 L727.10,423.74 L727.60,423.75 L728.10,423.76 L728.60,423.77 L729.10,423.78 L729.60,423.79 L730.10,423.80 L730.60,423.80 L731.10,423.81 L731.60,423.82 L732.10,423.83 L732.60,423.83 L733.10,423.84 L733.60,423.84 L734.10,423.85 L734.60,423.86 L735.10,423.86 L735.60,423.87 L736.10,423.87 L736.60,423.88 L737.10,423.88 L737.60,423.89 L738.10,423.89 L738.60,423.90 L739.10,423.90 L739.60,423.90 L740.10,423.91 L740.60,423.91 L741.10,423.91 L741.60,423.92 L742.10,423.92 L742.60,423.92 L743.10,423.93 L743.60,423.93" fill="none" stroke="#231f20" stroke-width="0.8"/>
<path d="M610.60,349.42 L611.10,349.42 L611.60,349.43 L612.10,349.43 L612.60,349.43 L613.10,349.43 L613.60,349.43 L614.10,349.44 L614.60,349.44 L615.10,349.44 L615.60,349.45 L616.10,349.45 L616.60,349.45 L617.10,349.46 L617.60,349.46 L618.10,349.47 L618.60,349.47 L619.10,349.48 L619.60,349.48 L620.10,349.49 L620.60,349.50 L621.10,349.50 L621.60,349.51 L622.10,349.52 L622.60,349.53 L623.10,349.54 L623.60,349.55 L624.10,349.56 L624.60,349.57 L625.10,349.59 L625.60,349.60 L626.10,349.62 L626.60,349.63 L627.10,349.65 L627.60,349.67 L628.10,349.69 L628.60,349.71 L629.10,349.74 L629.60,349.76 L630.10,349.79 L630.60,349.82 L631.10,349.85 L631.60,349.88 L632.10,349.92 L632.60,349.96 L633.10,350.00 L633.60,350.05 L634.10,350.10 L634.60,350.15 L635.10,350.21 L635.60,350.27 L636.10,350.34 L636.60,350.41 L637.10,350.49 L637.60,350.57 L638.10,350.66 L638.60,350.75 L639.10,350.86 L639.60,350.96 L640.10,351.08 L640.60,351.21 L641.10,351.34 L641.60,351.49 L642.10,351.65 L642.60,351.81 L643.10,351.99 L643.60,352.18 L644.10,352.39 L644.60,352.61 L645.10,352.85 L645.60,353.10 L646.10,353.37 L646.60,353.66 L647.10,353.96 L647.60,354.29 L648.10,354.64 L648.60,355.01 L649.10,355.41 L649.60,355.83 L650.10,356.28 L650.60,356.76 L651.10,357.27 L651.60,357.80 L652.10,358.37 L652.60,358.97 L653.10,359.61 L653.60,360.28 L654.10,360.99 L654.60,361.73 L655.10,362.52 L655.60,363.34 L656.10,364.20 L656.60,365.09 L657.10,366.03 L657.60,367.01 L658.10,368.03 L658.60,369.08 L659.10,370.18 L659.60,371.31 L660.10,372.47 L660.60,373.67 L661.10,374.90 L661.60,376.16 L662.10,377.44 L662.60,378.75 L663.10,380.08 L663.60,381.43 L664.10,382.79 L664.60,384.16 L665.10,385.54 L665.60,386.92 L666.10,388.30 L666.60,389.68 L667.10,391.05 L667.60,392.41 L668.10,393.75 L668.60,395.07 L669.10,396.37 L669.60,397.65 L670.10,398.90 L670.60,400.12 L671.10,401.31 L671.60,402.46 L672.10,403.58 L672.60,404.66 L673.10,405.70 L673.60,406.71 L674.10,407.67 L674.60,408.60 L675.10,409.48 L675.60,410.33 L676.10,411.14 L676.60,411.91 L677.10,412.64 L677.60,413.34 L678.10,414.00 L678.60,414.62 L679.10,415.21 L679.60,415.77 L680.10,416.30 L680.60,416.80 L681.10,417.26 L681.60,417.70 L682.10,418.12 L682.60,418.51 L683.10,418.87 L683.60,419.22 L684.10,419.54 L684.60,419.84 L685.10,420.12 L685.60,420.38 L686.10,420.63 L686.60,420.86 L687.10,421.08 L687.60,421.28 L688.10,421.47 L688.60,421.64 L689.10,421.81 L689.60,421.96 L690.10,422.10 L690.60,422.23 L691.10,422.36 L691.60,422.47 L692.10,422.58 L692.60,422.68 L693.10,422.77 L693.60,422.86 L694.10,422.94 L694.60,423.01 L695.10,423.08 L695.60,423.15 L696.10,423.21 L696.60,423.26 L697.10,423.32 L697.60,423.36 L698.10,423.41 L698.60,423.45 L699.10,423.49 L699.60,423.53 L700.10,423.56 L700.60,423.59 L701.10,423.62 L701.60,423.65 L702.10,423.67 L702.60,423.70 L703.10,423.72 L703.60,423.74 L704.10,423.76 L704.60,423.77 L705.10,423.79 L705.60,423.80 L706.10,423.82 L706.60,423.83 L707.10,423.84 L707.60,423.85 L708.10,423.87 L708.60,423.87 L709.10,423.88 L709.60,423.89 L710.10,423.90 L710.60,423.91 L711.10,423.91 L711.60,423.92 L712.10,423.93 L712.60,423.93 L713.10,423.94 L713.60,423.94 L714.10,423.94 L714.60,423.95 L715.10,423.95 L715.60,423.96 L716.10,423.96 L716.60,423.96 L717.10,423.96 L717.60,423.97 L718.10,423.97 L718.60,423.97 L719.10,423.97 L719.60,423.98 L720.10,423.98 L720.60,423.98 L721.10,423.98 L721.60,423.98 L722.10,423.98 L722.60,423.98 L723.10,423.99 L723.60,423.99 L724.10,423.99 L724.60,423.99 L725.10,423.99 L725.60,423.99 L726.10,423.99 L726.60,423.99 L727.10,423.99 L727.60,423.99 L728.10,423.99 L728.60,423.99 L729.10,423.99 L729.60,423.99 L730.10,423.99 L730.60,424.00 L731.10,424.00 L731.60,424.00 L732.10,424.00 L732.60,424.00 L733.10,424.00 L733.60,424.00 L734.10,424.00 L734.60,424.00 L735.10,424.00 L735.60,424.00 L736.10,424.00 L736.60,424.00 L737.10,424.00 L737.60,424.00 L738.10,424.00 L738.60,424.00 L739.10,424.00 L739.60,424.00 L740.10,424.00 L740.60,424.00 L741.10,424.00 L741.60,424.00 L742.10,424.00 L742.60,424.00 L743.10,424.00 L743.60,424.00" fill="none" stroke="#231f20" stroke-width="0.8"/>
<path d="M610.60,349.46 L611.10,349.46 L611.60,349.46 L612.10,349.47 L612.60,349.47 L613.10,349.47 L613.60,349.48 L614.10,349.48 L614.60,349.48 L615.10,349.49 L615.60,349.49 L616.10,349.50 L616.60,349.50 L617.10,349.50 L617.60,349.51 L618.10,349.51 L618.60,349.52 L619.10,349.52 L619.60,349.53 L620.10,349.54 L620.60,349.54 L621.10,349.55 L621.60,349.55 L622.10,349.56 L622.60,349.57 L623.10,349.58 L623.60,349.58 L624.10,349.59 L624.60,349.60 L625.10,349.61 L625.60,349.62 L626.10,349.63 L626.60,349.64 L627.10,349.65 L627.60,349.66 L628.10,349.67 L628.60,349.68 L629.10,349.70 L629.60,349.71 L630.10,349.72 L630.60,349.74 L631.10,349.75 L631.60,349.77 L632.10,349.78 L632.60,349.80 L633.10,349.82 L633.60,349.84 L634.10,349.86 L634.60,349.88 L635.10,349.90 L635.60,349.92 L636.10,349.94 L636.60,349.97 L637.10,349.99 L637.60,350.02 L638.10,350.05 L638.60,350.07 L639.10,350.10 L639.60,350.14 L640.10,350.17 L640.60,350.20 L641.10,350.24 L641.60,350.27 L642.10,350.31 L642.60,350.35 L643.10,350.39 L643.60,350.44 L644.10,350.48 L644.60,350.53 L645.10,350.58 L645.60,350.63 L646.10,350.69 L646.60,350.74 L647.10,350.80 L647.60,350.86 L648.10,350.93 L648.60,350.99 L649.10,351.06 L649.60,351.14 L650.10,351.21 L650.60,351.29 L651.10,351.37 L651.60,351.46 L652.10,351.55 L652.60,351.64 L653.10,351.74 L653.60,351.84 L654.10,351.94 L654.60,352.05 L655.10,352.16 L655.60,352.28 L656.10,352.41 L656.60,352.53 L657.10,352.67 L657.60,352.81 L658.10,352.95 L658.60,353.10 L659.10,353.26 L659.60,353.42 L660.10,353.59 L660.60,353.77 L661.10,353.95 L661.60,354.14 L662.10,354.34 L662.60,354.54 L663.10,354.75 L663.60,354.98 L664.10,355.20 L664.60,355.44 L665.10,355.69 L665.60,355.94 L666.10,356.21 L666.60,356.48 L667.10,356.77 L667.60,357.06 L668.10,357.37 L668.60,357.68 L669.10,358.01 L669.60,358.35 L670.10,358.70 L670.60,359.06 L671.10,359.43 L671.60,359.82 L672.10,360.21 L672.60,360.62 L673.10,361.05 L673.60,361.48 L674.10,361.93 L674.60,362.39 L675.10,362.86 L675.60,363.35 L676.10,363.85 L676.60,364.37 L677.10,364.90 L677.60,365.44 L678.10,366.00 L678.60,366.56 L679.10,367.15 L679.60,367.74 L680.10,368.35 L680.60,368.98 L681.10,369.61 L681.60,370.26 L682.10,370.92 L682.60,371.60 L683.10,372.28 L683.60,372.98 L684.10,373.69 L684.60,374.41 L685.10,375.14 L685.60,375.88 L686.10,376.63 L686.60,377.39 L687.10,378.16 L687.60,378.93 L688.10,379.71 L688.60,380.50 L689.10,381.29 L689.60,382.09 L690.10,382.89 L690.60,383.70 L691.10,384.51 L691.60,385.32 L692.10,386.13 L692.60,386.95 L693.10,387.76 L693.60,388.57 L694.10,389.38 L694.60,390.19 L695.10,390.99 L695.60,391.80 L696.10,392.59 L696.60,393.38 L697.10,394.16 L697.60,394.94 L698.10,395.71 L698.60,396.47 L699.10,397.23 L699.60,397.97 L700.10,398.70 L700.60,399.43 L701.10,400.14 L701.60,400.84 L702.10,401.53 L702.60,402.21 L703.10,402.88 L703.60,403.53 L704.10,404.17 L704.60,404.80 L705.10,405.42 L705.60,406.02 L706.10,406.61 L706.60,407.18 L707.10,407.74 L707.60,408.29 L708.10,408.83 L708.60,409.35 L709.10,409.85 L709.60,410.35 L710.10,410.83 L710.60,411.29 L711.10,411.75 L711.60,412.19 L712.10,412.61 L712.60,413.03 L713.10,413.43 L713.60,413.82 L714.10,414.20 L714.60,414.56 L715.10,414.92 L715.60,415.26 L716.10,415.59 L716.60,415.91 L717.10,416.22 L717.60,416.52 L718.10,416.81 L718.60,417.08 L719.10,417.35 L719.60,417.61 L720.10,417.86 L720.60,418.10 L721.10,418.34 L721.60,418.56 L722.10,418.78 L722.60,418.98 L723.10,419.18 L723.60,419.38 L724.10,419.56 L724.60,419.74 L725.10,419.91 L725.60,420.08 L726.10,420.24 L726.60,420.39 L727.10,420.54 L727.60,420.68 L728.10,420.81 L728.60,420.94 L729.10,421.07 L729.60,421.19 L730.10,421.31 L730.60,421.42 L731.10,421.52 L731.60,421.63 L732.10,421.72 L732.60,421.82 L733.10,421.91 L733.60,421.99 L734.10,422.08 L734.60,422.16 L735.10,422.24 L735.60,422.31 L736.10,422.38 L736.60,422.45 L737.10,422.51 L737.60,422.57 L738.10,422.63 L738.60,422.69 L739.10,422.75 L739.60,422.80 L740.10,422.85 L740.60,422.90 L741.10,422.94 L741.60,422.99 L742.10,423.03 L742.60,423.07 L743.10,423.11 L743.60,423.15" fill="none" stroke="#231f20" stroke-width="0.8"/>
<rect x="593.90" y="347.60" width="3.6" height="3.6" fill="#231f20"/>
<path d="M616.68,353.11 V359.11 M614.98,353.11 h3.4 M614.98,359.11 h3.4" stroke="#231f20" stroke-width="0.7" fill="none"/>
<path d="M616.68,353.91 L618.68,357.61 L614.68,357.61 Z" fill="#231f20"/>
<path d="M643.08,365.04 V374.04 M641.38,365.04 h3.4 M641.38,374.04 h3.4" stroke="#231f20" stroke-width="0.7" fill="none"/>
<path d="M643.08,367.34 L645.08,371.04 L641.08,371.04 Z" fill="#231f20"/>
<path d="M651.00,342.67 V348.67 M649.30,342.67 h3.4 M649.30,348.67 h3.4" stroke="#231f20" stroke-width="0.7" fill="none"/>
<circle cx="651.00" cy="345.67" r="1.9" fill="#231f20"/>
<rect x="649.20" y="354.31" width="3.6" height="3.6" fill="#231f20"/>
<rect x="662.40" y="378.93" width="3.6" height="3.6" fill="#231f20"/>
<path d="M669.48,404.33 V412.33 M667.78,404.33 h3.4 M667.78,412.33 h3.4" stroke="#231f20" stroke-width="0.7" fill="none"/>
<path d="M669.48,406.13 L671.48,409.83 L667.48,409.83 Z" fill="#231f20"/>
<rect x="675.60" y="407.28" width="3.6" height="3.6" fill="#231f20"/>
<path d="M677.40,363.05 V373.05 M675.70,363.05 h3.4 M675.70,373.05 h3.4" stroke="#231f20" stroke-width="0.7" fill="none"/>
<circle cx="677.40" cy="368.05" r="1.9" fill="#231f20"/>
<rect x="688.27" y="419.96" width="3.6" height="3.6" fill="#231f20"/>
<path d="M695.88,419.26 V424.26 M694.18,419.26 h3.4 M694.18,424.26 h3.4" stroke="#231f20" stroke-width="0.7" fill="none"/>
<path d="M695.88,419.56 L697.88,423.26 L693.88,423.26 Z" fill="#231f20"/>
<path d="M703.80,396.62 V406.62 M702.10,396.62 h3.4 M702.10,406.62 h3.4" stroke="#231f20" stroke-width="0.7" fill="none"/>
<circle cx="703.80" cy="401.62" r="1.9" fill="#231f20"/>
<circle cx="730.20" cy="423.25" r="1.9" fill="#231f20"/>
<line x1="595.7" y1="349.4" x2="603.6" y2="349.4" stroke="#231f20" stroke-width="0.8" />
<text x="597.0" y="369.5" font-size="11.6" fill="#231f20" text-anchor="start" >VC</text>
<text x="0" y="0" font-size="9.4" fill="#231f20" text-anchor="middle" transform="translate(564.4,386.4) rotate(-90)">I/I<tspan font-size="6.5" dy="2.2">max</tspan></text>
<line x1="672.4" y1="274.3" x2="672.4" y2="424" stroke="#bcbec0" stroke-width="0.8" stroke-dasharray="3,2"/>
<line x1="677.5" y1="274.3" x2="677.5" y2="424" stroke="#bcbec0" stroke-width="0.8" stroke-dasharray="3,2"/>
<line x1="704.0" y1="274.3" x2="704.0" y2="424" stroke="#bcbec0" stroke-width="0.8" stroke-dasharray="3,2"/>
<line x1="588.6" y1="274.3" x2="704" y2="274.3" stroke="#bcbec0" stroke-width="0.8" stroke-dasharray="3,2"/>
</svg></body></html>
